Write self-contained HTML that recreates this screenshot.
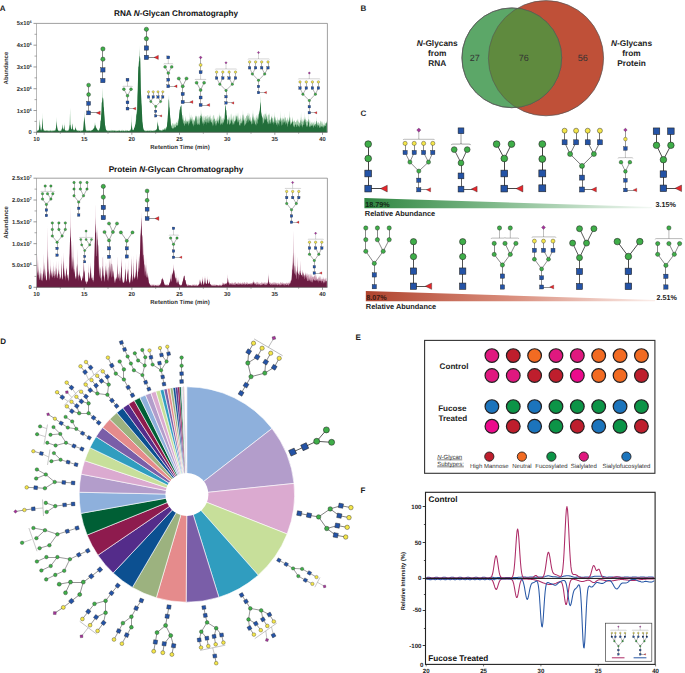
<!DOCTYPE html><html><head><meta charset="utf-8"><style>html,body{margin:0;padding:0;background:#fff;width:685px;height:673px;overflow:hidden}svg{display:block;font-family:"Liberation Sans",sans-serif}</style></head><body><svg width="685" height="673" viewBox="0 0 685 673" text-rendering="geometricPrecision" font-family='"Liberation Sans", sans-serif'>
<rect width="685" height="673" fill="#fff"/>
<text x="-0.2" y="10.7" font-size="8" font-weight="bold" text-anchor="start" fill="#222" font-style="normal" >A</text>
<text x="360.5" y="10.9" font-size="8" font-weight="bold" text-anchor="start" fill="#222" font-style="normal" >B</text>
<text x="360.5" y="115.6" font-size="8" font-weight="bold" text-anchor="start" fill="#222" font-style="normal" >C</text>
<text x="0.3" y="343.6" font-size="8" font-weight="bold" text-anchor="start" fill="#222" font-style="normal" >D</text>
<text x="355.5" y="339.9" font-size="8" font-weight="bold" text-anchor="start" fill="#222" font-style="normal" >E</text>
<text x="360.5" y="492.9" font-size="8" font-weight="bold" text-anchor="start" fill="#222" font-style="normal" >F</text>
<line x1="36.5" y1="23.4" x2="327.4" y2="23.4" stroke="#777" stroke-width="0.7" />
<line x1="327.4" y1="23.4" x2="327.4" y2="132.3" stroke="#777" stroke-width="0.7" />
<path d="M36.7 132.3 L36.7 130.64 L37 130.49 L37.3 130.43 L37.6 129.98 L37.9 129.81 L38.2 130.49 L38.5 130.27 L38.8 130.04 L39.1 128.42 L39.4 126.27 L39.7 121.31 L39.8 118.62 L40 123.22 L40.3 127.65 L40.6 129.72 L40.9 130.05 L41.2 130.41 L41.5 129.82 L41.8 128.75 L42.1 125 L42.4 117.35 L42.5 112.39 L42.7 121.97 L43 127.52 L43.3 129.19 L43.6 129.75 L43.9 130.57 L44.2 130.65 L44.5 130.14 L44.8 130.04 L45.1 130.01 L45.4 130.7 L45.7 130.41 L46 130.6 L46.3 129.88 L46.6 130.01 L46.9 130.04 L47.2 130.03 L47.5 130.46 L47.8 129.82 L48.1 130.63 L48.4 130.64 L48.7 130 L49 129.98 L49.3 130.19 L49.6 130.31 L49.9 130.7 L50.2 130.2 L50.5 129.83 L50.8 129.92 L51.1 130.55 L51.4 130.44 L51.7 130.4 L52 129.86 L52.3 130.7 L52.6 130.01 L52.9 130.3 L53.2 130.03 L53.5 130.56 L53.8 130.06 L54.1 130.35 L54.4 130.33 L54.7 129.91 L55 129.82 L55.3 130.42 L55.6 130.02 L55.9 128.28 L56.2 126.05 L56.5 122.62 L56.7 116.73 L56.8 119.23 L57.1 126.29 L57.4 128.57 L57.7 129.77 L58 130.01 L58.3 130.51 L58.6 130.59 L58.9 130.54 L59.2 130.7 L59.5 130.39 L59.8 130.35 L60.1 130.5 L60.4 129.96 L60.7 130.41 L61 130.47 L61.3 130.68 L61.6 129.8 L61.9 128.85 L62.2 127.15 L62.5 122.89 L62.8 127.2 L63.1 129.07 L63.4 129.98 L63.7 129.11 L64 126.6 L64.2 122.08 L64.3 124.56 L64.6 128.81 L64.9 129.95 L65.2 130.12 L65.5 130.69 L65.8 129.8 L66.1 130.41 L66.4 130.09 L66.7 129.87 L67 130.67 L67.3 130.51 L67.6 130.58 L67.9 130.25 L68.2 130.46 L68.5 129.84 L68.8 128.68 L69.1 127.12 L69.4 124.09 L69.7 119.7 L70 112.8 L70.1 107.72 L70.3 114.11 L70.6 121.35 L70.9 125.39 L71.2 127.58 L71.5 129.02 L71.8 128.93 L72.1 127.42 L72.4 123.58 L72.5 121.92 L72.7 125.67 L73 128.14 L73.3 129.42 L73.6 129.9 L73.9 130.48 L74.2 130.4 L74.5 130.01 L74.8 129.64 L75.1 128.81 L75.4 126.36 L75.5 125.29 L75.7 127.38 L76 128.79 L76.3 129.99 L76.6 129.9 L76.9 130.23 L77.2 130.37 L77.5 130.47 L77.8 130.62 L78.1 130.3 L78.4 130.27 L78.7 130.04 L79 130.69 L79.3 130.65 L79.6 130.64 L79.9 130.65 L80.2 130.63 L80.5 130.33 L80.8 129.75 L81.1 130.06 L81.4 129.76 L81.7 130.43 L82 130.5 L82.3 130.39 L82.6 130.04 L82.9 130.33 L83.2 129.74 L83.5 126.69 L83.8 122.42 L84.1 118.94 L84.4 110.86 L84.7 120.28 L85 122.85 L85.3 126.46 L85.6 129.39 L85.9 130.26 L86.2 129.77 L86.5 130.11 L86.8 129.87 L87.1 130.65 L87.4 130.09 L87.7 129.89 L88 130.61 L88.3 129.98 L88.6 130.61 L88.9 130.12 L89.2 130.23 L89.5 130.13 L89.8 130.58 L90.1 130.61 L90.4 130.37 L90.7 130.37 L91 129.82 L91.3 130.36 L91.6 130.03 L91.9 130.23 L92.2 129.94 L92.5 129.9 L92.8 129.53 L93.1 129.46 L93.4 128.77 L93.7 128.56 L94 127.67 L94.3 126.42 L94.6 124.75 L94.9 122.65 L95 122.06 L95.2 123.41 L95.5 125.27 L95.8 126.72 L96.1 127.6 L96.4 128.27 L96.7 128.83 L97 129.31 L97.3 129.68 L97.6 129.81 L97.9 129.76 L98.2 130.44 L98.5 130.09 L98.8 130.61 L99.1 130.3 L99.4 129.5 L99.7 128.6 L100 127.55 L100.3 124.93 L100.6 120.69 L100.9 120.42 L101.2 115.19 L101.5 111.57 L101.8 102.7 L102.1 101.98 L102.4 98.74 L102.7 87.28 L103 97.59 L103.3 100.14 L103.6 106.58 L103.9 108.02 L104.2 114.02 L104.5 117.39 L104.8 121.8 L105.1 125.27 L105.4 126.72 L105.7 128.86 L106 129.6 L106.3 130.19 L106.6 130.49 L106.9 130.48 L107.2 130.44 L107.5 130.29 L107.8 130.41 L108.1 130.39 L108.4 130.7 L108.7 129.92 L109 130.62 L109.3 130.68 L109.6 129.79 L109.9 130.68 L110.2 130.69 L110.5 130.02 L110.8 130.03 L111.1 129.78 L111.4 129.97 L111.7 130.16 L112 130.57 L112.3 129.97 L112.6 130 L112.9 130.02 L113.2 130.16 L113.5 130.08 L113.8 130 L114.1 130.59 L114.4 129.88 L114.7 130.34 L115 130.27 L115.3 130.62 L115.6 130.14 L115.9 130.29 L116.2 130.34 L116.5 130.69 L116.8 130.48 L117.1 130.22 L117.4 130.64 L117.7 130.51 L118 130.7 L118.3 129.75 L118.6 130.37 L118.9 130.57 L119.2 130.43 L119.5 130.05 L119.8 129.79 L120.1 130.69 L120.4 130.63 L120.7 130.69 L121 129.92 L121.3 129.82 L121.6 130.68 L121.9 130.46 L122.2 129.8 L122.5 129.8 L122.8 130.64 L123.1 130.69 L123.4 129.87 L123.7 130.13 L124 130.65 L124.3 130.54 L124.6 130.52 L124.9 130.63 L125.2 130.7 L125.5 129.84 L125.8 129.9 L126.1 130.22 L126.4 130.65 L126.7 129.92 L127 130.37 L127.3 130.61 L127.6 129.85 L127.9 130.51 L128.2 130.65 L128.5 130.61 L128.8 130.69 L129.1 130.57 L129.4 130.34 L129.7 129.92 L130 130.67 L130.3 130.34 L130.6 130.24 L130.9 128.71 L131.2 125.05 L131.5 118.45 L131.6 114.06 L131.8 121.54 L132.1 126.68 L132.4 129.44 L132.7 129.91 L133 130.44 L133.3 130.06 L133.6 130.3 L133.9 129.09 L134.2 128.08 L134.5 127.86 L134.8 126.75 L135.1 125.35 L135.4 124.11 L135.7 121.24 L136 116.17 L136.2 111.62 L136.3 112.54 L136.5 106.68 L136.6 110.07 L136.9 114.55 L137.2 108.96 L137.5 96.4 L137.8 89.59 L138.1 74.4 L138.4 67.09 L138.7 66.36 L139 60.44 L139.3 55.91 L139.4 44.95 L139.6 57.98 L139.9 55.71 L140.2 58.99 L140.5 72.66 L140.8 88.12 L141.1 95.9 L141.4 103.09 L141.7 106.42 L142 113.12 L142.3 121.29 L142.6 123.24 L142.9 125.39 L143.2 128.15 L143.5 128.88 L143.8 129.97 L144.1 130.17 L144.4 130.21 L144.7 130.65 L145 130.5 L145.3 130.06 L145.6 130.55 L145.9 130.66 L146.2 130.7 L146.5 130.29 L146.8 130.7 L147.1 130.58 L147.4 130.55 L147.7 130.03 L148 130.53 L148.3 130.69 L148.6 130.36 L148.9 129.78 L149.2 129.94 L149.5 130.42 L149.8 130.5 L150.1 129.78 L150.4 130.29 L150.7 130.62 L151 130.33 L151.3 130.31 L151.6 130.58 L151.9 130.28 L152.2 130.68 L152.5 129.93 L152.8 130.66 L153.1 129.97 L153.4 130.29 L153.7 130.69 L154 130.26 L154.3 130.43 L154.6 130.29 L154.9 130.08 L155.2 129.98 L155.5 129.81 L155.8 130.28 L156.1 129.85 L156.4 129.56 L156.7 129.55 L157 128.33 L157.3 125.6 L157.6 122.56 L157.8 119.81 L157.9 121.58 L158.2 125.68 L158.5 126.47 L158.8 129.17 L159.1 129.58 L159.4 130 L159.7 130.43 L160 130.46 L160.3 129.8 L160.6 129.96 L160.9 129.65 L161.2 130 L161.5 130.06 L161.8 130.04 L162.1 129.67 L162.4 129.72 L162.7 129.19 L163 128.68 L163.3 129.38 L163.6 129.33 L163.9 129.24 L164.2 127.79 L164.5 128.2 L164.8 128.55 L165.1 127.94 L165.4 128.82 L165.7 127.38 L166 128.54 L166.3 127.26 L166.6 126.8 L166.9 126.77 L167.2 123.31 L167.5 121.18 L167.8 117 L168.1 112.19 L168.4 108.49 L168.7 99.55 L169 94.42 L169.3 106.74 L169.6 108.29 L169.9 112.5 L170.2 117.15 L170.5 119.52 L170.8 123.37 L171.1 125.81 L171.4 125.51 L171.7 124.03 L172 126.32 L172.3 123.91 L172.6 122.83 L172.9 123.32 L173.2 125.75 L173.5 124.43 L173.8 123.12 L174.1 124.7 L174.4 125.12 L174.7 123.57 L175 123.47 L175.3 124.31 L175.6 124.73 L175.9 122.73 L176.2 121.6 L176.5 122.76 L176.8 122.82 L177.1 123.3 L177.4 123.41 L177.7 119.96 L178 123.8 L178.3 121.7 L178.6 119.55 L178.9 118.15 L179.2 114.85 L179.5 112.27 L179.8 109.31 L180.1 109.93 L180.4 106.42 L180.6 105.06 L180.7 107.09 L181 105.88 L181.3 104.75 L181.6 111.33 L181.9 113.82 L182.2 115.41 L182.5 117.9 L182.8 119.77 L183.1 117.64 L183.35 113.99 L183.4 116.72 L183.7 119.59 L184 120.99 L184.3 120.19 L184.6 121.22 L184.9 120.71 L185.2 120.09 L185.5 115.87 L185.8 118.53 L186.1 120.68 L186.4 120.9 L186.7 120.9 L187 117.91 L187.3 121.02 L187.6 121.11 L187.9 120.59 L188.2 121.23 L188.5 121.18 L188.8 118.87 L189.1 120.86 L189.4 121.11 L189.7 118.71 L189.95 111.41 L190 114.26 L190.3 120.26 L190.6 118.24 L190.9 116.74 L191 113.93 L191.2 115.59 L191.5 120.87 L191.8 117.06 L192.1 120.22 L192.4 116.23 L192.7 117.35 L193 121.13 L193.3 119.04 L193.6 120.65 L193.9 119.36 L194.2 119.86 L194.5 120.76 L194.8 119.92 L195.1 118.05 L195.4 118.98 L195.7 117.05 L196 113.96 L196.3 117.05 L196.6 116.35 L196.9 121.22 L197.2 119.38 L197.5 115.58 L197.8 119.17 L198.1 120.28 L198.4 115.29 L198.7 116.51 L199 119.66 L199.3 115.93 L199.6 119.55 L199.9 116.18 L200.2 115.68 L200.5 115.46 L200.5 115.63 L200.8 114.57 L201 108.53 L201.1 111.64 L201.4 116.48 L201.7 116.56 L202 120.75 L202.3 117.4 L202.6 115.48 L202.9 118 L203.2 120.82 L203.5 116.62 L203.8 115.23 L204.1 121.29 L204.4 117.93 L204.7 117.38 L204.98 114.41 L205 115.18 L205.3 120.82 L205.6 116.39 L205.9 116.47 L206.2 116.13 L206.5 121.05 L206.8 116.24 L206.99 115.25 L207.1 118.19 L207.4 118.74 L207.7 115.3 L208 114.8 L208.3 120.43 L208.6 120.95 L208.9 116.44 L209 114.12 L209.2 116.2 L209.5 116.68 L209.8 120.6 L210.1 116.25 L210.4 115.25 L210.46 113.06 L210.7 120.15 L211 120.12 L211.3 118.86 L211.6 117.83 L211.9 120.79 L212.2 120.95 L212.5 115.2 L212.8 120.7 L213.1 119.79 L213.4 115.09 L213.7 115.77 L214 114.56 L214.3 118.34 L214.6 119.84 L214.9 117.36 L215.2 120.56 L215.5 120.97 L215.8 120.82 L216.1 117.96 L216.4 120.72 L216.7 120.57 L217 118.81 L217.3 117.46 L217.5 115.5 L217.6 117.37 L217.9 121.07 L218.2 120.26 L218.5 120.59 L218.8 118.97 L219 113.1 L219.1 116.55 L219.4 115.57 L219.7 115.06 L219.84 111.71 L220 115.13 L220.3 116.46 L220.6 117.06 L220.9 115.67 L221.2 121.06 L221.5 114.79 L221.8 120.01 L222.1 117.82 L222.4 119.99 L222.7 120.72 L223 117.15 L223.3 119.08 L223.6 117.47 L223.9 121.11 L224.2 119.04 L224.5 120.21 L224.8 115.12 L225.1 109.93 L225.4 105.86 L225.7 104.37 L226 109.43 L226.3 110.64 L226.6 115.81 L226.9 115.31 L227.2 119.24 L227.5 119.57 L227.8 118.93 L228.1 120.72 L228.4 119.42 L228.55 114.12 L228.7 119.13 L229 116.66 L229.3 121.04 L229.6 115.71 L229.9 118.16 L230.2 120.34 L230.5 120.58 L230.8 115.43 L231.06 112.45 L231.1 113.9 L231.4 114.75 L231.7 121.26 L232 116.04 L232.3 118.86 L232.6 120.13 L232.9 118.15 L233.2 115.6 L233.5 120.44 L233.8 115.48 L234.1 115.19 L234.4 120.99 L234.7 121.26 L235 121.03 L235.3 119.41 L235.6 115.54 L235.9 115.45 L236 112.32 L236.2 115.99 L236.5 117.5 L236.68 114.19 L236.8 118.27 L237.1 117.61 L237.4 115.64 L237.7 115.85 L238 112.45 L238.04 112.33 L238.3 116.57 L238.6 120.54 L238.9 120.61 L239.2 120.04 L239.5 120.08 L239.8 118.04 L240.1 119.42 L240.4 114.76 L240.7 118.66 L241 119 L241.3 121 L241.6 121.05 L241.9 117.33 L242.2 117.95 L242.5 121.24 L242.8 114.25 L243 109.84 L243.1 113.82 L243.4 116.41 L243.7 120.68 L244 118.79 L244.3 119.82 L244.6 120.89 L244.9 115.64 L245.2 120.76 L245.5 117.89 L245.8 118.33 L246.1 116.2 L246.37 114.69 L246.4 115.87 L246.7 116.17 L247 116.29 L247.3 120.43 L247.6 116.75 L247.77 114.52 L247.9 115.18 L248 111.29 L248.2 115.13 L248.5 115.89 L248.8 116.47 L249.1 121.01 L249.4 118.27 L249.54 113.42 L249.7 114.75 L249.79 112.5 L250 116.75 L250.3 116.85 L250.6 120.63 L250.9 117.2 L251.2 120.18 L251.5 121.02 L251.8 121.06 L252.1 118.53 L252.4 117.3 L252.7 117.79 L253 109.34 L253.3 117.9 L253.6 115.73 L253.9 120.43 L254.2 119.69 L254.5 116.78 L254.8 119.14 L255.1 121.08 L255.4 119.75 L255.7 118.94 L256 115.3 L256.3 115.33 L256.6 118.1 L256.9 117.45 L257.2 119.42 L257.5 117.52 L257.74 115.98 L257.8 114.06 L258.1 118.07 L258.4 118.83 L258.7 113.71 L258.75 111.82 L259 114.89 L259.3 109.99 L259.6 113.7 L259.9 108.99 L260.2 105.92 L260.5 95.34 L260.8 101.94 L261.1 112.04 L261.4 113.72 L261.7 115.48 L262 116.59 L262.13 115.81 L262.3 116.43 L262.6 118.3 L262.9 117.25 L263.2 119.18 L263.5 115.19 L263.8 114.59 L264.1 114.15 L264.14 112.08 L264.4 119.14 L264.7 117.56 L264.77 113.53 L264.91 115.1 L265 112.77 L265.3 115.19 L265.6 113.83 L265.9 113.95 L266 109.78 L266.2 115.89 L266.5 115.13 L266.63 112.42 L266.8 117.54 L267.1 114.45 L267.4 117.75 L267.7 119.52 L268 118.79 L268.3 113.17 L268.6 115.58 L268.9 114.55 L269.2 114.9 L269.5 112.54 L269.8 119.3 L270.1 119.19 L270.4 121.09 L270.7 118.65 L271 120.52 L271.3 117.61 L271.48 116.21 L271.6 118.89 L271.9 115.83 L272 112.47 L272.2 118.29 L272.5 117.55 L272.8 121.35 L273.1 121.38 L273.4 121.45 L273.7 119.47 L274 116.83 L274.3 118.63 L274.6 116.81 L274.84 111.55 L274.9 114.42 L275.03 116.83 L275.2 117.09 L275.5 118.19 L275.8 121.35 L276.1 121.42 L276.4 121.01 L276.7 119.69 L277 120.36 L277.3 119.19 L277.6 116.76 L277.9 121.73 L278.2 119.37 L278.5 120.37 L278.8 120.82 L279.1 118.08 L279.4 121.69 L279.7 120.47 L280 119.19 L280.21 110.44 L280.3 114.81 L280.6 121.92 L280.9 117.72 L281.2 120.63 L281.5 117.41 L281.8 120.48 L282.1 119.53 L282.27 115.2 L282.4 118.95 L282.7 120.93 L283 118.09 L283.3 119.84 L283.6 118.64 L283.9 117.9 L284 115.15 L284.06 112.77 L284.2 116.93 L284.5 121.44 L284.8 121.6 L285.1 117.56 L285.4 117.52 L285.7 116.83 L285.7 117.24 L286 120.91 L286.3 121.33 L286.6 119.72 L286.9 119.99 L287.2 116.93 L287.5 120.4 L287.8 117.52 L288.1 122.37 L288.4 120.6 L288.7 120.54 L289 118.41 L289.3 112.09 L289.36 109.95 L289.6 118.94 L289.81 115.61 L289.9 118.6 L290.2 116.99 L290.5 120.03 L290.8 121.24 L291.1 122.67 L291.4 121.66 L291.7 122.7 L292 118.42 L292.26 116.22 L292.3 117.4 L292.6 122.01 L292.9 117.69 L293.2 121.81 L293.5 121.88 L293.8 121.32 L294.1 120.96 L294.4 120.08 L294.7 120.93 L295 121.89 L295.3 122.15 L295.6 122.26 L295.9 122.24 L296.2 120.23 L296.5 122.72 L296.8 120.08 L297.1 121.59 L297.4 118.83 L297.7 121.25 L298 118.02 L298.3 122.49 L298.6 120.93 L298.9 122.31 L299.2 122.91 L299.5 123.23 L299.8 122.07 L300.1 122.59 L300.4 123.39 L300.7 120.05 L300.92 116.03 L301 112.1 L301.02 111.79 L301.3 119.4 L301.6 121.41 L301.9 121.44 L302.2 121.97 L302.5 118.62 L302.8 121.68 L303.1 122.71 L303.4 121.97 L303.7 119.67 L303.81 116.72 L304 121.27 L304.3 120.11 L304.5 111.3 L304.6 116.68 L304.9 119.11 L305.2 119.67 L305.44 115.89 L305.5 118.08 L305.8 119.67 L306.1 120.01 L306.4 120.3 L306.7 122.2 L307 121.87 L307.3 121.25 L307.6 120.42 L307.9 121.68 L308.2 121.94 L308.5 119.05 L308.64 111.86 L308.8 119.46 L309.1 119.4 L309.4 121.48 L309.7 123.59 L310 119.98 L310.3 122.2 L310.6 124.13 L310.9 123.69 L311.2 122.66 L311.5 121.47 L311.8 123.44 L312.1 123.93 L312.4 123.39 L312.7 121.29 L313 123.95 L313.3 123.37 L313.6 121.83 L313.9 123.47 L314.2 120.48 L314.5 124.14 L314.8 124.37 L315.1 124.19 L315.4 121.44 L315.7 123.94 L316 124.13 L316.3 120.82 L316.49 116.61 L316.6 119.75 L316.9 124.43 L317.2 124.19 L317.5 121.9 L317.8 123.17 L318.1 122.07 L318.4 122.03 L318.7 123.71 L319 122.34 L319.3 124.72 L319.6 123.98 L319.9 123.11 L320.2 122.67 L320.5 121.06 L320.8 120.4 L321.1 122.11 L321.4 121.03 L321.7 124.82 L322 121.8 L322.3 124.07 L322.6 123.78 L322.9 120.92 L323.2 123.83 L323.5 124.87 L323.8 125.03 L324.1 124.96 L324.4 124.94 L324.7 121.07 L325 124.22 L325.3 124.61 L325.6 123.37 L325.9 122.89 L326.2 122.24 L326.5 120.29 L326.8 123.82 L326.8 132.3 Z" fill="#9fcaa8"/>
<path d="M36.7 132.3 L36.7 131.22 L37 131.04 L37.3 131.42 L37.6 131.06 L37.9 130.78 L38.2 130.49 L38.5 130.59 L38.8 130.04 L39.1 128.42 L39.4 126.27 L39.7 124.67 L39.8 119.49 L40 123.51 L40.3 127.66 L40.6 129.72 L40.9 130.59 L41.2 130.79 L41.5 129.82 L41.8 128.75 L42.1 125 L42.4 117.63 L42.5 119.25 L42.7 123.41 L43 128.35 L43.3 129.19 L43.6 130.09 L43.9 130.89 L44.2 130.87 L44.5 130.73 L44.8 131.02 L45.1 130.8 L45.4 131.21 L45.7 130.73 L46 131.32 L46.3 131 L46.6 130.98 L46.9 130.77 L47.2 131.36 L47.5 130.72 L47.8 131.18 L48.1 130.92 L48.4 131.4 L48.7 130.78 L49 131.38 L49.3 130.72 L49.6 131.22 L49.9 131.4 L50.2 130.72 L50.5 131.08 L50.8 131.15 L51.1 131.3 L51.4 131.29 L51.7 131.22 L52 131.16 L52.3 131.08 L52.6 131.49 L52.9 130.91 L53.2 131.05 L53.5 131.28 L53.8 131.01 L54.1 130.95 L54.4 131.03 L54.7 130.69 L55 130.62 L55.3 130.87 L55.6 130.02 L55.9 128.28 L56.2 126.05 L56.5 124.72 L56.7 122.56 L56.8 120.96 L57.1 127.01 L57.4 128.57 L57.7 129.77 L58 130.33 L58.3 130.67 L58.6 130.88 L58.9 131.1 L59.2 131.16 L59.5 131.3 L59.8 131.13 L60.1 131.1 L60.4 131.28 L60.7 131.03 L61 131.11 L61.3 130.68 L61.6 129.8 L61.9 128.85 L62.2 128.18 L62.5 124.57 L62.8 128.24 L63.1 129.07 L63.4 129.98 L63.7 129.11 L64 127.84 L64.2 125.67 L64.3 124.79 L64.6 128.81 L64.9 129.95 L65.2 130.12 L65.5 131.06 L65.8 131.08 L66.1 130.86 L66.4 131.19 L66.7 131.23 L67 131.06 L67.3 130.98 L67.6 130.91 L67.9 130.25 L68.2 130.69 L68.5 130.68 L68.8 129.8 L69.1 129.45 L69.4 128.21 L69.7 125.7 L70 124.92 L70.1 125.22 L70.3 124.52 L70.6 126.73 L70.9 128.02 L71.2 129.43 L71.5 129.41 L71.8 128.93 L72.1 128.82 L72.4 124.09 L72.5 123.79 L72.7 125.78 L73 128.76 L73.3 129.42 L73.6 129.9 L73.9 130.5 L74.2 130.4 L74.5 130.01 L74.8 129.64 L75.1 129.18 L75.4 128.32 L75.5 127.21 L75.7 127.9 L76 128.79 L76.3 129.99 L76.6 130.35 L76.9 130.96 L77.2 131.07 L77.5 130.56 L77.8 130.75 L78.1 131.4 L78.4 131.13 L78.7 130.87 L79 131.08 L79.3 130.73 L79.6 130.76 L79.9 130.84 L80.2 131.47 L80.5 131.41 L80.8 131.42 L81.1 131.21 L81.4 130.99 L81.7 131.01 L82 131.49 L82.3 130.97 L82.6 130.68 L82.9 130.33 L83.2 129.74 L83.5 126.69 L83.8 122.42 L84.1 118.94 L84.4 116.87 L84.7 120.28 L85 122.85 L85.3 126.46 L85.6 129.39 L85.9 130.26 L86.2 130.82 L86.5 131.12 L86.8 131.42 L87.1 131.19 L87.4 130.9 L87.7 130.78 L88 131.34 L88.3 130.93 L88.6 130.83 L88.9 131.14 L89.2 130.69 L89.5 131.06 L89.8 130.58 L90.1 131.22 L90.4 131.2 L90.7 131.02 L91 130.89 L91.3 130.5 L91.6 130.71 L91.9 130.23 L92.2 129.94 L92.5 130.15 L92.8 129.53 L93.1 129.46 L93.4 128.77 L93.7 128.71 L94 128.08 L94.3 128.2 L94.6 126.76 L94.9 125.5 L95 125.74 L95.2 124.97 L95.5 125.71 L95.8 127.58 L96.1 127.6 L96.4 128.27 L96.7 128.83 L97 129.31 L97.3 129.68 L97.6 130.2 L97.9 130.54 L98.2 130.76 L98.5 130.56 L98.8 130.77 L99.1 130.44 L99.4 129.5 L99.7 128.6 L100 127.55 L100.3 124.93 L100.6 120.69 L100.9 120.42 L101.2 115.19 L101.5 111.57 L101.8 102.7 L102.1 101.98 L102.4 98.74 L102.7 97.5 L103 97.59 L103.3 100.14 L103.6 106.58 L103.9 108.02 L104.2 114.02 L104.5 117.39 L104.8 121.8 L105.1 125.27 L105.4 126.72 L105.7 128.86 L106 129.6 L106.3 130.19 L106.6 130.49 L106.9 130.79 L107.2 131.17 L107.5 131.42 L107.8 130.75 L108.1 130.71 L108.4 131.38 L108.7 131.43 L109 130.91 L109.3 130.92 L109.6 131.3 L109.9 130.85 L110.2 131.11 L110.5 131.38 L110.8 131.19 L111.1 131.45 L111.4 130.72 L111.7 131.2 L112 131.5 L112.3 131.47 L112.6 130.82 L112.9 131.06 L113.2 131.01 L113.5 131.3 L113.8 131.43 L114.1 130.88 L114.4 131.04 L114.7 130.79 L115 131.12 L115.3 131.35 L115.6 131.36 L115.9 131.21 L116.2 131.18 L116.5 131.38 L116.8 130.7 L117.1 131.42 L117.4 130.87 L117.7 131.02 L118 131.08 L118.3 131.47 L118.6 130.81 L118.9 131.05 L119.2 130.88 L119.5 130.74 L119.8 130.84 L120.1 131.3 L120.4 131.34 L120.7 131.43 L121 131.05 L121.3 131.13 L121.6 130.77 L121.9 131.02 L122.2 131.4 L122.5 130.99 L122.8 131.14 L123.1 131.32 L123.4 130.78 L123.7 130.87 L124 131.45 L124.3 130.96 L124.6 131.41 L124.9 131.11 L125.2 130.96 L125.5 131.47 L125.8 130.8 L126.1 130.82 L126.4 130.99 L126.7 131.38 L127 131.36 L127.3 130.96 L127.6 130.69 L127.9 130.84 L128.2 131.03 L128.5 131.26 L128.8 130.89 L129.1 130.76 L129.4 131.06 L129.7 131.23 L130 131.07 L130.3 130.38 L130.6 130.24 L130.9 128.98 L131.2 127.83 L131.5 125 L131.6 121.6 L131.8 125.15 L132.1 128.08 L132.4 129.76 L132.7 129.91 L133 130.44 L133.3 130.06 L133.6 130.3 L133.9 129.09 L134.2 128.08 L134.5 127.86 L134.8 126.75 L135.1 125.35 L135.4 124.55 L135.7 123.46 L136 120.48 L136.2 118.63 L136.3 114.61 L136.5 116.52 L136.6 114.02 L136.9 114.55 L137.2 108.96 L137.5 96.4 L137.8 89.59 L138.1 74.4 L138.4 67.09 L138.7 66.36 L139 60.44 L139.3 61.77 L139.4 48.92 L139.6 58.9 L139.9 55.71 L140.2 58.99 L140.5 72.66 L140.8 88.12 L141.1 95.9 L141.4 103.09 L141.7 106.42 L142 113.12 L142.3 121.29 L142.6 123.24 L142.9 125.39 L143.2 128.15 L143.5 128.88 L143.8 130.02 L144.1 130.17 L144.4 130.47 L144.7 131.12 L145 130.69 L145.3 131.03 L145.6 131.4 L145.9 131.14 L146.2 131.44 L146.5 130.71 L146.8 131.06 L147.1 130.98 L147.4 130.83 L147.7 131.36 L148 130.84 L148.3 131.31 L148.6 131.1 L148.9 131.15 L149.2 130.83 L149.5 131.23 L149.8 131.05 L150.1 130.81 L150.4 131.26 L150.7 131.48 L151 131.17 L151.3 130.79 L151.6 131.07 L151.9 131.31 L152.2 131.02 L152.5 131.14 L152.8 130.87 L153.1 131.39 L153.4 130.69 L153.7 130.83 L154 131.42 L154.3 130.8 L154.6 130.61 L154.9 131.15 L155.2 130.68 L155.5 130.36 L155.8 130.28 L156.1 130.27 L156.4 129.56 L156.7 129.62 L157 128.45 L157.3 125.6 L157.6 122.56 L157.8 122.42 L157.9 124.33 L158.2 125.68 L158.5 126.47 L158.8 129.28 L159.1 129.58 L159.4 130 L159.7 130.43 L160 130.46 L160.3 130.6 L160.6 130.46 L160.9 130.48 L161.2 130.52 L161.5 131.16 L161.8 130.93 L162.1 130.64 L162.4 130.74 L162.7 129.93 L163 130.54 L163.3 129.74 L163.6 129.91 L163.9 129.9 L164.2 129.56 L164.5 129.36 L164.8 129.62 L165.1 130.53 L165.4 129.71 L165.7 129.3 L166 128.73 L166.3 128.6 L166.6 127.35 L166.9 126.77 L167.2 123.31 L167.5 121.18 L167.8 117 L168.1 112.19 L168.4 108.49 L168.7 99.55 L169 99.84 L169.3 106.74 L169.6 108.29 L169.9 112.5 L170.2 117.15 L170.5 119.52 L170.8 123.37 L171.1 125.81 L171.4 126.21 L171.7 127.56 L172 128.17 L172.3 128.7 L172.6 128.11 L172.9 128.39 L173.2 127.7 L173.5 128.64 L173.8 128.48 L174.1 125.81 L174.4 127.92 L174.7 127.38 L175 126.82 L175.3 127.25 L175.6 127.13 L175.9 127.62 L176.2 125.31 L176.5 125.94 L176.8 124.97 L177.1 125.14 L177.4 125.08 L177.7 126.12 L178 125.42 L178.3 121.7 L178.6 119.93 L178.9 118.15 L179.2 114.85 L179.5 112.27 L179.8 109.31 L180.1 109.93 L180.4 106.42 L180.6 107.15 L180.7 107.09 L181 105.88 L181.3 104.75 L181.6 111.33 L181.9 113.82 L182.2 115.41 L182.5 119.03 L182.8 120 L183.1 123.46 L183.35 122.33 L183.4 118.88 L183.7 123.3 L184 124.35 L184.3 125.96 L184.6 125.48 L184.9 122.32 L185.2 123.64 L185.5 124.33 L185.8 121.72 L186.1 121.75 L186.4 123.02 L186.7 123.71 L187 124.7 L187.3 122.22 L187.6 121.65 L187.9 122.08 L188.2 123.07 L188.5 124.87 L188.8 126.12 L189.1 121.93 L189.4 124.36 L189.7 122.58 L189.95 118.78 L190 119.08 L190.3 120.55 L190.6 122.4 L190.9 116.74 L191 119.05 L191.2 118.87 L191.5 121.98 L191.8 120.32 L192.1 121.14 L192.4 125.08 L192.7 122.83 L193 124.44 L193.3 126.73 L193.6 124.89 L193.9 122.86 L194.2 121.35 L194.5 121.06 L194.8 124.81 L195.1 125.11 L195.4 119.44 L195.7 117.05 L196 115.48 L196.3 117.05 L196.6 121.06 L196.9 124.08 L197.2 124.42 L197.5 125.3 L197.8 122.41 L198.1 123.77 L198.4 124.71 L198.7 124.31 L199 121.98 L199.3 125.01 L199.6 125.19 L199.9 122.95 L200.2 118.08 L200.5 117.99 L200.5 119.51 L200.8 115.29 L201 116.27 L201.1 113.14 L201.4 116.48 L201.7 116.56 L202 122.62 L202.3 124.47 L202.6 120.6 L202.9 122.35 L203.2 126.25 L203.5 121.59 L203.8 122.72 L204.1 124.33 L204.4 123.22 L204.7 120.5 L204.98 119.74 L205 115.18 L205.3 120.82 L205.6 122.73 L205.9 121.7 L206.2 122.2 L206.5 125.19 L206.8 118.85 L206.99 118.91 L207.1 118.19 L207.4 120.98 L207.7 123.25 L208 121.8 L208.3 123.46 L208.6 122.2 L208.9 116.44 L209 117.68 L209.2 116.2 L209.5 123.72 L209.8 120.68 L210.1 120.78 L210.4 117.5 L210.46 118.79 L210.7 121.18 L211 122.55 L211.3 122.22 L211.6 122.75 L211.9 121.55 L212.2 124.2 L212.5 126.41 L212.8 121.71 L213.1 125.88 L213.4 124.19 L213.7 120.24 L214 119.06 L214.3 118.86 L214.6 123.98 L214.9 121.77 L215.2 121.2 L215.5 126.3 L215.8 124.22 L216.1 123.08 L216.4 123.23 L216.7 126.11 L217 123.69 L217.3 120.17 L217.5 120.71 L217.6 121.38 L217.9 121.52 L218.2 124.05 L218.5 122.9 L218.8 121.58 L219 115.72 L219.1 116.64 L219.4 118.87 L219.7 121.35 L219.84 118.03 L220 120.83 L220.3 124.36 L220.6 125.38 L220.9 123.23 L221.2 124.64 L221.5 122.32 L221.8 123.8 L222.1 123.06 L222.4 125.61 L222.7 122.71 L223 121.8 L223.3 123.76 L223.6 121.03 L223.9 123.04 L224.2 119.04 L224.5 120.29 L224.8 115.39 L225.1 109.93 L225.4 105.86 L225.7 105.56 L226 109.43 L226.3 110.64 L226.6 115.81 L226.9 115.31 L227.2 122.88 L227.5 124.47 L227.8 124.22 L228.1 122.65 L228.4 120.24 L228.55 118.35 L228.7 120.08 L229 120.44 L229.3 125.14 L229.6 124.31 L229.9 124.24 L230.2 123.11 L230.5 124.09 L230.8 121.93 L231.06 118.08 L231.1 120.37 L231.4 119.01 L231.7 121.62 L232 121.02 L232.3 121.99 L232.6 123.24 L232.9 125.28 L233.2 123.59 L233.5 122.74 L233.8 124.64 L234.1 124.42 L234.4 122.38 L234.7 121.3 L235 121.41 L235.3 119.41 L235.6 122.12 L235.9 119.19 L236 115.4 L236.2 115.99 L236.5 117.5 L236.68 120.06 L236.8 119.12 L237.1 119.6 L237.4 122.95 L237.7 121.56 L238 118.46 L238.04 117.23 L238.3 119.74 L238.6 122.74 L238.9 121.16 L239.2 125.7 L239.5 124.85 L239.8 125.73 L240.1 123.03 L240.4 122.97 L240.7 126.34 L241 122.92 L241.3 123.83 L241.6 121.84 L241.9 123.84 L242.2 120.57 L242.5 123.78 L242.8 114.25 L243 115.75 L243.1 114.35 L243.4 118.98 L243.7 120.89 L244 120.22 L244.3 123.54 L244.6 125.47 L244.9 125.95 L245.2 123.21 L245.5 124.66 L245.8 124.61 L246.1 120.45 L246.37 121.27 L246.4 120.71 L246.7 123.27 L247 123.29 L247.3 120.48 L247.6 119.22 L247.77 114.52 L247.9 115.7 L248 111.71 L248.2 118.22 L248.5 119.44 L248.8 122.79 L249.1 121.12 L249.4 120.3 L249.54 120.31 L249.7 120.27 L249.79 117.9 L250 118.88 L250.3 121.93 L250.6 120.63 L250.9 122.29 L251.2 122.14 L251.5 124.06 L251.8 124.42 L252.1 124.06 L252.4 122.95 L252.7 117.79 L253 112.85 L253.3 121.03 L253.6 118.35 L253.9 124.57 L254.2 120.56 L254.5 120.93 L254.8 122.17 L255.1 124.82 L255.4 124.33 L255.7 123.55 L256 125.87 L256.3 124.7 L256.6 119.95 L256.9 122.58 L257.2 124.03 L257.5 123.02 L257.74 116.83 L257.8 118.95 L258.1 120.34 L258.4 118.83 L258.7 115.51 L258.75 113.39 L259 114.89 L259.3 109.99 L259.6 113.7 L259.9 108.99 L260.2 105.92 L260.5 103.44 L260.8 101.94 L261.1 112.04 L261.4 113.72 L261.7 115.48 L262 116.59 L262.13 118.41 L262.3 116.43 L262.6 118.3 L262.9 124.85 L263.2 121.99 L263.5 123.26 L263.8 122.9 L264.1 115.52 L264.14 118.35 L264.4 121.64 L264.7 117.59 L264.77 115.03 L264.91 119.64 L265 119.27 L265.3 118.77 L265.6 120.47 L265.9 119.11 L266 116.33 L266.2 117.41 L266.5 119.58 L266.63 115.65 L266.8 119.54 L267.1 122.43 L267.4 121.13 L267.7 121.76 L268 124.79 L268.3 123.22 L268.6 123.83 L268.9 121.04 L269.2 119.87 L269.5 120.95 L269.8 124.38 L270.1 121.65 L270.4 122.46 L270.7 123.54 L271 124.15 L271.3 119.49 L271.48 117.27 L271.6 119.31 L271.9 115.83 L272 117.4 L272.2 118.81 L272.5 122.12 L272.8 123.15 L273.1 121.87 L273.4 125.05 L273.7 122.71 L274 121.78 L274.3 123.67 L274.6 119.8 L274.84 115.41 L274.9 117.35 L275.03 120.65 L275.2 118.17 L275.5 121.68 L275.8 123.19 L276.1 122.73 L276.4 124.38 L276.7 125.24 L277 123.43 L277.3 121.78 L277.6 123.62 L277.9 127.05 L278.2 123.83 L278.5 122.97 L278.8 123.68 L279.1 126.14 L279.4 121.69 L279.7 120.47 L280 119.43 L280.21 118.01 L280.3 117.11 L280.6 121.92 L280.9 121.16 L281.2 125.34 L281.5 125.79 L281.8 120.48 L282.1 122.22 L282.27 116.93 L282.4 121.68 L282.7 124.47 L283 125.37 L283.3 121.86 L283.6 123.22 L283.9 117.9 L284 119.86 L284.06 116.71 L284.2 119.71 L284.5 123 L284.8 121.6 L285.1 123.65 L285.4 125.21 L285.7 116.83 L285.7 121.68 L286 120.91 L286.3 124.25 L286.6 122.12 L286.9 122.86 L287.2 125.6 L287.5 127.21 L287.8 123.09 L288.1 124.19 L288.4 121.94 L288.7 122.2 L289 120.13 L289.3 117.85 L289.36 116.22 L289.6 122.2 L289.81 120.75 L289.9 120.06 L290.2 125.51 L290.5 123.12 L290.8 125.66 L291.1 122.89 L291.4 123.28 L291.7 124.23 L292 123.84 L292.26 118.81 L292.3 120.87 L292.6 122.01 L292.9 122.36 L293.2 126.08 L293.5 127.01 L293.8 124.46 L294.1 126.82 L294.4 127.38 L294.7 125.76 L295 125.11 L295.3 123.39 L295.6 125.23 L295.9 124.44 L296.2 124.42 L296.5 126.88 L296.8 127.07 L297.1 124.75 L297.4 124.24 L297.7 124.65 L298 127.19 L298.3 125.31 L298.6 126.46 L298.9 125.28 L299.2 126.83 L299.5 127.49 L299.8 123.26 L300.1 125.66 L300.4 125.19 L300.7 120.05 L300.92 120.42 L301 116.65 L301.02 116.61 L301.3 124.58 L301.6 123.96 L301.9 126.5 L302.2 124.38 L302.5 127.71 L302.8 126.45 L303.1 124.81 L303.4 125.03 L303.7 122.89 L303.81 120.48 L304 121.27 L304.3 120.11 L304.5 119.06 L304.6 119.11 L304.9 125.39 L305.2 122.16 L305.44 118.61 L305.5 121.58 L305.8 122.37 L306.1 126.55 L306.4 124.15 L306.7 126.82 L307 126.68 L307.3 126.64 L307.6 125.33 L307.9 125.28 L308.2 121.94 L308.5 122.58 L308.64 118.63 L308.8 119.46 L309.1 125.94 L309.4 127.02 L309.7 125.92 L310 127.83 L310.3 125.08 L310.6 127.33 L310.9 125.29 L311.2 125.88 L311.5 125.07 L311.8 126.27 L312.1 124.54 L312.4 125.05 L312.7 126.43 L313 125.23 L313.3 127.51 L313.6 127.79 L313.9 125.6 L314.2 125.33 L314.5 125.52 L314.8 126.09 L315.1 124.25 L315.4 124 L315.7 126.94 L316 126.5 L316.3 120.82 L316.49 121.5 L316.6 120.42 L316.9 125.8 L317.2 124.48 L317.5 124.7 L317.8 128.05 L318.1 125.6 L318.4 125.99 L318.7 125.05 L319 124.98 L319.3 126.66 L319.6 127.69 L319.9 128.07 L320.2 124.95 L320.5 127.05 L320.8 128.07 L321.1 125.96 L321.4 126.22 L321.7 126.63 L322 126.74 L322.3 125.17 L322.6 127.82 L322.9 126.59 L323.2 128.64 L323.5 125.69 L323.8 126.72 L324.1 127.11 L324.4 124.94 L324.7 126.37 L325 126.14 L325.3 125.74 L325.6 126.26 L325.9 122.89 L326.2 122.24 L326.5 123.22 L326.8 123.82 L326.8 132.3 Z" fill="#226e3a"/>
<line x1="36.5" y1="23.4" x2="36.5" y2="132.6" stroke="#999" stroke-width="0.7" />
<line x1="36.5" y1="132.3" x2="327.4" y2="132.3" stroke="#555" stroke-width="0.7" />
<line x1="33.5" y1="132.3" x2="36.5" y2="132.3" stroke="#555" stroke-width="0.6" />
<line x1="34.5" y1="121.41" x2="36.5" y2="121.41" stroke="#555" stroke-width="0.5" />
<text x="31.7" y="134.3" font-size="5.8" font-weight="bold" text-anchor="end" fill="#333">0</text>
<line x1="33.5" y1="110.52" x2="36.5" y2="110.52" stroke="#555" stroke-width="0.6" />
<line x1="34.5" y1="99.63" x2="36.5" y2="99.63" stroke="#555" stroke-width="0.5" />
<text x="31.7" y="112.52" font-size="5.8" font-weight="bold" text-anchor="end" fill="#333">1x10<tspan font-size="3.6" dy="-2">6</tspan></text>
<line x1="33.5" y1="88.74" x2="36.5" y2="88.74" stroke="#555" stroke-width="0.6" />
<line x1="34.5" y1="77.85" x2="36.5" y2="77.85" stroke="#555" stroke-width="0.5" />
<text x="31.7" y="90.74" font-size="5.8" font-weight="bold" text-anchor="end" fill="#333">2x10<tspan font-size="3.6" dy="-2">6</tspan></text>
<line x1="33.5" y1="66.96" x2="36.5" y2="66.96" stroke="#555" stroke-width="0.6" />
<line x1="34.5" y1="56.07" x2="36.5" y2="56.07" stroke="#555" stroke-width="0.5" />
<text x="31.7" y="68.96" font-size="5.8" font-weight="bold" text-anchor="end" fill="#333">3x10<tspan font-size="3.6" dy="-2">6</tspan></text>
<line x1="33.5" y1="45.18" x2="36.5" y2="45.18" stroke="#555" stroke-width="0.6" />
<line x1="34.5" y1="34.29" x2="36.5" y2="34.29" stroke="#555" stroke-width="0.5" />
<text x="31.7" y="47.18" font-size="5.8" font-weight="bold" text-anchor="end" fill="#333">4x10<tspan font-size="3.6" dy="-2">6</tspan></text>
<line x1="33.5" y1="23.4" x2="36.5" y2="23.4" stroke="#555" stroke-width="0.6" />
<text x="31.7" y="25.4" font-size="5.8" font-weight="bold" text-anchor="end" fill="#333">5x10<tspan font-size="3.6" dy="-2">6</tspan></text>
<line x1="36.5" y1="132.3" x2="36.5" y2="134.8" stroke="#555" stroke-width="0.6" />
<line x1="60.33" y1="132.3" x2="60.33" y2="133.8" stroke="#555" stroke-width="0.5" />
<text x="36.5" y="141.3" font-size="5.8" font-weight="bold" text-anchor="middle" fill="#333" font-style="normal" >10</text>
<line x1="84.17" y1="132.3" x2="84.17" y2="134.8" stroke="#555" stroke-width="0.6" />
<line x1="108" y1="132.3" x2="108" y2="133.8" stroke="#555" stroke-width="0.5" />
<text x="84.17" y="141.3" font-size="5.8" font-weight="bold" text-anchor="middle" fill="#333" font-style="normal" >15</text>
<line x1="131.83" y1="132.3" x2="131.83" y2="134.8" stroke="#555" stroke-width="0.6" />
<line x1="155.67" y1="132.3" x2="155.67" y2="133.8" stroke="#555" stroke-width="0.5" />
<text x="131.83" y="141.3" font-size="5.8" font-weight="bold" text-anchor="middle" fill="#333" font-style="normal" >20</text>
<line x1="179.5" y1="132.3" x2="179.5" y2="134.8" stroke="#555" stroke-width="0.6" />
<line x1="203.33" y1="132.3" x2="203.33" y2="133.8" stroke="#555" stroke-width="0.5" />
<text x="179.5" y="141.3" font-size="5.8" font-weight="bold" text-anchor="middle" fill="#333" font-style="normal" >25</text>
<line x1="227.17" y1="132.3" x2="227.17" y2="134.8" stroke="#555" stroke-width="0.6" />
<line x1="251" y1="132.3" x2="251" y2="133.8" stroke="#555" stroke-width="0.5" />
<text x="227.17" y="141.3" font-size="5.8" font-weight="bold" text-anchor="middle" fill="#333" font-style="normal" >30</text>
<line x1="274.83" y1="132.3" x2="274.83" y2="134.8" stroke="#555" stroke-width="0.6" />
<line x1="298.67" y1="132.3" x2="298.67" y2="133.8" stroke="#555" stroke-width="0.5" />
<text x="274.83" y="141.3" font-size="5.8" font-weight="bold" text-anchor="middle" fill="#333" font-style="normal" >35</text>
<line x1="322.5" y1="132.3" x2="322.5" y2="134.8" stroke="#555" stroke-width="0.6" />
<text x="322.5" y="141.3" font-size="5.8" font-weight="bold" text-anchor="middle" fill="#333" font-style="normal" >40</text>
<text x="180" y="149" font-size="6.0" font-weight="bold" text-anchor="middle" fill="#333" font-style="normal" >Retention Time (min)</text>
<text transform="translate(8.1 68.1) rotate(-90)" font-size="6" font-weight="bold" text-anchor="middle" fill="#333">Abundance</text>
<text x="176" y="15.6" font-size="8.2" font-weight="bold" text-anchor="middle" fill="#111">RNA <tspan font-style="italic">N</tspan>-Glycan Chromatography</text>
<line x1="36.5" y1="178.2" x2="327.4" y2="178.2" stroke="#777" stroke-width="0.7" />
<line x1="327.4" y1="178.2" x2="327.4" y2="287.3" stroke="#777" stroke-width="0.7" />
<path d="M36.7 287.3 L36.7 276.55 L37 271.88 L37.2 265.31 L37.3 262.25 L37.5 253.68 L37.6 259.89 L37.9 267.92 L38.2 274.9 L38.49 258.92 L38.49 258.59 L38.5 260.02 L38.8 275.94 L39.1 280 L39.4 279.7 L39.51 278.56 L39.7 277.14 L40 269.92 L40.04 267.27 L40.3 273.47 L40.5 265.97 L40.55 267.53 L40.6 270.73 L40.9 277.64 L41.2 280.62 L41.5 280.55 L41.8 274.46 L41.99 267.47 L42.1 273.59 L42.4 280.46 L42.7 279.93 L43 273.52 L43.3 260.06 L43.4 252.84 L43.6 264.48 L43.9 272.47 L44.2 264.36 L44.24 260.57 L44.5 272.5 L44.8 279.12 L45.09 271.82 L45.1 272.24 L45.4 270.16 L45.5 267.23 L45.7 273.01 L46 277.79 L46.03 277.2 L46.3 280.05 L46.6 280.85 L46.9 279.16 L47.2 272.2 L47.37 263.85 L47.5 257.39 L47.8 225.3 L47.83 231.57 L48.1 257.56 L48.4 272.38 L48.65 267.44 L48.7 270.83 L49 280.88 L49.3 279.24 L49.6 275.93 L49.9 271.49 L50 268.38 L50.2 272.9 L50.5 269.43 L50.71 257.67 L50.8 264.89 L51.08 273.34 L51.1 272.39 L51.4 277.86 L51.65 273.84 L51.7 274.17 L52 266.62 L52.3 273.27 L52.6 278 L52.9 276.91 L53.2 262.35 L53.22 260.88 L53.5 275.71 L53.8 273.51 L54.02 265.93 L54.1 269.79 L54.4 276.72 L54.63 278.49 L54.7 276.2 L55 269.89 L55.15 263.55 L55.3 269.68 L55.6 274.81 L55.9 275.91 L56.2 267.86 L56.36 259.96 L56.5 267.65 L56.8 275.27 L57.1 277.69 L57.24 278.01 L57.4 278.65 L57.7 275.37 L57.75 275.23 L58 272.74 L58.3 270.59 L58.56 260.51 L58.59 262.53 L58.6 263.14 L58.9 273.56 L59.2 271.5 L59.3 268.44 L59.5 274.53 L59.8 279.8 L60.1 278.17 L60.4 275.82 L60.5 274.39 L60.7 277.27 L61 278.14 L61.3 267.88 L61.52 254.75 L61.6 260.66 L61.9 274 L62.2 279.69 L62.43 277.6 L62.5 279.34 L62.7 278.33 L62.8 278.78 L63.1 270.74 L63.4 258.03 L63.48 251.27 L63.7 266.08 L63.85 258.27 L63.89 257.55 L63.9 255.21 L63.97 260.43 L64 261.67 L64.3 274.2 L64.36 276.16 L64.6 272.85 L64.69 268.59 L64.9 275.16 L65.2 280.38 L65.5 276.68 L65.8 275.2 L66.1 271.23 L66.4 266.43 L66.5 265.57 L66.7 269.12 L67 274.35 L67.3 276.12 L67.6 274.1 L67.64 274.45 L67.67 274.55 L67.9 278.27 L68.2 280.23 L68.5 280.33 L68.8 277.09 L69.1 271.82 L69.4 262.02 L69.43 258.32 L69.7 253.34 L70 240.65 L70.21 233.51 L70.3 227.78 L70.5 205.55 L70.6 219.11 L70.89 235.31 L70.9 238.05 L70.95 239.15 L71.04 240.42 L71.2 246.01 L71.5 257.9 L71.8 267.6 L71.99 270.22 L72.03 269.85 L72.1 266.98 L72.33 253.92 L72.4 249.9 L72.5 243.52 L72.7 256.9 L72.7 258.8 L73 268.56 L73.3 269.86 L73.6 250.39 L73.64 245.34 L73.7 241.03 L73.9 258.22 L74.2 272.52 L74.5 271.28 L74.71 258.73 L74.8 264.9 L75.1 276.38 L75.4 278.72 L75.57 275.6 L75.7 277.38 L76 279.87 L76.3 277.19 L76.6 272.16 L76.84 263.15 L76.9 267.27 L77.2 248.06 L77.5 268.19 L77.8 274.88 L78.1 280.55 L78.4 276.39 L78.52 272.9 L78.7 276.08 L79 272.9 L79.08 269.77 L79.3 273.2 L79.5 270.12 L79.6 271.88 L79.9 274.33 L80.2 279.39 L80.5 276.09 L80.6 274.43 L80.8 278.01 L81.1 280.3 L81.4 280.56 L81.7 282.08 L82 279.48 L82.3 276.87 L82.5 274.46 L82.6 275.94 L82.9 279.01 L83.2 277.67 L83.5 269.54 L83.75 255.27 L83.8 258.54 L83.92 264.21 L84.1 271.3 L84.26 274.16 L84.4 269.95 L84.43 269.06 L84.5 264.04 L84.52 264.71 L84.7 270.63 L84.8 270.95 L85 275.69 L85.3 280.64 L85.6 281.62 L85.9 281.73 L86.2 281.96 L86.5 280.39 L86.8 282.49 L87.1 280.58 L87.4 282.18 L87.7 280.32 L88 280.88 L88.3 277.41 L88.6 271.69 L88.8 262.53 L88.9 267.71 L89.2 276.99 L89.45 278.14 L89.5 278.21 L89.8 278.98 L90.1 274.48 L90.4 265.17 L90.42 262.32 L90.7 273.17 L90.92 261.11 L91 266.31 L91.3 277.34 L91.6 279.28 L91.9 275.7 L92 273.95 L92.2 276.92 L92.5 279.82 L92.8 280.36 L93.1 282.57 L93.4 280.47 L93.7 280.05 L94 274.27 L94.29 264.32 L94.3 261.53 L94.6 252.43 L94.78 244.17 L94.9 241.39 L95.2 227.2 L95.45 217.99 L95.5 216.72 L95.6 204.6 L95.65 206.1 L95.77 224.28 L95.8 228.04 L95.89 232.84 L96.1 232.23 L96.12 227.43 L96.4 244.53 L96.7 256.51 L97 255.98 L97.3 238.64 L97.6 234.08 L97.7 225.93 L97.9 240.78 L98.2 246.31 L98.5 256.61 L98.8 266.89 L99.1 274.59 L99.4 277.55 L99.7 268.4 L99.77 263.85 L100 266.81 L100.2 266.99 L100.3 269.37 L100.6 276.73 L100.9 278.58 L101.2 280.88 L101.5 281.54 L101.8 275.37 L101.81 275.09 L102.1 276.14 L102.4 270.84 L102.7 256.77 L103 258.02 L103.02 255.21 L103.3 269.91 L103.6 277.5 L103.9 274.96 L103.97 275.08 L104.2 279.1 L104.5 281.62 L104.8 279.54 L105.1 271.07 L105.24 264.66 L105.3 261.12 L105.4 266.14 L105.7 275.36 L105.98 270.59 L106 270.26 L106.3 274.81 L106.59 263.11 L106.6 263.05 L106.61 262.74 L106.9 272.85 L107.2 280.84 L107.5 279.7 L107.8 272.75 L107.81 273.05 L107.89 269.73 L108.03 257.82 L108.1 264.39 L108.4 276.64 L108.7 280.64 L109 277.76 L109.3 273.02 L109.54 259.75 L109.6 262.52 L109.65 255.66 L109.9 273.02 L110 272.26 L110.1 267.99 L110.2 271.68 L110.48 257.79 L110.5 259.41 L110.8 272.71 L111.1 277.93 L111.4 274.94 L111.7 263.79 L111.84 255.74 L112 263.58 L112.3 269.83 L112.43 262.79 L112.6 270.6 L112.85 277.31 L112.9 276.86 L113.15 269.66 L113.2 271.41 L113.5 277.62 L113.8 268.04 L114.1 277.1 L114.4 280.11 L114.7 281.96 L115 280.78 L115.3 280.48 L115.6 280.17 L115.88 278.02 L115.9 278.45 L116.2 278.97 L116.5 273.55 L116.8 278.16 L117.1 279.8 L117.4 272.56 L117.66 257.51 L117.7 256.54 L117.7 255.83 L118 272.49 L118.18 273.75 L118.3 276.51 L118.6 278.91 L118.9 275.11 L119.1 266.98 L119.2 271.77 L119.5 277.91 L119.8 280.45 L120.1 281.56 L120.4 278.62 L120.7 277.33 L121 271.19 L121.24 258.22 L121.3 263.01 L121.6 258.65 L121.63 255.93 L121.9 274.6 L122 275.23 L122.2 278.73 L122.5 280.94 L122.8 282.47 L123.1 282.54 L123.4 282.51 L123.7 281.13 L124 282.02 L124.3 281.78 L124.6 280.18 L124.9 276.48 L125.2 267.16 L125.3 261.49 L125.5 270.48 L125.8 275.3 L126.1 280.41 L126.4 282.31 L126.7 280.97 L127 278.28 L127.26 275.11 L127.3 274.79 L127.47 269.35 L127.5 266.99 L127.53 265.52 L127.6 269.28 L127.9 272.48 L128.08 258.75 L128.2 268.6 L128.5 276.19 L128.8 280.09 L129.1 280.71 L129.4 282.14 L129.7 282.54 L130 282.49 L130.3 281.26 L130.6 280.07 L130.9 276.96 L131.2 270.99 L131.49 254.92 L131.5 253.71 L131.52 257.4 L131.6 260.91 L131.8 270.35 L132.1 276.27 L132.4 279.86 L132.7 281.94 L133 278.87 L133.3 270.26 L133.5 254.21 L133.55 257.72 L133.6 262.71 L133.68 269.1 L133.9 276.63 L134 274.51 L134.2 277.25 L134.5 279.47 L134.8 278.4 L135.06 275.2 L135.1 275.15 L135.4 277.98 L135.7 273.57 L136 264.67 L136.3 261.99 L136.31 261.96 L136.4 255.8 L136.44 252.92 L136.6 263.09 L136.9 272.29 L137.2 276.51 L137.5 278.76 L137.8 275.89 L138.1 266.91 L138.31 255.44 L138.32 256.01 L138.4 261.51 L138.46 261.12 L138.7 272.39 L139 268.42 L139.11 263.62 L139.3 268.68 L139.6 259.65 L139.9 255.15 L140.2 248.19 L140.5 236.37 L140.8 232.8 L141.1 225.3 L141.4 211.48 L141.7 231.5 L141.97 225.31 L142 234.35 L142.3 237.08 L142.6 244.71 L142.9 255.4 L143.2 255.29 L143.5 241.57 L143.8 254.54 L144.1 265.39 L144.37 256.19 L144.4 259.32 L144.7 271.39 L145 275.45 L145.3 271.16 L145.5 265.81 L145.6 268.96 L145.85 264.9 L145.9 263.72 L146 255.65 L146.2 268.32 L146.5 277.48 L146.8 277 L146.96 273.12 L147.1 275.82 L147.4 278.04 L147.7 273.12 L147.81 270.51 L148 274.82 L148.3 279.7 L148.5 277.07 L148.6 278.08 L148.9 282.29 L149.2 283.53 L149.5 283.7 L149.8 283.6 L150.1 284.18 L150.4 284.96 L150.7 284.47 L151 284.98 L151.3 284.72 L151.6 284.36 L151.9 285.28 L152.2 284.27 L152.5 284.38 L152.8 285.08 L153.1 284.96 L153.4 284.22 L153.7 284.85 L154 284.62 L154.3 284.72 L154.6 284.63 L154.9 285.3 L155.2 284.4 L155.5 285.15 L155.8 285.18 L156.1 285.22 L156.4 284.53 L156.7 285.22 L157 285.18 L157.3 285.04 L157.6 284.3 L157.9 285.3 L158.2 284.92 L158.5 284.65 L158.8 284.47 L159.1 285.12 L159.4 284.25 L159.7 285.1 L160 284.85 L160.3 284.69 L160.6 283.49 L160.9 283.13 L161.2 282.25 L161.5 280.5 L161.8 279.01 L162.1 279.52 L162.4 277.07 L162.7 279.32 L163 279.56 L163.3 279.98 L163.6 281.69 L163.9 282.21 L164.2 283.41 L164.5 284.45 L164.8 284.97 L165.1 284.52 L165.4 284.27 L165.7 285.02 L166 284.62 L166.3 284.51 L166.6 284.81 L166.9 284.75 L167.2 284.58 L167.5 284.2 L167.8 284.45 L168.1 284.28 L168.4 285.19 L168.7 285.23 L169 284.8 L169.3 283.26 L169.6 282.66 L169.9 281.69 L170.2 278.65 L170.5 273.5 L170.8 278.56 L171.1 281.46 L171.4 280.94 L171.7 278 L172 270.71 L172.3 275.51 L172.6 273.5 L172.9 273.14 L173.2 267.82 L173.5 264.11 L173.8 270.57 L174.1 269.91 L174.4 272.47 L174.7 274.14 L175 277.15 L175.3 278.25 L175.6 279.16 L175.9 275.1 L176 272.39 L176.2 276.07 L176.5 280.56 L176.8 282.65 L177.1 284.02 L177.4 282.18 L177.7 280.07 L178 276.4 L178.3 280.09 L178.6 282.39 L178.9 283.91 L179.2 284.01 L179.5 285.03 L179.8 285.03 L180.1 284.94 L180.4 285.16 L180.7 284.56 L181 284.86 L181.3 284.42 L181.6 284.72 L181.9 285.04 L182.2 283.55 L182.5 281.9 L182.8 281.15 L183.1 279.74 L183.4 278.58 L183.7 277.62 L184 275.86 L184.2 275.25 L184.3 275.57 L184.6 276.54 L184.9 279.68 L185.2 280.12 L185.5 280.62 L185.8 281.91 L186.1 283.52 L186.4 284.33 L186.7 284.71 L187 284.49 L187.3 284.93 L187.6 284.44 L187.9 284.48 L188.2 284.53 L188.5 284.42 L188.8 284.67 L189.1 285.22 L189.4 285.26 L189.7 284.7 L190 285.25 L190.3 285.15 L190.6 284.64 L190.9 285.21 L191.2 284.74 L191.5 285.26 L191.8 285.3 L192.1 284.74 L192.4 284.71 L192.7 284.48 L193 285.01 L193.3 284.89 L193.6 284.25 L193.9 284.85 L194.2 284.95 L194.5 284.37 L194.8 284.4 L195.1 285.11 L195.4 284.85 L195.7 284.53 L196 285.2 L196.3 284.65 L196.6 284.35 L196.9 284.61 L197.2 285.2 L197.5 284.9 L197.8 285.27 L198.1 285.15 L198.4 285.23 L198.7 284.82 L199 283.9 L199.3 284.15 L199.6 282.27 L199.9 279.56 L200 278.19 L200.2 280.61 L200.5 282.35 L200.8 283.59 L201.1 284.64 L201.4 284.97 L201.7 283.57 L202 282.37 L202.3 279.09 L202.5 276.37 L202.6 277.38 L202.9 281.33 L203.2 283.4 L203.5 284.8 L203.8 284.65 L204.1 284.22 L204.4 282.54 L204.7 279.66 L205 275.47 L205.3 280.18 L205.6 282.77 L205.9 283.62 L206.2 284.35 L206.5 283.69 L206.8 283.44 L207.1 281.19 L207.4 277.9 L207.5 275.7 L207.7 279.55 L208 282.34 L208.3 283.79 L208.6 284.16 L208.9 283.37 L209.2 282.01 L209.5 278.6 L209.8 281.94 L210.1 283.84 L210.4 284.13 L210.7 284.56 L211 284.33 L211.3 284.67 L211.6 285.25 L211.9 284.47 L212.2 284.23 L212.5 285.06 L212.8 285.09 L213.1 284.68 L213.4 284.32 L213.7 285.1 L214 285.29 L214.3 284.31 L214.6 284.35 L214.9 285.07 L215.2 285.23 L215.5 285.21 L215.8 284.32 L216.1 284.37 L216.4 285.28 L216.7 284.94 L217 284.55 L217.3 285.27 L217.6 285.29 L217.9 285.05 L218.2 285.12 L218.5 285.28 L218.8 284.88 L219.1 285.1 L219.4 284.74 L219.7 284.41 L220 284.65 L220.3 284.55 L220.6 285.04 L220.9 285.22 L221.2 284.22 L221.5 284.94 L221.8 285.12 L222.1 284.93 L222.4 281.77 L222.7 283.68 L223 283.18 L223.3 282.64 L223.6 282.9 L223.9 283.52 L224.2 283.55 L224.5 283.59 L224.8 283.73 L225.1 283.27 L225.4 283.79 L225.7 282.97 L226 282.65 L226.3 282.89 L226.6 283.13 L226.9 283.49 L227.2 282.1 L227.5 280.56 L227.8 274.06 L228.1 279.8 L228.4 282.73 L228.7 282.24 L229 283.57 L229.3 281.95 L229.6 282.95 L229.9 283.41 L230.2 283.21 L230.5 283.07 L230.8 282.94 L231.1 283.77 L231.4 282.54 L231.7 282.63 L232 283.46 L232.3 281.99 L232.6 283.1 L232.9 283.26 L233.2 282.68 L233.5 283.75 L233.8 283.8 L234.1 282.81 L234.4 283.25 L234.7 282.23 L235 282.48 L235.3 281.95 L235.6 282.13 L235.9 283.25 L236.2 283.61 L236.5 283.22 L236.8 283.69 L237.1 282.48 L237.4 283.43 L237.7 283.76 L238 282.29 L238.3 282.05 L238.6 283.17 L238.9 282.64 L239.2 283.7 L239.5 282.96 L239.8 283.25 L240.1 281.93 L240.4 283.59 L240.7 282.86 L241 283.71 L241.3 283.71 L241.6 283.05 L241.9 283.33 L242.2 283.03 L242.5 282.57 L242.8 282.21 L243.1 283.04 L243.4 283.19 L243.7 283.8 L244 281.83 L244.3 283.45 L244.6 281.92 L244.9 281.95 L245.2 283.29 L245.5 283.37 L245.8 283.72 L246.1 283.68 L246.4 281.98 L246.7 282.13 L247 283.7 L247.3 281.85 L247.6 283.1 L247.9 283.25 L248.2 282.88 L248.5 283.77 L248.8 283.8 L249.1 283.64 L249.4 283.79 L249.7 282.39 L250 283.8 L250.3 282.78 L250.6 283.06 L250.9 283.43 L251.2 283.1 L251.5 282.95 L251.8 283.04 L252.1 283.58 L252.4 282.83 L252.7 281.81 L253 282.95 L253.3 282.77 L253.6 280.7 L253.7 279.43 L253.9 281.44 L254.2 283.44 L254.5 282.05 L254.8 282.32 L255.1 282.45 L255.4 283.47 L255.7 282.91 L256 283.66 L256.3 283.21 L256.6 282.19 L256.9 281.71 L257.2 282.01 L257.5 281.81 L257.8 283.18 L258.1 283.23 L258.4 282.03 L258.7 283.8 L259 283.76 L259.3 283.77 L259.6 283.8 L259.9 282.34 L260.2 283.31 L260.5 283.6 L260.8 283.31 L261.1 283.13 L261.4 283.34 L261.7 282.08 L262 281.73 L262.3 282.86 L262.6 283.74 L262.9 282.84 L263.2 283.77 L263.5 282.31 L263.8 282.94 L264.1 283.5 L264.4 282.28 L264.7 282.79 L265 282.2 L265.3 282.35 L265.6 283.47 L265.9 283.7 L266.2 283.02 L266.5 282.45 L266.8 283.1 L267.1 283.72 L267.4 282.02 L267.7 283.13 L268 282.31 L268.3 278.43 L268.5 272.81 L268.6 276.07 L268.9 282.05 L269.2 283.11 L269.5 282.29 L269.8 281.88 L270.1 282.4 L270.4 283.27 L270.7 282.28 L271 283.52 L271.3 282.47 L271.6 283.65 L271.9 283.55 L272.2 283.33 L272.5 282.96 L272.8 282.4 L273.1 282.19 L273.4 282.2 L273.7 283.77 L274 282.86 L274.3 281.7 L274.6 282.85 L274.9 283.79 L275.2 281.94 L275.5 283.1 L275.8 282.85 L276.1 283.4 L276.4 282.61 L276.7 283.09 L277 283.63 L277.3 282.41 L277.6 283.65 L277.9 283.14 L278.2 282.3 L278.5 283.77 L278.8 283.17 L279.1 283.38 L279.4 283.51 L279.7 283.75 L280 283.61 L280.3 283.23 L280.6 282.14 L280.9 281.87 L281.2 282.78 L281.5 283.06 L281.8 283.68 L282.1 281.89 L282.4 283.66 L282.7 281.95 L283 283.4 L283.3 283.03 L283.6 282.66 L283.9 283.69 L284.2 283.17 L284.5 283.33 L284.8 283.45 L285.1 283.38 L285.4 283.54 L285.7 283.35 L286 283.31 L286.3 283.19 L286.6 283.15 L286.9 282.07 L287.2 283.41 L287.5 283.44 L287.8 282.95 L288.1 282.17 L288.4 283.42 L288.7 282.75 L289 282.66 L289.3 283.31 L289.6 283.31 L289.9 281.54 L290.2 280.13 L290.5 282.16 L290.8 281.11 L291.1 279.65 L291.4 279.92 L291.7 276.73 L292 267.05 L292.2 254.77 L292.3 261.38 L292.6 270.79 L292.9 260.62 L293.2 238.12 L293.3 230.58 L293.5 248.99 L293.8 264.23 L294.1 273.47 L294.4 273.04 L294.7 266.8 L295 251.84 L295.3 265.99 L295.6 273.5 L295.9 274.14 L296.2 275.34 L296.5 270.2 L296.8 272.1 L297.1 269.85 L297.4 260.01 L297.5 256.44 L297.7 263.94 L298 272.36 L298.3 274.06 L298.6 274.37 L298.9 271.71 L299.2 270.77 L299.5 272.84 L299.8 270.82 L300.1 264.27 L300.2 260.15 L300.4 266.89 L300.7 272.55 L301 274.4 L301.3 275.58 L301.6 274.74 L301.9 274.64 L302.2 275.12 L302.5 272.26 L302.8 269.38 L303.1 272.19 L303.4 273.01 L303.7 276.11 L304 274.86 L304.3 276.1 L304.6 276.93 L304.9 274.6 L305.2 274.82 L305.5 271.87 L305.8 274.84 L306.1 274.66 L306.4 272.66 L306.7 275.94 L307 274.92 L307.3 272.78 L307.6 275.65 L307.9 275.84 L308.2 276.88 L308.5 273.83 L308.8 275.21 L309.1 273.51 L309.4 277.79 L309.7 277.66 L310 273.45 L310.3 277.16 L310.6 272.94 L310.9 278.03 L311.2 278.04 L311.5 275.56 L311.8 273.72 L312.1 277.78 L312.4 275.14 L312.7 277.07 L313 277.17 L313.3 275.95 L313.6 277.49 L313.9 277.54 L314.2 276.07 L314.5 274.86 L314.8 276.17 L315.1 274.78 L315.4 278.84 L315.7 275.15 L316 274.07 L316.3 277.98 L316.6 276.08 L316.9 279.06 L317.2 278.67 L317.5 278.51 L317.8 279.06 L318.1 278.97 L318.4 277.87 L318.7 276.5 L319 278.82 L319.3 277.04 L319.6 275.65 L319.9 279.18 L320.2 275.58 L320.5 277.65 L320.8 279.68 L321.1 278.77 L321.4 279.76 L321.7 279.69 L322 276.85 L322.3 279.01 L322.6 279.42 L322.9 279.04 L323.2 279.4 L323.5 276.82 L323.8 278.9 L324.1 278.2 L324.4 279.56 L324.7 279.44 L325 280.19 L325.3 278.11 L325.6 280.1 L325.9 277.44 L326.2 278.01 L326.5 280.64 L326.8 280.34 L326.8 287.3 Z" fill="#c996ad"/>
<path d="M36.7 287.3 L36.7 277.25 L37 276.84 L37.2 270.51 L37.3 273.53 L37.5 272.23 L37.6 271.26 L37.9 275.57 L38.2 274.9 L38.49 269.04 L38.49 262.3 L38.5 266.69 L38.8 275.94 L39.1 280 L39.4 279.7 L39.51 278.78 L39.7 277.19 L40 271.17 L40.04 273.15 L40.3 276.59 L40.5 273.55 L40.55 272.72 L40.6 276.85 L40.9 280.11 L41.2 280.62 L41.5 280.55 L41.8 274.46 L41.99 272.57 L42.1 274.69 L42.4 280.46 L42.7 281.43 L43 277.6 L43.3 268.45 L43.4 270.79 L43.6 274.66 L43.9 272.47 L44.2 268.28 L44.24 262.24 L44.5 272.5 L44.8 279.12 L45.09 275.96 L45.1 275.32 L45.4 275.99 L45.5 272.72 L45.7 276.45 L46 279.91 L46.03 279.46 L46.3 280.05 L46.6 280.85 L46.9 280.24 L47.2 272.2 L47.37 271.81 L47.5 262.54 L47.8 255.7 L47.83 248.67 L48.1 260.37 L48.4 272.38 L48.65 269.09 L48.7 272.45 L49 280.88 L49.3 279.24 L49.6 277.39 L49.9 272.66 L50 274.44 L50.2 276.15 L50.5 271.94 L50.71 265.47 L50.8 269.09 L51.08 273.34 L51.1 272.39 L51.4 277.86 L51.65 273.84 L51.7 276.09 L52 270.03 L52.3 275.52 L52.6 278.12 L52.9 276.91 L53.2 271.76 L53.22 264.51 L53.5 275.71 L53.8 276.34 L54.02 271.36 L54.1 270.17 L54.4 277.92 L54.63 278.49 L54.7 276.2 L55 275.61 L55.15 266.53 L55.3 274.1 L55.6 274.81 L55.9 277.94 L56.2 268.14 L56.36 268.61 L56.5 272.13 L56.8 277.59 L57.1 277.69 L57.24 278.01 L57.4 278.65 L57.7 275.37 L57.75 276.53 L58 273.62 L58.3 273.61 L58.56 269.9 L58.59 266.39 L58.6 269.16 L58.9 274.87 L59.2 274.2 L59.3 273.69 L59.5 276.32 L59.8 279.8 L60.1 278.17 L60.4 276.8 L60.5 278.74 L60.7 278.98 L61 278.14 L61.3 271.42 L61.52 263.46 L61.6 263.41 L61.9 274.52 L62.2 279.69 L62.43 279.72 L62.5 279.34 L62.7 278.78 L62.8 278.78 L63.1 270.74 L63.4 267.46 L63.48 260.63 L63.7 266.08 L63.85 270.04 L63.89 265.03 L63.9 260.76 L63.97 268.54 L64 267.53 L64.3 275.68 L64.36 277.31 L64.6 275.31 L64.69 270.49 L64.9 275.75 L65.2 281.07 L65.5 276.68 L65.8 275.2 L66.1 271.23 L66.4 269.39 L66.5 267.98 L66.7 269.12 L67 277.89 L67.3 276.12 L67.6 274.1 L67.64 275.77 L67.67 277.75 L67.9 278.27 L68.2 281.67 L68.5 280.33 L68.8 277.09 L69.1 271.82 L69.4 262.02 L69.43 258.32 L69.7 253.34 L70 240.65 L70.21 236.53 L70.3 236.24 L70.5 238.67 L70.6 226.41 L70.89 235.31 L70.9 238.05 L70.95 239.15 L71.04 240.42 L71.2 246.01 L71.5 257.9 L71.8 267.6 L71.99 270.32 L72.03 270.76 L72.1 268.82 L72.33 265.23 L72.4 256.28 L72.5 258.64 L72.7 261.78 L72.7 261.61 L73 268.56 L73.3 273.27 L73.6 256.9 L73.64 261.77 L73.7 256.56 L73.9 267.9 L74.2 275.07 L74.5 271.3 L74.71 268.31 L74.8 270.06 L75.1 277.12 L75.4 279.52 L75.57 275.6 L75.7 277.38 L76 279.87 L76.3 277.19 L76.6 275.18 L76.84 264.67 L76.9 268.37 L77.2 263.49 L77.5 270.76 L77.8 274.88 L78.1 281.09 L78.4 276.39 L78.52 277.1 L78.7 276.08 L79 274.44 L79.08 275.67 L79.3 276.05 L79.5 273.17 L79.6 275.96 L79.9 274.33 L80.2 279.39 L80.5 276.09 L80.6 276.24 L80.8 278.01 L81.1 280.3 L81.4 280.56 L81.7 282.08 L82 279.48 L82.3 276.87 L82.5 275.9 L82.6 277.91 L82.9 279.01 L83.2 277.97 L83.5 270.61 L83.75 260.68 L83.8 268.34 L83.92 272.75 L84.1 271.3 L84.26 274.16 L84.4 271.8 L84.43 270.27 L84.5 268.95 L84.52 271.66 L84.7 270.63 L84.8 274.7 L85 279.27 L85.3 281.57 L85.6 281.62 L85.9 282.47 L86.2 283.52 L86.5 284.37 L86.8 284.03 L87.1 282.31 L87.4 282.18 L87.7 281.7 L88 280.92 L88.3 277.41 L88.6 272.46 L88.8 273 L88.9 271.16 L89.2 276.99 L89.45 279.71 L89.5 278.21 L89.8 278.98 L90.1 274.48 L90.4 267.24 L90.42 264.63 L90.7 274.21 L90.92 266.57 L91 271.78 L91.3 277.79 L91.6 279.36 L91.9 277.28 L92 278.24 L92.2 277.1 L92.5 279.82 L92.8 280.36 L93.1 282.57 L93.4 280.47 L93.7 280.05 L94 274.27 L94.29 264.32 L94.3 261.53 L94.6 252.43 L94.78 244.17 L94.9 241.39 L95.2 227.2 L95.45 224 L95.5 223.87 L95.6 217.86 L95.65 229.68 L95.77 232.92 L95.8 233.69 L95.89 232.84 L96.1 232.23 L96.12 227.43 L96.4 244.53 L96.7 256.51 L97 255.98 L97.3 238.64 L97.6 240.58 L97.7 229.38 L97.9 244.08 L98.2 246.31 L98.5 256.61 L98.8 266.89 L99.1 274.59 L99.4 277.55 L99.7 270.54 L99.77 266.69 L100 269.55 L100.2 267.78 L100.3 270.88 L100.6 277.88 L100.9 278.58 L101.2 280.88 L101.5 281.54 L101.8 275.84 L101.81 277.94 L102.1 276.14 L102.4 271.75 L102.7 267.89 L103 265.41 L103.02 267.25 L103.3 273.08 L103.6 277.73 L103.9 274.96 L103.97 276.09 L104.2 279.1 L104.5 282.29 L104.8 280.3 L105.1 271.11 L105.24 269.19 L105.3 265.36 L105.4 266.83 L105.7 277.62 L105.98 272.76 L106 274.18 L106.3 274.92 L106.59 267.54 L106.6 264.48 L106.61 269.43 L106.9 272.85 L107.2 280.84 L107.5 279.99 L107.8 272.75 L107.81 274.74 L107.89 271.17 L108.03 267.76 L108.1 266.73 L108.4 276.64 L108.7 282.1 L109 277.76 L109.3 275.47 L109.54 261.48 L109.6 269.01 L109.65 258.31 L109.9 275.99 L110 272.26 L110.1 270.46 L110.2 273.97 L110.48 262 L110.5 264.47 L110.8 272.71 L111.1 277.93 L111.4 276.16 L111.7 263.79 L111.84 264.11 L112 263.58 L112.3 271.46 L112.43 270.88 L112.6 273.31 L112.85 277.34 L112.9 276.86 L113.15 269.66 L113.2 275.78 L113.5 277.62 L113.8 270.62 L114.1 277.9 L114.4 280.71 L114.7 282.57 L115 282.88 L115.3 281.95 L115.6 280.17 L115.88 278.02 L115.9 278.68 L116.2 278.97 L116.5 276.72 L116.8 278.16 L117.1 280.05 L117.4 274.68 L117.66 265.48 L117.7 262.52 L117.7 263.89 L118 274.62 L118.18 273.88 L118.3 277.6 L118.6 278.91 L118.9 276.74 L119.1 269.99 L119.2 274.24 L119.5 277.91 L119.8 280.69 L120.1 281.56 L120.4 278.62 L120.7 277.33 L121 271.28 L121.24 261.89 L121.3 268.45 L121.6 265.76 L121.63 265.63 L121.9 275.02 L122 276.11 L122.2 279.1 L122.5 280.94 L122.8 282.47 L123.1 282.61 L123.4 283.07 L123.7 282.72 L124 283.06 L124.3 281.78 L124.6 280.18 L124.9 276.48 L125.2 269.71 L125.3 268.55 L125.5 270.48 L125.8 275.3 L126.1 280.41 L126.4 282.31 L126.7 280.97 L127 278.28 L127.26 275.11 L127.3 274.79 L127.47 270.84 L127.5 268.45 L127.53 273.18 L127.6 274.49 L127.9 272.48 L128.08 270.15 L128.2 268.6 L128.5 278.85 L128.8 280.09 L129.1 282.22 L129.4 282.27 L129.7 283.71 L130 283.28 L130.3 281.88 L130.6 280.07 L130.9 276.96 L131.2 273 L131.49 257.96 L131.5 258.38 L131.52 264.1 L131.6 265.88 L131.8 273.72 L132.1 276.27 L132.4 279.86 L132.7 282.29 L133 278.87 L133.3 270.99 L133.5 261.25 L133.55 269.6 L133.6 264.8 L133.68 273.28 L133.9 276.86 L134 277.82 L134.2 277.25 L134.5 279.47 L134.8 278.4 L135.06 275.67 L135.1 276.24 L135.4 278.44 L135.7 274.06 L136 271.77 L136.3 268.88 L136.31 264.35 L136.4 258.03 L136.44 259.27 L136.6 263.09 L136.9 272.29 L137.2 280.04 L137.5 278.76 L137.8 275.89 L138.1 266.91 L138.31 259.47 L138.32 262.41 L138.4 267.26 L138.46 267.82 L138.7 272.39 L139 271.2 L139.11 268.09 L139.3 268.68 L139.6 259.65 L139.9 255.15 L140.2 248.19 L140.5 236.37 L140.8 232.8 L141.1 225.3 L141.4 216.92 L141.7 235.04 L141.97 225.31 L142 234.35 L142.3 237.08 L142.6 244.71 L142.9 255.4 L143.2 262.27 L143.5 255.04 L143.8 254.54 L144.1 265.74 L144.37 263.69 L144.4 265.2 L144.7 271.39 L145 276.42 L145.3 274.86 L145.5 265.81 L145.6 272.01 L145.85 270.63 L145.9 269.84 L146 263.33 L146.2 271.94 L146.5 277.48 L146.8 277.3 L146.96 273.6 L147.1 275.82 L147.4 278.04 L147.7 277.13 L147.81 272.36 L148 275.72 L148.3 279.82 L148.5 280.08 L148.6 280.96 L148.9 282.71 L149.2 283.53 L149.5 283.7 L149.8 284.56 L150.1 285.53 L150.4 285.57 L150.7 285.1 L151 286.19 L151.3 286.14 L151.6 286.25 L151.9 285.84 L152.2 285.58 L152.5 285.65 L152.8 285.9 L153.1 285.71 L153.4 285.41 L153.7 285.5 L154 286.16 L154.3 286.26 L154.6 286.04 L154.9 285.94 L155.2 285.46 L155.5 285.86 L155.8 285.36 L156.1 285.69 L156.4 286.24 L156.7 285.67 L157 286.05 L157.3 285.94 L157.6 286.23 L157.9 285.66 L158.2 286.18 L158.5 286.16 L158.8 285.96 L159.1 285.5 L159.4 285.87 L159.7 285.1 L160 284.85 L160.3 284.69 L160.6 283.49 L160.9 283.13 L161.2 282.25 L161.5 280.5 L161.8 279.01 L162.1 279.52 L162.4 277.76 L162.7 279.32 L163 279.56 L163.3 279.98 L163.6 281.69 L163.9 282.21 L164.2 283.41 L164.5 284.45 L164.8 285.08 L165.1 284.91 L165.4 285.27 L165.7 285.62 L166 285.54 L166.3 285.36 L166.6 285.3 L166.9 285.59 L167.2 286.05 L167.5 285.37 L167.8 285.18 L168.1 285.45 L168.4 285.53 L168.7 285.25 L169 284.8 L169.3 283.26 L169.6 282.66 L169.9 282.04 L170.2 279.37 L170.5 278.18 L170.8 281.59 L171.1 281.95 L171.4 280.94 L171.7 278 L172 273.76 L172.3 275.51 L172.6 273.5 L172.9 273.14 L173.2 267.82 L173.5 270.36 L173.8 272.02 L174.1 269.91 L174.4 272.47 L174.7 274.14 L175 277.15 L175.3 278.25 L175.6 280 L175.9 276.03 L176 278.47 L176.2 277.79 L176.5 282.38 L176.8 282.65 L177.1 284.04 L177.4 282.18 L177.7 281.94 L178 279.68 L178.3 281.78 L178.6 282.39 L178.9 284.02 L179.2 284.01 L179.5 285.03 L179.8 285.29 L180.1 285.53 L180.4 285.59 L180.7 285.34 L181 285.68 L181.3 285.42 L181.6 284.72 L181.9 285.04 L182.2 283.55 L182.5 281.9 L182.8 281.15 L183.1 279.74 L183.4 278.58 L183.7 277.62 L184 275.86 L184.2 276.2 L184.3 275.57 L184.6 276.54 L184.9 279.68 L185.2 280.12 L185.5 280.62 L185.8 281.91 L186.1 283.52 L186.4 284.33 L186.7 285.04 L187 285.4 L187.3 285.92 L187.6 285.94 L187.9 286.15 L188.2 285.72 L188.5 285.43 L188.8 285.6 L189.1 285.45 L189.4 285.55 L189.7 285.46 L190 285.87 L190.3 285.53 L190.6 285.31 L190.9 285.94 L191.2 286.29 L191.5 286.08 L191.8 286.09 L192.1 285.65 L192.4 286.19 L192.7 285.4 L193 285.92 L193.3 285.59 L193.6 285.51 L193.9 285.78 L194.2 285.63 L194.5 285.9 L194.8 286 L195.1 285.72 L195.4 286.12 L195.7 285.96 L196 285.51 L196.3 285.42 L196.6 286.12 L196.9 286.19 L197.2 286.02 L197.5 286.04 L197.8 286.06 L198.1 285.48 L198.4 285.3 L198.7 284.82 L199 283.9 L199.3 284.17 L199.6 283.19 L199.9 280.41 L200 279.27 L200.2 281.24 L200.5 282.35 L200.8 283.59 L201.1 284.64 L201.4 284.97 L201.7 283.57 L202 282.5 L202.3 281.25 L202.5 278.15 L202.6 280.54 L202.9 281.45 L203.2 283.4 L203.5 284.8 L203.8 284.65 L204.1 284.22 L204.4 282.7 L204.7 282.1 L205 277 L205.3 281.03 L205.6 283.32 L205.9 283.62 L206.2 284.35 L206.5 283.69 L206.8 284.06 L207.1 281.5 L207.4 279.32 L207.5 279.39 L207.7 280.21 L208 282.87 L208.3 283.79 L208.6 284.25 L208.9 283.37 L209.2 283.65 L209.5 281.61 L209.8 282.06 L210.1 284.08 L210.4 284.13 L210.7 284.63 L211 285.58 L211.3 285.23 L211.6 285.45 L211.9 285.88 L212.2 285.85 L212.5 285.68 L212.8 286.1 L213.1 286.09 L213.4 286.05 L213.7 285.43 L214 285.92 L214.3 286.03 L214.6 285.85 L214.9 285.83 L215.2 286.15 L215.5 285.62 L215.8 285.63 L216.1 285.56 L216.4 285.36 L216.7 285.44 L217 285.57 L217.3 285.43 L217.6 285.3 L217.9 286.22 L218.2 286.11 L218.5 285.73 L218.8 286.21 L219.1 285.79 L219.4 285.61 L219.7 285.69 L220 285.75 L220.3 285.43 L220.6 285.78 L220.9 286.2 L221.2 285.92 L221.5 286.02 L221.8 285.7 L222.1 285.3 L222.4 284.97 L222.7 284.91 L223 284.17 L223.3 284.13 L223.6 284.73 L223.9 284.56 L224.2 285.07 L224.5 285.26 L224.8 283.85 L225.1 284.17 L225.4 284.03 L225.7 284.35 L226 283.7 L226.3 285.1 L226.6 283.58 L226.9 283.49 L227.2 282.38 L227.5 281.84 L227.8 277.59 L228.1 279.8 L228.4 282.73 L228.7 282.24 L229 284.45 L229.3 283.51 L229.6 284.94 L229.9 285.04 L230.2 283.77 L230.5 283.79 L230.8 285.27 L231.1 284.53 L231.4 284.87 L231.7 283.86 L232 285.08 L232.3 285.36 L232.6 283.84 L232.9 284.76 L233.2 284.95 L233.5 283.92 L233.8 285.22 L234.1 284.35 L234.4 285.15 L234.7 285.04 L235 284.28 L235.3 284.38 L235.6 285.48 L235.9 284.05 L236.2 283.8 L236.5 284.26 L236.8 284.29 L237.1 284.01 L237.4 285.01 L237.7 283.87 L238 285.45 L238.3 284.36 L238.6 284.69 L238.9 284.18 L239.2 283.82 L239.5 284.49 L239.8 285.18 L240.1 283.9 L240.4 284.43 L240.7 284.04 L241 284.85 L241.3 284.13 L241.6 285.35 L241.9 284.02 L242.2 284.99 L242.5 284.2 L242.8 284.53 L243.1 284.08 L243.4 284.3 L243.7 284.53 L244 284.41 L244.3 283.83 L244.6 284.31 L244.9 285.54 L245.2 285.08 L245.5 284.8 L245.8 284.33 L246.1 284 L246.4 283.95 L246.7 284.54 L247 284.35 L247.3 284.73 L247.6 285 L247.9 284.06 L248.2 284.57 L248.5 283.93 L248.8 284.19 L249.1 285.03 L249.4 283.98 L249.7 284.04 L250 284.25 L250.3 284.37 L250.6 284.74 L250.9 284.3 L251.2 284.36 L251.5 284.52 L251.8 284.14 L252.1 285.2 L252.4 283.54 L252.7 284.35 L253 282.95 L253.3 283.39 L253.6 281.95 L253.7 281.5 L253.9 282.49 L254.2 283.8 L254.5 284.72 L254.8 283.7 L255.1 283.75 L255.4 283.99 L255.7 284.72 L256 284.58 L256.3 284.27 L256.6 285.28 L256.9 284.95 L257.2 284.52 L257.5 283.88 L257.8 284.59 L258.1 285.4 L258.4 284.84 L258.7 284.1 L259 284.43 L259.3 284.73 L259.6 283.89 L259.9 285.24 L260.2 285.51 L260.5 285.1 L260.8 284.97 L261.1 284.5 L261.4 284.76 L261.7 285.29 L262 284.97 L262.3 284.02 L262.6 284.76 L262.9 284.52 L263.2 284.33 L263.5 283.94 L263.8 284.01 L264.1 284.72 L264.4 284.19 L264.7 284.22 L265 285.41 L265.3 284.4 L265.6 284.45 L265.9 285.18 L266.2 283.85 L266.5 285.06 L266.8 285.02 L267.1 284.66 L267.4 283.51 L267.7 284 L268 282.31 L268.3 278.68 L268.5 274.91 L268.6 279.47 L268.9 282.4 L269.2 284.13 L269.5 283.67 L269.8 283.87 L270.1 284.7 L270.4 284.71 L270.7 284.75 L271 284.64 L271.3 285.42 L271.6 283.99 L271.9 283.9 L272.2 284.49 L272.5 285.53 L272.8 284.27 L273.1 284.77 L273.4 284.03 L273.7 285.17 L274 284.47 L274.3 284.35 L274.6 285.4 L274.9 284.34 L275.2 284.37 L275.5 285.39 L275.8 284.14 L276.1 283.99 L276.4 284.7 L276.7 284.55 L277 285.46 L277.3 285.34 L277.6 284.7 L277.9 285.31 L278.2 284.72 L278.5 284.05 L278.8 285.02 L279.1 284.09 L279.4 285.23 L279.7 285.41 L280 284.85 L280.3 285.43 L280.6 285.17 L280.9 284.68 L281.2 284.98 L281.5 283.81 L281.8 285.52 L282.1 284.47 L282.4 284.17 L282.7 284.02 L283 285.28 L283.3 284.16 L283.6 284.35 L283.9 285.46 L284.2 285.54 L284.5 285.45 L284.8 284.08 L285.1 283.96 L285.4 283.89 L285.7 285.42 L286 284.92 L286.3 284.93 L286.6 285.36 L286.9 285.12 L287.2 284.01 L287.5 284.4 L287.8 285.19 L288.1 284.39 L288.4 285.27 L288.7 285.41 L289 285.5 L289.3 283.66 L289.6 283.74 L289.9 284.2 L290.2 282.99 L290.5 282.51 L290.8 283.67 L291.1 280.34 L291.4 281.03 L291.7 278.93 L292 274.22 L292.2 272.38 L292.3 268.46 L292.6 270.79 L292.9 265.24 L293.2 262.18 L293.3 252.26 L293.5 257.52 L293.8 269.19 L294.1 274.37 L294.4 273.04 L294.7 266.8 L295 264.97 L295.3 270.3 L295.6 276.12 L295.9 274.14 L296.2 279.04 L296.5 278.5 L296.8 272.1 L297.1 273.34 L297.4 270.05 L297.5 265.43 L297.7 271.59 L298 273.26 L298.3 274.06 L298.6 274.6 L298.9 280.01 L299.2 274.8 L299.5 275.35 L299.8 274.68 L300.1 270.56 L300.2 270.59 L300.4 273.45 L300.7 272.55 L301 274.4 L301.3 275.96 L301.6 274.74 L301.9 274.64 L302.2 277.24 L302.5 276.06 L302.8 271.75 L303.1 274.3 L303.4 273.01 L303.7 277.63 L304 274.86 L304.3 279.16 L304.6 279.05 L304.9 274.6 L305.2 276.9 L305.5 273.24 L305.8 278.06 L306.1 277.64 L306.4 279.87 L306.7 276.59 L307 277.25 L307.3 280.39 L307.6 281.04 L307.9 281.07 L308.2 280.82 L308.5 280.66 L308.8 277.71 L309.1 280.66 L309.4 280.67 L309.7 278.65 L310 279.94 L310.3 282.29 L310.6 279.28 L310.9 281.27 L311.2 282.46 L311.5 281.29 L311.8 279.61 L312.1 279.95 L312.4 281.73 L312.7 282.8 L313 280.9 L313.3 279.07 L313.6 278.9 L313.9 280.57 L314.2 280.84 L314.5 280.2 L314.8 280.17 L315.1 279.28 L315.4 280.61 L315.7 280.92 L316 280.61 L316.3 279.34 L316.6 281.24 L316.9 279.61 L317.2 281.68 L317.5 279.6 L317.8 280.84 L318.1 280.02 L318.4 283.17 L318.7 279.98 L319 281.41 L319.3 280.03 L319.6 280.83 L319.9 281.13 L320.2 281.34 L320.5 280.08 L320.8 281.27 L321.1 281.1 L321.4 281.3 L321.7 283.47 L322 280.77 L322.3 281.64 L322.6 280.15 L322.9 281.34 L323.2 282.59 L323.5 283.67 L323.8 281.93 L324.1 281.85 L324.4 283.07 L324.7 281.08 L325 283.64 L325.3 280.67 L325.6 281.78 L325.9 280.78 L326.2 281.07 L326.5 281.58 L326.8 280.94 L326.8 287.3 Z" fill="#6b1c42"/>
<line x1="36.5" y1="178.2" x2="36.5" y2="287.6" stroke="#999" stroke-width="0.7" />
<line x1="36.5" y1="287.3" x2="327.4" y2="287.3" stroke="#555" stroke-width="0.7" />
<line x1="33.5" y1="287.3" x2="36.5" y2="287.3" stroke="#555" stroke-width="0.6" />
<line x1="34.5" y1="276.39" x2="36.5" y2="276.39" stroke="#555" stroke-width="0.5" />
<text x="31.7" y="289.3" font-size="5.8" font-weight="bold" text-anchor="end" fill="#333">0</text>
<line x1="33.5" y1="265.48" x2="36.5" y2="265.48" stroke="#555" stroke-width="0.6" />
<line x1="34.5" y1="254.57" x2="36.5" y2="254.57" stroke="#555" stroke-width="0.5" />
<text x="31.7" y="267.48" font-size="5.8" font-weight="bold" text-anchor="end" fill="#333">5.0x10<tspan font-size="3.6" dy="-2">6</tspan></text>
<line x1="33.5" y1="243.66" x2="36.5" y2="243.66" stroke="#555" stroke-width="0.6" />
<line x1="34.5" y1="232.75" x2="36.5" y2="232.75" stroke="#555" stroke-width="0.5" />
<text x="31.7" y="245.66" font-size="5.8" font-weight="bold" text-anchor="end" fill="#333">1.0x10<tspan font-size="3.6" dy="-2">7</tspan></text>
<line x1="33.5" y1="221.84" x2="36.5" y2="221.84" stroke="#555" stroke-width="0.6" />
<line x1="34.5" y1="210.93" x2="36.5" y2="210.93" stroke="#555" stroke-width="0.5" />
<text x="31.7" y="223.84" font-size="5.8" font-weight="bold" text-anchor="end" fill="#333">1.5x10<tspan font-size="3.6" dy="-2">7</tspan></text>
<line x1="33.5" y1="200.02" x2="36.5" y2="200.02" stroke="#555" stroke-width="0.6" />
<line x1="34.5" y1="189.11" x2="36.5" y2="189.11" stroke="#555" stroke-width="0.5" />
<text x="31.7" y="202.02" font-size="5.8" font-weight="bold" text-anchor="end" fill="#333">2.0x10<tspan font-size="3.6" dy="-2">7</tspan></text>
<line x1="33.5" y1="178.2" x2="36.5" y2="178.2" stroke="#555" stroke-width="0.6" />
<text x="31.7" y="180.2" font-size="5.8" font-weight="bold" text-anchor="end" fill="#333">2.5x10<tspan font-size="3.6" dy="-2">7</tspan></text>
<line x1="36.5" y1="287.3" x2="36.5" y2="289.8" stroke="#555" stroke-width="0.6" />
<line x1="60.33" y1="287.3" x2="60.33" y2="288.8" stroke="#555" stroke-width="0.5" />
<text x="36.5" y="296.3" font-size="5.8" font-weight="bold" text-anchor="middle" fill="#333" font-style="normal" >10</text>
<line x1="84.17" y1="287.3" x2="84.17" y2="289.8" stroke="#555" stroke-width="0.6" />
<line x1="108" y1="287.3" x2="108" y2="288.8" stroke="#555" stroke-width="0.5" />
<text x="84.17" y="296.3" font-size="5.8" font-weight="bold" text-anchor="middle" fill="#333" font-style="normal" >15</text>
<line x1="131.83" y1="287.3" x2="131.83" y2="289.8" stroke="#555" stroke-width="0.6" />
<line x1="155.67" y1="287.3" x2="155.67" y2="288.8" stroke="#555" stroke-width="0.5" />
<text x="131.83" y="296.3" font-size="5.8" font-weight="bold" text-anchor="middle" fill="#333" font-style="normal" >20</text>
<line x1="179.5" y1="287.3" x2="179.5" y2="289.8" stroke="#555" stroke-width="0.6" />
<line x1="203.33" y1="287.3" x2="203.33" y2="288.8" stroke="#555" stroke-width="0.5" />
<text x="179.5" y="296.3" font-size="5.8" font-weight="bold" text-anchor="middle" fill="#333" font-style="normal" >25</text>
<line x1="227.17" y1="287.3" x2="227.17" y2="289.8" stroke="#555" stroke-width="0.6" />
<line x1="251" y1="287.3" x2="251" y2="288.8" stroke="#555" stroke-width="0.5" />
<text x="227.17" y="296.3" font-size="5.8" font-weight="bold" text-anchor="middle" fill="#333" font-style="normal" >30</text>
<line x1="274.83" y1="287.3" x2="274.83" y2="289.8" stroke="#555" stroke-width="0.6" />
<line x1="298.67" y1="287.3" x2="298.67" y2="288.8" stroke="#555" stroke-width="0.5" />
<text x="274.83" y="296.3" font-size="5.8" font-weight="bold" text-anchor="middle" fill="#333" font-style="normal" >35</text>
<line x1="322.5" y1="287.3" x2="322.5" y2="289.8" stroke="#555" stroke-width="0.6" />
<text x="322.5" y="296.3" font-size="5.8" font-weight="bold" text-anchor="middle" fill="#333" font-style="normal" >40</text>
<text x="180" y="304" font-size="6.0" font-weight="bold" text-anchor="middle" fill="#333" font-style="normal" >Retention Time (min)</text>
<text transform="translate(8.1 222.5) rotate(-90)" font-size="6" font-weight="bold" text-anchor="middle" fill="#333">Abundance</text>
<text x="176" y="171.9" font-size="8.2" font-weight="bold" text-anchor="middle" fill="#111">Protein <tspan font-style="italic">N</tspan>-Glycan Chromatography</text>
<defs><clipPath id="cg"><circle cx="511.8" cy="57.8" r="49.9"/></clipPath></defs>
<circle cx="546" cy="58.2" r="57.6" fill="#bf5038" stroke="#555" stroke-width="0.7"/>
<circle cx="511.8" cy="57.8" r="49.9" fill="#5ca768" stroke="#555" stroke-width="0.7"/>
<circle cx="546" cy="58.2" r="57.6" fill="#5f8a3e" clip-path="url(#cg)"/>
<circle cx="546" cy="58.2" r="57.6" fill="none" stroke="#555" stroke-width="0.6" clip-path="url(#cg)"/>
<circle cx="511.8" cy="57.8" r="49.9" fill="none" stroke="#555" stroke-width="0.6"/>
<text x="474.8" y="61.3" font-size="9" font-weight="normal" text-anchor="middle" fill="#333" font-style="normal" >27</text>
<text x="523.7" y="61.3" font-size="9" font-weight="normal" text-anchor="middle" fill="#333" font-style="normal" >76</text>
<text x="582.8" y="61.3" font-size="9" font-weight="normal" text-anchor="middle" fill="#333" font-style="normal" >56</text>
<text x="437.2" y="45.7" font-size="8.3" font-weight="bold" text-anchor="middle" fill="#222" font-style="normal" ><tspan font-style="italic">N</tspan>-Glycans</text>
<text x="437.2" y="55.7" font-size="8.3" font-weight="bold" text-anchor="middle" fill="#222" font-style="normal" >from</text>
<text x="437.2" y="65.7" font-size="8.3" font-weight="bold" text-anchor="middle" fill="#222" font-style="normal" >RNA</text>
<text x="631.5" y="45.7" font-size="8.3" font-weight="bold" text-anchor="middle" fill="#222" font-style="normal" ><tspan font-style="italic">N</tspan>-Glycans</text>
<text x="631.5" y="55.7" font-size="8.3" font-weight="bold" text-anchor="middle" fill="#222" font-style="normal" >from</text>
<text x="631.5" y="65.7" font-size="8.3" font-weight="bold" text-anchor="middle" fill="#222" font-style="normal" >Protein</text>
<defs><linearGradient id="gg" x1="0" x2="1" y1="0" y2="0"><stop offset="0" stop-color="#2e8540"/><stop offset="0.45" stop-color="#7fb98a"/><stop offset="1" stop-color="#f4f9f5"/></linearGradient><linearGradient id="rg" x1="0" x2="1" y1="0" y2="0"><stop offset="0" stop-color="#b0442e"/><stop offset="0.5" stop-color="#d98d7c"/><stop offset="1" stop-color="#fbeeea"/></linearGradient></defs>
<path d="M364.4 198 L652 207 L652 208.2 L364.4 208.2 Z" fill="url(#gg)"/>
<text x="365.2" y="206.6" font-size="7.2" font-weight="bold" text-anchor="start" fill="#142a18" font-style="normal" >18.79%</text>
<text x="675.8" y="206.9" font-size="7.2" font-weight="bold" text-anchor="end" fill="#222" font-style="normal" >3.15%</text>
<text x="364.8" y="216.3" font-size="7.4" font-weight="bold" text-anchor="start" fill="#222" font-style="normal" >Relative Abundance</text>
<path d="M365.8 291 L655 300 L655 301.2 L365.8 301.2 Z" fill="url(#rg)"/>
<text x="366.2" y="299.6" font-size="7.2" font-weight="bold" text-anchor="start" fill="#3a1a14" font-style="normal" >8.07%</text>
<text x="677" y="299.9" font-size="7.2" font-weight="bold" text-anchor="end" fill="#222" font-style="normal" >2.51%</text>
<text x="365.8" y="309.4" font-size="7.4" font-weight="bold" text-anchor="start" fill="#222" font-style="normal" >Relative Abundance</text>
<line x1="88.5" y1="112.9" x2="88.5" y2="103.4" stroke="#2a2a2a" stroke-width="0.507" />
<line x1="88.5" y1="103.4" x2="88.5" y2="94.5" stroke="#2a2a2a" stroke-width="0.507" />
<line x1="88.5" y1="94.5" x2="88.5" y2="85.1" stroke="#2a2a2a" stroke-width="0.507" />
<line x1="88.6" y1="112.5" x2="98.3" y2="112.5" stroke="#2a2a2a" stroke-width="0.507" />
<rect x="86.65" y="110.95" width="3.9" height="3.9" fill="#2453a6" stroke="#222" stroke-width="0.35" transform="rotate(0 88.6 112.9)"/>
<rect x="86.65" y="101.45" width="3.9" height="3.9" fill="#2453a6" stroke="#222" stroke-width="0.35" transform="rotate(0 88.6 103.4)"/>
<circle cx="88.6" cy="94.5" r="1.95" fill="#3fae49" stroke="#222" stroke-width="0.35"/>
<circle cx="88.6" cy="85.1" r="1.95" fill="#3fae49" stroke="#222" stroke-width="0.35"/>
<path d="M96.35 112.9L100.25 110.95L100.25 114.85Z" fill="#e8262b" stroke="#222" stroke-width="0.25" transform="rotate(0 98.3 112.9)"/>
<line x1="102.5" y1="80.6" x2="102.5" y2="69.9" stroke="#2a2a2a" stroke-width="0.5589999999999999" />
<line x1="102.5" y1="69.9" x2="102.5" y2="59.2" stroke="#2a2a2a" stroke-width="0.5589999999999999" />
<line x1="102.5" y1="59.2" x2="102.5" y2="48.9" stroke="#2a2a2a" stroke-width="0.5589999999999999" />
<rect x="100.75" y="78.45" width="4.3" height="4.3" fill="#2453a6" stroke="#222" stroke-width="0.39" transform="rotate(0 102.9 80.6)"/>
<rect x="100.75" y="67.75" width="4.3" height="4.3" fill="#2453a6" stroke="#222" stroke-width="0.39" transform="rotate(0 102.9 69.9)"/>
<circle cx="102.9" cy="59.2" r="2.15" fill="#3fae49" stroke="#222" stroke-width="0.39"/>
<circle cx="102.9" cy="48.9" r="2.15" fill="#3fae49" stroke="#222" stroke-width="0.39"/>
<line x1="127.5" y1="108.6" x2="127.5" y2="102.4" stroke="#2a2a2a" stroke-width="0.377" />
<line x1="127.5" y1="102.4" x2="127.5" y2="95.8" stroke="#2a2a2a" stroke-width="0.377" />
<line x1="127.5" y1="95.8" x2="123.9" y2="89.2" stroke="#2a2a2a" stroke-width="0.377" />
<line x1="127.5" y1="95.8" x2="131" y2="89.2" stroke="#2a2a2a" stroke-width="0.377" />
<line x1="127.5" y1="108.5" x2="134.3" y2="108.5" stroke="#2a2a2a" stroke-width="0.377" />
<path d="M122.7 86.82Q122.7 86.3 123.48 86.3L127.08 86.3Q127.6 86.3 127.6 85.99Q127.6 86.3 128.12 86.3L131.72 86.3Q132.5 86.3 132.5 86.82" fill="none" stroke="#666" stroke-width="0.3"/>
<line x1="127.5" y1="86.3" x2="127.5" y2="79.7" stroke="#666" stroke-width="0.30160000000000003" />
<rect x="126.05" y="107.15" width="2.9" height="2.9" fill="#2453a6" stroke="#222" stroke-width="0.26" transform="rotate(0 127.5 108.6)"/>
<rect x="126.05" y="100.95" width="2.9" height="2.9" fill="#2453a6" stroke="#222" stroke-width="0.26" transform="rotate(0 127.5 102.4)"/>
<circle cx="127.5" cy="95.8" r="1.45" fill="#3fae49" stroke="#222" stroke-width="0.26"/>
<circle cx="123.9" cy="89.2" r="1.45" fill="#3fae49" stroke="#222" stroke-width="0.26"/>
<circle cx="131" cy="89.2" r="1.45" fill="#3fae49" stroke="#222" stroke-width="0.26"/>
<path d="M132.85 108.6L135.75 107.15L135.75 110.05Z" fill="#e8262b" stroke="#222" stroke-width="0.18" transform="rotate(0 134.3 108.6)"/>
<rect x="126.05" y="78.25" width="2.9" height="2.9" fill="#2453a6" stroke="#222" stroke-width="0.26" transform="rotate(0 127.5 79.7)"/>
<line x1="146.5" y1="57.4" x2="146.5" y2="48" stroke="#2a2a2a" stroke-width="0.5589999999999999" />
<line x1="146.5" y1="48" x2="146.5" y2="38.7" stroke="#2a2a2a" stroke-width="0.5589999999999999" />
<line x1="146.5" y1="38.7" x2="146.5" y2="29.3" stroke="#2a2a2a" stroke-width="0.5589999999999999" />
<line x1="146.4" y1="57.5" x2="156.2" y2="57.5" stroke="#2a2a2a" stroke-width="0.5589999999999999" />
<rect x="144.25" y="55.25" width="4.3" height="4.3" fill="#2453a6" stroke="#222" stroke-width="0.39" transform="rotate(0 146.4 57.4)"/>
<rect x="144.25" y="45.85" width="4.3" height="4.3" fill="#2453a6" stroke="#222" stroke-width="0.39" transform="rotate(0 146.4 48)"/>
<circle cx="146.4" cy="38.7" r="2.15" fill="#3fae49" stroke="#222" stroke-width="0.39"/>
<circle cx="146.4" cy="29.3" r="2.15" fill="#3fae49" stroke="#222" stroke-width="0.39"/>
<path d="M154.05 57.4L158.35 55.25L158.35 59.55Z" fill="#e8262b" stroke="#222" stroke-width="0.27" transform="rotate(0 156.2 57.4)"/>
<line x1="155.5" y1="115.9" x2="155.5" y2="111.3" stroke="#2a2a2a" stroke-width="0.35" />
<line x1="155.5" y1="111.3" x2="155.5" y2="106.5" stroke="#2a2a2a" stroke-width="0.35" />
<line x1="155.7" y1="106.5" x2="150.8" y2="101.6" stroke="#2a2a2a" stroke-width="0.35" />
<line x1="155.7" y1="106.5" x2="160.6" y2="101.6" stroke="#2a2a2a" stroke-width="0.35" />
<line x1="155.7" y1="115.5" x2="160.6" y2="115.5" stroke="#2a2a2a" stroke-width="0.35" />
<line x1="150.8" y1="101.6" x2="148.5" y2="97" stroke="#2a2a2a" stroke-width="0.35" />
<line x1="148.5" y1="97" x2="148.5" y2="91.8" stroke="#2a2a2a" stroke-width="0.35" />
<line x1="150.8" y1="101.6" x2="153.2" y2="97" stroke="#2a2a2a" stroke-width="0.35" />
<line x1="153.5" y1="97" x2="153.5" y2="91.8" stroke="#2a2a2a" stroke-width="0.35" />
<line x1="160.6" y1="101.6" x2="158" y2="97" stroke="#2a2a2a" stroke-width="0.35" />
<line x1="158.5" y1="97" x2="158.5" y2="91.8" stroke="#2a2a2a" stroke-width="0.35" />
<line x1="160.6" y1="101.6" x2="162.8" y2="97" stroke="#2a2a2a" stroke-width="0.35" />
<line x1="162.5" y1="97" x2="162.5" y2="91.8" stroke="#2a2a2a" stroke-width="0.35" />
<rect x="154.55" y="114.75" width="2.3" height="2.3" fill="#2453a6" stroke="#222" stroke-width="0.25" transform="rotate(0 155.7 115.9)"/>
<rect x="154.55" y="110.15" width="2.3" height="2.3" fill="#2453a6" stroke="#222" stroke-width="0.25" transform="rotate(0 155.7 111.3)"/>
<circle cx="155.7" cy="106.5" r="1.15" fill="#3fae49" stroke="#222" stroke-width="0.25"/>
<circle cx="150.8" cy="101.6" r="1.15" fill="#3fae49" stroke="#222" stroke-width="0.25"/>
<circle cx="160.6" cy="101.6" r="1.15" fill="#3fae49" stroke="#222" stroke-width="0.25"/>
<path d="M159.45 115.9L161.75 114.75L161.75 117.05Z" fill="#e8262b" stroke="#222" stroke-width="0.17" transform="rotate(0 160.6 115.9)"/>
<rect x="147.35" y="95.85" width="2.3" height="2.3" fill="#2453a6" stroke="#222" stroke-width="0.25" transform="rotate(0 148.5 97)"/>
<circle cx="148.5" cy="91.8" r="1.15" fill="#f4e64a" stroke="#222" stroke-width="0.25"/>
<rect x="152.05" y="95.85" width="2.3" height="2.3" fill="#2453a6" stroke="#222" stroke-width="0.25" transform="rotate(0 153.2 97)"/>
<circle cx="153.2" cy="91.8" r="1.15" fill="#f4e64a" stroke="#222" stroke-width="0.25"/>
<rect x="156.85" y="95.85" width="2.3" height="2.3" fill="#2453a6" stroke="#222" stroke-width="0.25" transform="rotate(0 158 97)"/>
<circle cx="158" cy="91.8" r="1.15" fill="#f4e64a" stroke="#222" stroke-width="0.25"/>
<rect x="161.65" y="95.85" width="2.3" height="2.3" fill="#2453a6" stroke="#222" stroke-width="0.25" transform="rotate(0 162.8 97)"/>
<circle cx="162.8" cy="91.8" r="1.15" fill="#f4e64a" stroke="#222" stroke-width="0.25"/>
<line x1="168.5" y1="86.3" x2="168.5" y2="79.7" stroke="#2a2a2a" stroke-width="0.377" />
<line x1="168.5" y1="79.7" x2="168.5" y2="73.1" stroke="#2a2a2a" stroke-width="0.377" />
<line x1="168.3" y1="73.1" x2="165.1" y2="66.9" stroke="#2a2a2a" stroke-width="0.377" />
<line x1="168.3" y1="73.1" x2="171.7" y2="66.9" stroke="#2a2a2a" stroke-width="0.377" />
<line x1="168.3" y1="86.5" x2="175.6" y2="86.5" stroke="#2a2a2a" stroke-width="0.377" />
<path d="M163.7 64.22Q163.7 63.7 164.48 63.7L167.88 63.7Q168.4 63.7 168.4 63.39Q168.4 63.7 168.92 63.7L172.32 63.7Q173.1 63.7 173.1 64.22" fill="none" stroke="#666" stroke-width="0.3"/>
<line x1="168.3" y1="63.7" x2="168.3" y2="57.4" stroke="#666" stroke-width="0.30160000000000003" />
<rect x="166.85" y="84.85" width="2.9" height="2.9" fill="#2453a6" stroke="#222" stroke-width="0.26" transform="rotate(0 168.3 86.3)"/>
<rect x="166.85" y="78.25" width="2.9" height="2.9" fill="#2453a6" stroke="#222" stroke-width="0.26" transform="rotate(0 168.3 79.7)"/>
<circle cx="168.3" cy="73.1" r="1.45" fill="#3fae49" stroke="#222" stroke-width="0.26"/>
<circle cx="165.1" cy="66.9" r="1.45" fill="#3fae49" stroke="#222" stroke-width="0.26"/>
<circle cx="171.7" cy="66.9" r="1.45" fill="#3fae49" stroke="#222" stroke-width="0.26"/>
<path d="M174.15 86.3L177.05 84.85L177.05 87.75Z" fill="#e8262b" stroke="#222" stroke-width="0.18" transform="rotate(0 175.6 86.3)"/>
<rect x="166.85" y="55.95" width="2.9" height="2.9" fill="#2453a6" stroke="#222" stroke-width="0.26" transform="rotate(0 168.3 57.4)"/>
<line x1="182.5" y1="102" x2="182.5" y2="94" stroke="#2a2a2a" stroke-width="0.41600000000000004" />
<line x1="182.5" y1="94" x2="182.5" y2="86.3" stroke="#2a2a2a" stroke-width="0.41600000000000004" />
<line x1="182.7" y1="86.3" x2="178.8" y2="78.5" stroke="#2a2a2a" stroke-width="0.41600000000000004" />
<line x1="182.7" y1="86.3" x2="186.5" y2="78.5" stroke="#2a2a2a" stroke-width="0.41600000000000004" />
<line x1="182.7" y1="102.5" x2="191.3" y2="102.5" stroke="#2a2a2a" stroke-width="0.41600000000000004" />
<rect x="181.1" y="100.4" width="3.2" height="3.2" fill="#2453a6" stroke="#222" stroke-width="0.29" transform="rotate(0 182.7 102)"/>
<rect x="181.1" y="92.4" width="3.2" height="3.2" fill="#2453a6" stroke="#222" stroke-width="0.29" transform="rotate(0 182.7 94)"/>
<circle cx="182.7" cy="86.3" r="1.6" fill="#3fae49" stroke="#222" stroke-width="0.29"/>
<circle cx="178.8" cy="78.5" r="1.6" fill="#3fae49" stroke="#222" stroke-width="0.29"/>
<circle cx="186.5" cy="78.5" r="1.6" fill="#3fae49" stroke="#222" stroke-width="0.29"/>
<path d="M189.7 102L192.9 100.4L192.9 103.6Z" fill="#e8262b" stroke="#222" stroke-width="0.2" transform="rotate(0 191.3 102)"/>
<line x1="200.5" y1="105" x2="200.5" y2="97.5" stroke="#2a2a2a" stroke-width="0.39" />
<line x1="200.5" y1="97.5" x2="200.5" y2="90" stroke="#2a2a2a" stroke-width="0.39" />
<line x1="200.6" y1="90" x2="196.6" y2="82.7" stroke="#2a2a2a" stroke-width="0.39" />
<line x1="200.6" y1="90" x2="204.1" y2="82.7" stroke="#2a2a2a" stroke-width="0.39" />
<line x1="200.6" y1="105.5" x2="208.2" y2="105.5" stroke="#2a2a2a" stroke-width="0.39" />
<line x1="200.5" y1="72.2" x2="200.5" y2="64.9" stroke="#2a2a2a" stroke-width="0.39" />
<line x1="200.5" y1="64.9" x2="200.5" y2="57.4" stroke="#2a2a2a" stroke-width="0.39" />
<path d="M194.9 79.94Q194.9 79.4 195.71 79.4L199.96 79.4Q200.5 79.4 200.5 79.08Q200.5 79.4 201.04 79.4L205.29 79.4Q206.1 79.4 206.1 79.94" fill="none" stroke="#666" stroke-width="0.31"/>
<line x1="200.6" y1="79.4" x2="200.6" y2="72.2" stroke="#666" stroke-width="0.31200000000000006" />
<rect x="199.1" y="103.5" width="3" height="3" fill="#2453a6" stroke="#222" stroke-width="0.27" transform="rotate(0 200.6 105)"/>
<rect x="199.1" y="96" width="3" height="3" fill="#2453a6" stroke="#222" stroke-width="0.27" transform="rotate(0 200.6 97.5)"/>
<circle cx="200.6" cy="90" r="1.5" fill="#3fae49" stroke="#222" stroke-width="0.27"/>
<circle cx="196.6" cy="82.7" r="1.5" fill="#3fae49" stroke="#222" stroke-width="0.27"/>
<circle cx="204.1" cy="82.7" r="1.5" fill="#3fae49" stroke="#222" stroke-width="0.27"/>
<path d="M206.7 105L209.7 103.5L209.7 106.5Z" fill="#e8262b" stroke="#222" stroke-width="0.19" transform="rotate(0 208.2 105)"/>
<rect x="199.1" y="70.7" width="3" height="3" fill="#2453a6" stroke="#222" stroke-width="0.27" transform="rotate(0 200.6 72.2)"/>
<circle cx="200.6" cy="64.9" r="1.5" fill="#f4e64a" stroke="#222" stroke-width="0.27"/>
<path d="M200.6 55.9L202.1 57.4L200.6 58.9L199.1 57.4Z" fill="#a3359a" stroke="#222" stroke-width="0.19" transform="rotate(0 200.6 57.4)"/>
<line x1="226.5" y1="102.9" x2="226.5" y2="96.7" stroke="#2a2a2a" stroke-width="0.35" />
<line x1="226.5" y1="96.7" x2="226.5" y2="90.4" stroke="#2a2a2a" stroke-width="0.35" />
<line x1="226" y1="90.4" x2="219.8" y2="84.2" stroke="#2a2a2a" stroke-width="0.35" />
<line x1="226" y1="90.4" x2="232.3" y2="84.2" stroke="#2a2a2a" stroke-width="0.35" />
<line x1="226" y1="102.5" x2="232.6" y2="102.5" stroke="#2a2a2a" stroke-width="0.35" />
<line x1="219.8" y1="84.2" x2="216.6" y2="78.1" stroke="#2a2a2a" stroke-width="0.35" />
<line x1="216.5" y1="78.1" x2="216.5" y2="72.1" stroke="#2a2a2a" stroke-width="0.35" />
<line x1="219.8" y1="84.2" x2="222.8" y2="78.1" stroke="#2a2a2a" stroke-width="0.35" />
<line x1="222.5" y1="78.1" x2="222.5" y2="72.1" stroke="#2a2a2a" stroke-width="0.35" />
<line x1="232.3" y1="84.2" x2="229.1" y2="78.1" stroke="#2a2a2a" stroke-width="0.35" />
<line x1="229.5" y1="78.1" x2="229.5" y2="72.1" stroke="#2a2a2a" stroke-width="0.35" />
<line x1="232.3" y1="84.2" x2="235.5" y2="78.1" stroke="#2a2a2a" stroke-width="0.35" />
<line x1="235.5" y1="78.1" x2="235.5" y2="72.1" stroke="#2a2a2a" stroke-width="0.35" />
<path d="M215.3 69.45Q215.3 69 215.98 69L225.55 69Q226 69 226 68.73Q226 69 226.45 69L236.02 69Q236.7 69 236.7 69.45" fill="none" stroke="#666" stroke-width="0.28"/>
<line x1="226" y1="69" x2="226" y2="62.8" stroke="#666" stroke-width="0.27999999999999997" />
<rect x="224.75" y="101.65" width="2.5" height="2.5" fill="#2453a6" stroke="#222" stroke-width="0.25" transform="rotate(0 226 102.9)"/>
<rect x="224.75" y="95.45" width="2.5" height="2.5" fill="#2453a6" stroke="#222" stroke-width="0.25" transform="rotate(0 226 96.7)"/>
<circle cx="226" cy="90.4" r="1.25" fill="#3fae49" stroke="#222" stroke-width="0.25"/>
<circle cx="219.8" cy="84.2" r="1.25" fill="#3fae49" stroke="#222" stroke-width="0.25"/>
<circle cx="232.3" cy="84.2" r="1.25" fill="#3fae49" stroke="#222" stroke-width="0.25"/>
<path d="M231.35 102.9L233.85 101.65L233.85 104.15Z" fill="#e8262b" stroke="#222" stroke-width="0.17" transform="rotate(0 232.6 102.9)"/>
<rect x="215.35" y="76.85" width="2.5" height="2.5" fill="#2453a6" stroke="#222" stroke-width="0.25" transform="rotate(0 216.6 78.1)"/>
<circle cx="216.6" cy="72.1" r="1.25" fill="#f4e64a" stroke="#222" stroke-width="0.25"/>
<rect x="221.55" y="76.85" width="2.5" height="2.5" fill="#2453a6" stroke="#222" stroke-width="0.25" transform="rotate(0 222.8 78.1)"/>
<circle cx="222.8" cy="72.1" r="1.25" fill="#f4e64a" stroke="#222" stroke-width="0.25"/>
<rect x="227.85" y="76.85" width="2.5" height="2.5" fill="#2453a6" stroke="#222" stroke-width="0.25" transform="rotate(0 229.1 78.1)"/>
<circle cx="229.1" cy="72.1" r="1.25" fill="#f4e64a" stroke="#222" stroke-width="0.25"/>
<rect x="234.25" y="76.85" width="2.5" height="2.5" fill="#2453a6" stroke="#222" stroke-width="0.25" transform="rotate(0 235.5 78.1)"/>
<circle cx="235.5" cy="72.1" r="1.25" fill="#f4e64a" stroke="#222" stroke-width="0.25"/>
<path d="M226 61.55L227.25 62.8L226 64.05L224.75 62.8Z" fill="#a3359a" stroke="#222" stroke-width="0.17" transform="rotate(0 226 62.8)"/>
<line x1="258.5" y1="92.6" x2="258.5" y2="86.5" stroke="#2a2a2a" stroke-width="0.35" />
<line x1="258.5" y1="86.5" x2="258.5" y2="80.3" stroke="#2a2a2a" stroke-width="0.35" />
<line x1="258.5" y1="80.3" x2="252.4" y2="74" stroke="#2a2a2a" stroke-width="0.35" />
<line x1="258.5" y1="80.3" x2="264.7" y2="74" stroke="#2a2a2a" stroke-width="0.35" />
<line x1="258.5" y1="92.5" x2="265.3" y2="92.5" stroke="#2a2a2a" stroke-width="0.35" />
<line x1="252.4" y1="74" x2="249.6" y2="67.8" stroke="#2a2a2a" stroke-width="0.35" />
<line x1="249.5" y1="67.8" x2="249.5" y2="61.9" stroke="#2a2a2a" stroke-width="0.35" />
<line x1="252.4" y1="74" x2="255.6" y2="67.8" stroke="#2a2a2a" stroke-width="0.35" />
<line x1="255.5" y1="67.8" x2="255.5" y2="61.9" stroke="#2a2a2a" stroke-width="0.35" />
<line x1="264.7" y1="74" x2="261.7" y2="67.8" stroke="#2a2a2a" stroke-width="0.35" />
<line x1="261.5" y1="67.8" x2="261.5" y2="61.9" stroke="#2a2a2a" stroke-width="0.35" />
<line x1="264.7" y1="74" x2="268" y2="67.8" stroke="#2a2a2a" stroke-width="0.35" />
<line x1="268.5" y1="67.8" x2="268.5" y2="61.9" stroke="#2a2a2a" stroke-width="0.35" />
<path d="M248 59.35Q248 58.9 248.68 58.9L258.25 58.9Q258.7 58.9 258.7 58.63Q258.7 58.9 259.15 58.9L268.72 58.9Q269.4 58.9 269.4 59.35" fill="none" stroke="#666" stroke-width="0.28"/>
<line x1="258.5" y1="58.9" x2="258.5" y2="52.6" stroke="#666" stroke-width="0.27999999999999997" />
<rect x="257.25" y="91.35" width="2.5" height="2.5" fill="#2453a6" stroke="#222" stroke-width="0.25" transform="rotate(0 258.5 92.6)"/>
<rect x="257.25" y="85.25" width="2.5" height="2.5" fill="#2453a6" stroke="#222" stroke-width="0.25" transform="rotate(0 258.5 86.5)"/>
<circle cx="258.5" cy="80.3" r="1.25" fill="#3fae49" stroke="#222" stroke-width="0.25"/>
<circle cx="252.4" cy="74" r="1.25" fill="#3fae49" stroke="#222" stroke-width="0.25"/>
<circle cx="264.7" cy="74" r="1.25" fill="#3fae49" stroke="#222" stroke-width="0.25"/>
<path d="M264.05 92.6L266.55 91.35L266.55 93.85Z" fill="#e8262b" stroke="#222" stroke-width="0.17" transform="rotate(0 265.3 92.6)"/>
<rect x="248.35" y="66.55" width="2.5" height="2.5" fill="#2453a6" stroke="#222" stroke-width="0.25" transform="rotate(0 249.6 67.8)"/>
<circle cx="249.6" cy="61.9" r="1.25" fill="#f4e64a" stroke="#222" stroke-width="0.25"/>
<rect x="254.35" y="66.55" width="2.5" height="2.5" fill="#2453a6" stroke="#222" stroke-width="0.25" transform="rotate(0 255.6 67.8)"/>
<circle cx="255.6" cy="61.9" r="1.25" fill="#f4e64a" stroke="#222" stroke-width="0.25"/>
<rect x="260.45" y="66.55" width="2.5" height="2.5" fill="#2453a6" stroke="#222" stroke-width="0.25" transform="rotate(0 261.7 67.8)"/>
<circle cx="261.7" cy="61.9" r="1.25" fill="#f4e64a" stroke="#222" stroke-width="0.25"/>
<rect x="266.75" y="66.55" width="2.5" height="2.5" fill="#2453a6" stroke="#222" stroke-width="0.25" transform="rotate(0 268 67.8)"/>
<circle cx="268" cy="61.9" r="1.25" fill="#f4e64a" stroke="#222" stroke-width="0.25"/>
<path d="M258.5 51.35L259.75 52.6L258.5 53.85L257.25 52.6Z" fill="#a3359a" stroke="#222" stroke-width="0.17" transform="rotate(0 258.5 52.6)"/>
<line x1="309.5" y1="112.7" x2="309.5" y2="106.7" stroke="#2a2a2a" stroke-width="0.35" />
<line x1="309.5" y1="106.7" x2="309.5" y2="100.6" stroke="#2a2a2a" stroke-width="0.35" />
<line x1="309.3" y1="100.6" x2="302.9" y2="94.2" stroke="#2a2a2a" stroke-width="0.35" />
<line x1="309.3" y1="100.6" x2="315.4" y2="94.2" stroke="#2a2a2a" stroke-width="0.35" />
<line x1="309.3" y1="112.5" x2="315.6" y2="112.5" stroke="#2a2a2a" stroke-width="0.35" />
<line x1="302.9" y1="94.2" x2="300" y2="88.1" stroke="#2a2a2a" stroke-width="0.35" />
<line x1="300.5" y1="88.1" x2="300.5" y2="81.9" stroke="#2a2a2a" stroke-width="0.35" />
<line x1="302.9" y1="94.2" x2="306.3" y2="88.1" stroke="#2a2a2a" stroke-width="0.35" />
<line x1="306.5" y1="88.1" x2="306.5" y2="81.9" stroke="#2a2a2a" stroke-width="0.35" />
<line x1="315.4" y1="94.2" x2="312.4" y2="88.1" stroke="#2a2a2a" stroke-width="0.35" />
<line x1="312.5" y1="88.1" x2="312.5" y2="81.9" stroke="#2a2a2a" stroke-width="0.35" />
<line x1="315.4" y1="94.2" x2="318.4" y2="88.1" stroke="#2a2a2a" stroke-width="0.35" />
<line x1="318.5" y1="88.1" x2="318.5" y2="81.9" stroke="#2a2a2a" stroke-width="0.35" />
<path d="M298.3 79.25Q298.3 78.8 298.98 78.8L308.7 78.8Q309.15 78.8 309.15 78.53Q309.15 78.8 309.6 78.8L319.32 78.8Q320 78.8 320 79.25" fill="none" stroke="#666" stroke-width="0.28"/>
<line x1="309.3" y1="78.8" x2="309.3" y2="73" stroke="#666" stroke-width="0.27999999999999997" />
<rect x="308.05" y="111.45" width="2.5" height="2.5" fill="#2453a6" stroke="#222" stroke-width="0.25" transform="rotate(0 309.3 112.7)"/>
<rect x="308.05" y="105.45" width="2.5" height="2.5" fill="#2453a6" stroke="#222" stroke-width="0.25" transform="rotate(0 309.3 106.7)"/>
<circle cx="309.3" cy="100.6" r="1.25" fill="#3fae49" stroke="#222" stroke-width="0.25"/>
<circle cx="302.9" cy="94.2" r="1.25" fill="#3fae49" stroke="#222" stroke-width="0.25"/>
<circle cx="315.4" cy="94.2" r="1.25" fill="#3fae49" stroke="#222" stroke-width="0.25"/>
<path d="M314.35 112.7L316.85 111.45L316.85 113.95Z" fill="#e8262b" stroke="#222" stroke-width="0.17" transform="rotate(0 315.6 112.7)"/>
<rect x="298.75" y="86.85" width="2.5" height="2.5" fill="#2453a6" stroke="#222" stroke-width="0.25" transform="rotate(0 300 88.1)"/>
<circle cx="300" cy="81.9" r="1.25" fill="#f4e64a" stroke="#222" stroke-width="0.25"/>
<rect x="305.05" y="86.85" width="2.5" height="2.5" fill="#2453a6" stroke="#222" stroke-width="0.25" transform="rotate(0 306.3 88.1)"/>
<circle cx="306.3" cy="81.9" r="1.25" fill="#f4e64a" stroke="#222" stroke-width="0.25"/>
<rect x="311.15" y="86.85" width="2.5" height="2.5" fill="#2453a6" stroke="#222" stroke-width="0.25" transform="rotate(0 312.4 88.1)"/>
<circle cx="312.4" cy="81.9" r="1.25" fill="#f4e64a" stroke="#222" stroke-width="0.25"/>
<rect x="317.15" y="86.85" width="2.5" height="2.5" fill="#2453a6" stroke="#222" stroke-width="0.25" transform="rotate(0 318.4 88.1)"/>
<circle cx="318.4" cy="81.9" r="1.25" fill="#f4e64a" stroke="#222" stroke-width="0.25"/>
<path d="M309.3 71.75L310.55 73L309.3 74.25L308.05 73Z" fill="#a3359a" stroke="#222" stroke-width="0.17" transform="rotate(0 309.3 73)"/>
<line x1="46.5" y1="215.5" x2="46.5" y2="210.1" stroke="#2a2a2a" stroke-width="0.35" />
<line x1="46.5" y1="210.1" x2="46.5" y2="204.4" stroke="#2a2a2a" stroke-width="0.35" />
<line x1="46.4" y1="204.4" x2="42.5" y2="199.1" stroke="#2a2a2a" stroke-width="0.35" />
<line x1="46.4" y1="204.4" x2="50.9" y2="199.1" stroke="#2a2a2a" stroke-width="0.35" />
<line x1="42.5" y1="199.1" x2="42.5" y2="193.7" stroke="#2a2a2a" stroke-width="0.35" />
<line x1="50.9" y1="199.1" x2="47.5" y2="193.7" stroke="#2a2a2a" stroke-width="0.35" />
<line x1="50.9" y1="199.1" x2="52.8" y2="193.7" stroke="#2a2a2a" stroke-width="0.35" />
<path d="M40.7 191.85Q40.7 191.4 41.38 191.4L47.2 191.4Q47.65 191.4 47.65 191.13Q47.65 191.4 48.1 191.4L53.93 191.4Q54.6 191.4 54.6 191.85" fill="none" stroke="#666" stroke-width="0.28"/>
<line x1="45.2" y1="191.4" x2="45.2" y2="186" stroke="#666" stroke-width="0.27999999999999997" />
<line x1="50.9" y1="191.4" x2="50.9" y2="186" stroke="#666" stroke-width="0.27999999999999997" />
<rect x="45.15" y="214.25" width="2.5" height="2.5" fill="#2453a6" stroke="#222" stroke-width="0.25" transform="rotate(0 46.4 215.5)"/>
<rect x="45.15" y="208.85" width="2.5" height="2.5" fill="#2453a6" stroke="#222" stroke-width="0.25" transform="rotate(0 46.4 210.1)"/>
<circle cx="46.4" cy="204.4" r="1.25" fill="#3fae49" stroke="#222" stroke-width="0.25"/>
<circle cx="42.5" cy="199.1" r="1.25" fill="#3fae49" stroke="#222" stroke-width="0.25"/>
<circle cx="50.9" cy="199.1" r="1.25" fill="#3fae49" stroke="#222" stroke-width="0.25"/>
<circle cx="42.5" cy="193.7" r="1.25" fill="#3fae49" stroke="#222" stroke-width="0.25"/>
<circle cx="47.5" cy="193.7" r="1.25" fill="#3fae49" stroke="#222" stroke-width="0.25"/>
<circle cx="52.8" cy="193.7" r="1.25" fill="#3fae49" stroke="#222" stroke-width="0.25"/>
<circle cx="45.2" cy="186" r="1.25" fill="#3fae49" stroke="#222" stroke-width="0.25"/>
<circle cx="50.9" cy="186" r="1.25" fill="#3fae49" stroke="#222" stroke-width="0.25"/>
<line x1="78.5" y1="215.1" x2="78.5" y2="208.3" stroke="#2a2a2a" stroke-width="0.35" />
<line x1="78.5" y1="208.3" x2="78.5" y2="202.1" stroke="#2a2a2a" stroke-width="0.35" />
<line x1="78.7" y1="202.1" x2="74" y2="195.8" stroke="#2a2a2a" stroke-width="0.35" />
<line x1="78.7" y1="202.1" x2="83.5" y2="195.8" stroke="#2a2a2a" stroke-width="0.35" />
<line x1="74.5" y1="195.8" x2="74.5" y2="189.1" stroke="#2a2a2a" stroke-width="0.35" />
<line x1="83.5" y1="195.8" x2="80.4" y2="189.1" stroke="#2a2a2a" stroke-width="0.35" />
<line x1="83.5" y1="195.8" x2="87" y2="189.1" stroke="#2a2a2a" stroke-width="0.35" />
<line x1="74.5" y1="189.1" x2="74.5" y2="182.5" stroke="#2a2a2a" stroke-width="0.35" />
<line x1="80.5" y1="189.1" x2="80.5" y2="182.5" stroke="#2a2a2a" stroke-width="0.35" />
<line x1="87.5" y1="189.1" x2="87.5" y2="182.5" stroke="#2a2a2a" stroke-width="0.35" />
<rect x="77.45" y="213.85" width="2.5" height="2.5" fill="#2453a6" stroke="#222" stroke-width="0.25" transform="rotate(0 78.7 215.1)"/>
<rect x="77.45" y="207.05" width="2.5" height="2.5" fill="#2453a6" stroke="#222" stroke-width="0.25" transform="rotate(0 78.7 208.3)"/>
<circle cx="78.7" cy="202.1" r="1.25" fill="#3fae49" stroke="#222" stroke-width="0.25"/>
<circle cx="74" cy="195.8" r="1.25" fill="#3fae49" stroke="#222" stroke-width="0.25"/>
<circle cx="83.5" cy="195.8" r="1.25" fill="#3fae49" stroke="#222" stroke-width="0.25"/>
<circle cx="74" cy="189.1" r="1.25" fill="#3fae49" stroke="#222" stroke-width="0.25"/>
<circle cx="80.4" cy="189.1" r="1.25" fill="#3fae49" stroke="#222" stroke-width="0.25"/>
<circle cx="87" cy="189.1" r="1.25" fill="#3fae49" stroke="#222" stroke-width="0.25"/>
<circle cx="74" cy="182.5" r="1.25" fill="#3fae49" stroke="#222" stroke-width="0.25"/>
<circle cx="80.4" cy="182.5" r="1.25" fill="#3fae49" stroke="#222" stroke-width="0.25"/>
<circle cx="87" cy="182.5" r="1.25" fill="#3fae49" stroke="#222" stroke-width="0.25"/>
<line x1="103.5" y1="217.6" x2="103.5" y2="207.4" stroke="#2a2a2a" stroke-width="0.5589999999999999" />
<line x1="103.5" y1="207.4" x2="103.5" y2="197.1" stroke="#2a2a2a" stroke-width="0.5589999999999999" />
<line x1="103.5" y1="197.1" x2="103.5" y2="186.4" stroke="#2a2a2a" stroke-width="0.5589999999999999" />
<rect x="101.15" y="215.45" width="4.3" height="4.3" fill="#2453a6" stroke="#222" stroke-width="0.39" transform="rotate(0 103.3 217.6)"/>
<rect x="101.15" y="205.25" width="4.3" height="4.3" fill="#2453a6" stroke="#222" stroke-width="0.39" transform="rotate(0 103.3 207.4)"/>
<circle cx="103.3" cy="197.1" r="2.15" fill="#3fae49" stroke="#222" stroke-width="0.39"/>
<circle cx="103.3" cy="186.4" r="2.15" fill="#3fae49" stroke="#222" stroke-width="0.39"/>
<line x1="57.5" y1="255.2" x2="57.5" y2="248.4" stroke="#2a2a2a" stroke-width="0.35" />
<line x1="57.5" y1="248.4" x2="57.5" y2="242.2" stroke="#2a2a2a" stroke-width="0.35" />
<line x1="57.1" y1="242.2" x2="52.3" y2="236" stroke="#2a2a2a" stroke-width="0.35" />
<line x1="57.1" y1="242.2" x2="62.1" y2="236" stroke="#2a2a2a" stroke-width="0.35" />
<line x1="52.5" y1="236" x2="52.5" y2="229.4" stroke="#2a2a2a" stroke-width="0.35" />
<line x1="62.1" y1="236" x2="58.9" y2="229.4" stroke="#2a2a2a" stroke-width="0.35" />
<line x1="62.1" y1="236" x2="65.3" y2="229.4" stroke="#2a2a2a" stroke-width="0.35" />
<line x1="52.5" y1="229.4" x2="52.5" y2="222.9" stroke="#2a2a2a" stroke-width="0.35" />
<line x1="58.5" y1="229.4" x2="58.5" y2="222.9" stroke="#2a2a2a" stroke-width="0.35" />
<line x1="65.5" y1="229.4" x2="65.5" y2="222.9" stroke="#2a2a2a" stroke-width="0.35" />
<rect x="55.85" y="253.95" width="2.5" height="2.5" fill="#2453a6" stroke="#222" stroke-width="0.25" transform="rotate(0 57.1 255.2)"/>
<rect x="55.85" y="247.15" width="2.5" height="2.5" fill="#2453a6" stroke="#222" stroke-width="0.25" transform="rotate(0 57.1 248.4)"/>
<circle cx="57.1" cy="242.2" r="1.25" fill="#3fae49" stroke="#222" stroke-width="0.25"/>
<circle cx="52.3" cy="236" r="1.25" fill="#3fae49" stroke="#222" stroke-width="0.25"/>
<circle cx="62.1" cy="236" r="1.25" fill="#3fae49" stroke="#222" stroke-width="0.25"/>
<circle cx="52.3" cy="229.4" r="1.25" fill="#3fae49" stroke="#222" stroke-width="0.25"/>
<circle cx="58.9" cy="229.4" r="1.25" fill="#3fae49" stroke="#222" stroke-width="0.25"/>
<circle cx="65.3" cy="229.4" r="1.25" fill="#3fae49" stroke="#222" stroke-width="0.25"/>
<circle cx="52.3" cy="222.9" r="1.25" fill="#3fae49" stroke="#222" stroke-width="0.25"/>
<circle cx="58.9" cy="222.9" r="1.25" fill="#3fae49" stroke="#222" stroke-width="0.25"/>
<circle cx="65.3" cy="222.9" r="1.25" fill="#3fae49" stroke="#222" stroke-width="0.25"/>
<line x1="84.5" y1="261.8" x2="84.5" y2="256.5" stroke="#2a2a2a" stroke-width="0.35" />
<line x1="84.5" y1="256.5" x2="84.5" y2="250.6" stroke="#2a2a2a" stroke-width="0.35" />
<line x1="84.7" y1="250.6" x2="81.7" y2="244.9" stroke="#2a2a2a" stroke-width="0.35" />
<line x1="84.7" y1="250.6" x2="89.7" y2="244.9" stroke="#2a2a2a" stroke-width="0.35" />
<line x1="81.7" y1="244.9" x2="80.8" y2="239.5" stroke="#2a2a2a" stroke-width="0.35" />
<line x1="89.7" y1="244.9" x2="86.1" y2="239.5" stroke="#2a2a2a" stroke-width="0.35" />
<line x1="89.7" y1="244.9" x2="91.5" y2="239.5" stroke="#2a2a2a" stroke-width="0.35" />
<path d="M79.4 237.8Q79.4 237.4 79.99 237.4L85.65 237.4Q86.05 237.4 86.05 237.16Q86.05 237.4 86.45 237.4L92.11 237.4Q92.7 237.4 92.7 237.8" fill="none" stroke="#666" stroke-width="0.28"/>
<line x1="86.1" y1="237.4" x2="86.1" y2="231.1" stroke="#666" stroke-width="0.27999999999999997" />
<rect x="83.6" y="260.7" width="2.2" height="2.2" fill="#2453a6" stroke="#222" stroke-width="0.25" transform="rotate(0 84.7 261.8)"/>
<rect x="83.6" y="255.4" width="2.2" height="2.2" fill="#2453a6" stroke="#222" stroke-width="0.25" transform="rotate(0 84.7 256.5)"/>
<circle cx="84.7" cy="250.6" r="1.1" fill="#3fae49" stroke="#222" stroke-width="0.25"/>
<circle cx="81.7" cy="244.9" r="1.1" fill="#3fae49" stroke="#222" stroke-width="0.25"/>
<circle cx="89.7" cy="244.9" r="1.1" fill="#3fae49" stroke="#222" stroke-width="0.25"/>
<circle cx="80.8" cy="239.5" r="1.1" fill="#3fae49" stroke="#222" stroke-width="0.25"/>
<circle cx="86.1" cy="239.5" r="1.1" fill="#3fae49" stroke="#222" stroke-width="0.25"/>
<circle cx="91.5" cy="239.5" r="1.1" fill="#3fae49" stroke="#222" stroke-width="0.25"/>
<circle cx="86.1" cy="231.1" r="1.1" fill="#3fae49" stroke="#222" stroke-width="0.25"/>
<line x1="109.5" y1="256.8" x2="109.5" y2="248.4" stroke="#2a2a2a" stroke-width="0.41600000000000004" />
<line x1="109.5" y1="248.4" x2="109.5" y2="240.4" stroke="#2a2a2a" stroke-width="0.41600000000000004" />
<line x1="109" y1="240.4" x2="104.5" y2="232" stroke="#2a2a2a" stroke-width="0.41600000000000004" />
<line x1="109" y1="240.4" x2="112.9" y2="232" stroke="#2a2a2a" stroke-width="0.41600000000000004" />
<line x1="112.9" y1="232" x2="109" y2="223.5" stroke="#2a2a2a" stroke-width="0.41600000000000004" />
<line x1="112.9" y1="232" x2="117" y2="223.5" stroke="#2a2a2a" stroke-width="0.41600000000000004" />
<rect x="107.4" y="255.2" width="3.2" height="3.2" fill="#2453a6" stroke="#222" stroke-width="0.29" transform="rotate(0 109 256.8)"/>
<rect x="107.4" y="246.8" width="3.2" height="3.2" fill="#2453a6" stroke="#222" stroke-width="0.29" transform="rotate(0 109 248.4)"/>
<circle cx="109" cy="240.4" r="1.6" fill="#3fae49" stroke="#222" stroke-width="0.29"/>
<circle cx="104.5" cy="232" r="1.6" fill="#3fae49" stroke="#222" stroke-width="0.29"/>
<circle cx="112.9" cy="232" r="1.6" fill="#3fae49" stroke="#222" stroke-width="0.29"/>
<circle cx="109" cy="223.5" r="1.6" fill="#3fae49" stroke="#222" stroke-width="0.29"/>
<circle cx="117" cy="223.5" r="1.6" fill="#3fae49" stroke="#222" stroke-width="0.29"/>
<line x1="126.5" y1="256.5" x2="126.5" y2="248.4" stroke="#2a2a2a" stroke-width="0.41600000000000004" />
<line x1="126.5" y1="248.4" x2="126.5" y2="240.8" stroke="#2a2a2a" stroke-width="0.41600000000000004" />
<line x1="126.8" y1="240.8" x2="120.9" y2="232.4" stroke="#2a2a2a" stroke-width="0.41600000000000004" />
<line x1="126.8" y1="240.8" x2="132.5" y2="232.4" stroke="#2a2a2a" stroke-width="0.41600000000000004" />
<rect x="125.2" y="254.9" width="3.2" height="3.2" fill="#2453a6" stroke="#222" stroke-width="0.29" transform="rotate(0 126.8 256.5)"/>
<rect x="125.2" y="246.8" width="3.2" height="3.2" fill="#2453a6" stroke="#222" stroke-width="0.29" transform="rotate(0 126.8 248.4)"/>
<circle cx="126.8" cy="240.8" r="1.6" fill="#3fae49" stroke="#222" stroke-width="0.29"/>
<circle cx="120.9" cy="232.4" r="1.6" fill="#3fae49" stroke="#222" stroke-width="0.29"/>
<circle cx="132.5" cy="232.4" r="1.6" fill="#3fae49" stroke="#222" stroke-width="0.29"/>
<line x1="147.5" y1="218.5" x2="147.5" y2="209.2" stroke="#2a2a2a" stroke-width="0.507" />
<line x1="147.5" y1="209.2" x2="147.5" y2="200.3" stroke="#2a2a2a" stroke-width="0.507" />
<line x1="147.5" y1="200.3" x2="147.5" y2="190.9" stroke="#2a2a2a" stroke-width="0.507" />
<line x1="147.1" y1="218.5" x2="156.9" y2="218.5" stroke="#2a2a2a" stroke-width="0.507" />
<rect x="145.15" y="216.55" width="3.9" height="3.9" fill="#2453a6" stroke="#222" stroke-width="0.35" transform="rotate(0 147.1 218.5)"/>
<rect x="145.15" y="207.25" width="3.9" height="3.9" fill="#2453a6" stroke="#222" stroke-width="0.35" transform="rotate(0 147.1 209.2)"/>
<circle cx="147.1" cy="200.3" r="1.95" fill="#3fae49" stroke="#222" stroke-width="0.35"/>
<circle cx="147.1" cy="190.9" r="1.95" fill="#3fae49" stroke="#222" stroke-width="0.35"/>
<path d="M154.95 218.5L158.85 216.55L158.85 220.45Z" fill="#e8262b" stroke="#222" stroke-width="0.25" transform="rotate(0 156.9 218.5)"/>
<line x1="173.5" y1="257.3" x2="173.5" y2="251.1" stroke="#2a2a2a" stroke-width="0.35" />
<line x1="173.5" y1="251.1" x2="173.5" y2="244.3" stroke="#2a2a2a" stroke-width="0.35" />
<line x1="173.5" y1="244.3" x2="170.6" y2="238.1" stroke="#2a2a2a" stroke-width="0.35" />
<line x1="173.5" y1="244.3" x2="177" y2="238.1" stroke="#2a2a2a" stroke-width="0.35" />
<line x1="173.5" y1="257.5" x2="180.6" y2="257.5" stroke="#2a2a2a" stroke-width="0.35" />
<path d="M169 235.55Q169 235.1 169.68 235.1L173.45 235.1Q173.9 235.1 173.9 234.83Q173.9 235.1 174.35 235.1L178.12 235.1Q178.8 235.1 178.8 235.55" fill="none" stroke="#666" stroke-width="0.28"/>
<line x1="173.5" y1="235.1" x2="173.5" y2="228.3" stroke="#666" stroke-width="0.27999999999999997" />
<rect x="172.25" y="256.05" width="2.5" height="2.5" fill="#2453a6" stroke="#222" stroke-width="0.25" transform="rotate(0 173.5 257.3)"/>
<rect x="172.25" y="249.85" width="2.5" height="2.5" fill="#2453a6" stroke="#222" stroke-width="0.25" transform="rotate(0 173.5 251.1)"/>
<circle cx="173.5" cy="244.3" r="1.25" fill="#3fae49" stroke="#222" stroke-width="0.25"/>
<circle cx="170.6" cy="238.1" r="1.25" fill="#3fae49" stroke="#222" stroke-width="0.25"/>
<circle cx="177" cy="238.1" r="1.25" fill="#3fae49" stroke="#222" stroke-width="0.25"/>
<path d="M179.35 257.3L181.85 256.05L181.85 258.55Z" fill="#e8262b" stroke="#222" stroke-width="0.17" transform="rotate(0 180.6 257.3)"/>
<rect x="172.25" y="227.05" width="2.5" height="2.5" fill="#2453a6" stroke="#222" stroke-width="0.25" transform="rotate(0 173.5 228.3)"/>
<line x1="291.5" y1="222.2" x2="291.5" y2="216" stroke="#2a2a2a" stroke-width="0.35" />
<line x1="291.5" y1="216" x2="291.5" y2="209.8" stroke="#2a2a2a" stroke-width="0.35" />
<line x1="291.5" y1="209.8" x2="286.7" y2="203.5" stroke="#2a2a2a" stroke-width="0.35" />
<line x1="291.5" y1="209.8" x2="296.3" y2="203.5" stroke="#2a2a2a" stroke-width="0.35" />
<line x1="291.5" y1="222.5" x2="297.7" y2="222.5" stroke="#2a2a2a" stroke-width="0.35" />
<line x1="286.5" y1="203.5" x2="286.5" y2="197.6" stroke="#2a2a2a" stroke-width="0.35" />
<line x1="286.5" y1="197.6" x2="286.5" y2="191.4" stroke="#2a2a2a" stroke-width="0.35" />
<line x1="296.3" y1="203.5" x2="292.7" y2="197.6" stroke="#2a2a2a" stroke-width="0.35" />
<line x1="292.5" y1="197.6" x2="292.5" y2="191.4" stroke="#2a2a2a" stroke-width="0.35" />
<line x1="296.3" y1="203.5" x2="298.8" y2="197.6" stroke="#2a2a2a" stroke-width="0.35" />
<line x1="298.5" y1="197.6" x2="298.5" y2="191.4" stroke="#2a2a2a" stroke-width="0.35" />
<path d="M284.9 188.85Q284.9 188.4 285.57 188.4L292.45 188.4Q292.9 188.4 292.9 188.13Q292.9 188.4 293.35 188.4L300.22 188.4Q300.9 188.4 300.9 188.85" fill="none" stroke="#666" stroke-width="0.28"/>
<line x1="292.6" y1="188.4" x2="292.6" y2="182.5" stroke="#666" stroke-width="0.27999999999999997" />
<rect x="290.25" y="220.95" width="2.5" height="2.5" fill="#2453a6" stroke="#222" stroke-width="0.25" transform="rotate(0 291.5 222.2)"/>
<rect x="290.25" y="214.75" width="2.5" height="2.5" fill="#2453a6" stroke="#222" stroke-width="0.25" transform="rotate(0 291.5 216)"/>
<circle cx="291.5" cy="209.8" r="1.25" fill="#3fae49" stroke="#222" stroke-width="0.25"/>
<circle cx="286.7" cy="203.5" r="1.25" fill="#3fae49" stroke="#222" stroke-width="0.25"/>
<circle cx="296.3" cy="203.5" r="1.25" fill="#3fae49" stroke="#222" stroke-width="0.25"/>
<path d="M296.45 222.2L298.95 220.95L298.95 223.45Z" fill="#e8262b" stroke="#222" stroke-width="0.17" transform="rotate(0 297.7 222.2)"/>
<rect x="285.45" y="196.35" width="2.5" height="2.5" fill="#2453a6" stroke="#222" stroke-width="0.25" transform="rotate(0 286.7 197.6)"/>
<circle cx="286.7" cy="191.4" r="1.25" fill="#f4e64a" stroke="#222" stroke-width="0.25"/>
<rect x="291.45" y="196.35" width="2.5" height="2.5" fill="#2453a6" stroke="#222" stroke-width="0.25" transform="rotate(0 292.7 197.6)"/>
<circle cx="292.7" cy="191.4" r="1.25" fill="#f4e64a" stroke="#222" stroke-width="0.25"/>
<rect x="297.55" y="196.35" width="2.5" height="2.5" fill="#2453a6" stroke="#222" stroke-width="0.25" transform="rotate(0 298.8 197.6)"/>
<circle cx="298.8" cy="191.4" r="1.25" fill="#f4e64a" stroke="#222" stroke-width="0.25"/>
<path d="M292.6 181.25L293.85 182.5L292.6 183.75L291.35 182.5Z" fill="#a3359a" stroke="#222" stroke-width="0.17" transform="rotate(0 292.6 182.5)"/>
<line x1="314.5" y1="273.1" x2="314.5" y2="266.8" stroke="#2a2a2a" stroke-width="0.35" />
<line x1="314.5" y1="266.8" x2="314.5" y2="260.6" stroke="#2a2a2a" stroke-width="0.35" />
<line x1="314.3" y1="260.6" x2="309.5" y2="254.3" stroke="#2a2a2a" stroke-width="0.35" />
<line x1="314.3" y1="260.6" x2="318.8" y2="254.3" stroke="#2a2a2a" stroke-width="0.35" />
<line x1="314.3" y1="273.5" x2="320.6" y2="273.5" stroke="#2a2a2a" stroke-width="0.35" />
<line x1="309.5" y1="254.3" x2="309.5" y2="248.1" stroke="#2a2a2a" stroke-width="0.35" />
<line x1="309.5" y1="248.1" x2="309.5" y2="242.2" stroke="#2a2a2a" stroke-width="0.35" />
<line x1="318.8" y1="254.3" x2="315.6" y2="248.1" stroke="#2a2a2a" stroke-width="0.35" />
<line x1="315.5" y1="248.1" x2="315.5" y2="242.2" stroke="#2a2a2a" stroke-width="0.35" />
<line x1="318.8" y1="254.3" x2="321.8" y2="248.1" stroke="#2a2a2a" stroke-width="0.35" />
<line x1="321.5" y1="248.1" x2="321.5" y2="242.2" stroke="#2a2a2a" stroke-width="0.35" />
<path d="M308 239.65Q308 239.2 308.68 239.2L315.35 239.2Q315.8 239.2 315.8 238.93Q315.8 239.2 316.25 239.2L322.93 239.2Q323.6 239.2 323.6 239.65" fill="none" stroke="#666" stroke-width="0.28"/>
<line x1="315.6" y1="239.2" x2="315.6" y2="233.3" stroke="#666" stroke-width="0.27999999999999997" />
<rect x="313.05" y="271.85" width="2.5" height="2.5" fill="#2453a6" stroke="#222" stroke-width="0.25" transform="rotate(0 314.3 273.1)"/>
<rect x="313.05" y="265.55" width="2.5" height="2.5" fill="#2453a6" stroke="#222" stroke-width="0.25" transform="rotate(0 314.3 266.8)"/>
<circle cx="314.3" cy="260.6" r="1.25" fill="#3fae49" stroke="#222" stroke-width="0.25"/>
<circle cx="309.5" cy="254.3" r="1.25" fill="#3fae49" stroke="#222" stroke-width="0.25"/>
<circle cx="318.8" cy="254.3" r="1.25" fill="#3fae49" stroke="#222" stroke-width="0.25"/>
<path d="M319.35 273.1L321.85 271.85L321.85 274.35Z" fill="#e8262b" stroke="#222" stroke-width="0.17" transform="rotate(0 320.6 273.1)"/>
<rect x="308.25" y="246.85" width="2.5" height="2.5" fill="#2453a6" stroke="#222" stroke-width="0.25" transform="rotate(0 309.5 248.1)"/>
<circle cx="309.5" cy="242.2" r="1.25" fill="#f4e64a" stroke="#222" stroke-width="0.25"/>
<rect x="314.35" y="246.85" width="2.5" height="2.5" fill="#2453a6" stroke="#222" stroke-width="0.25" transform="rotate(0 315.6 248.1)"/>
<circle cx="315.6" cy="242.2" r="1.25" fill="#f4e64a" stroke="#222" stroke-width="0.25"/>
<rect x="320.55" y="246.85" width="2.5" height="2.5" fill="#2453a6" stroke="#222" stroke-width="0.25" transform="rotate(0 321.8 248.1)"/>
<circle cx="321.8" cy="242.2" r="1.25" fill="#f4e64a" stroke="#222" stroke-width="0.25"/>
<path d="M315.6 232.05L316.85 233.3L315.6 234.55L314.35 233.3Z" fill="#a3359a" stroke="#222" stroke-width="0.17" transform="rotate(0 315.6 233.3)"/>
<line x1="368.5" y1="188.6" x2="368.5" y2="173.5" stroke="#2a2a2a" stroke-width="0.8710000000000001" />
<line x1="368.5" y1="173.5" x2="368.5" y2="158.5" stroke="#2a2a2a" stroke-width="0.8710000000000001" />
<line x1="368.5" y1="158.5" x2="368.5" y2="144.1" stroke="#2a2a2a" stroke-width="0.8710000000000001" />
<line x1="368.2" y1="188.5" x2="383.9" y2="188.5" stroke="#2a2a2a" stroke-width="0.8710000000000001" />
<rect x="364.85" y="185.25" width="6.7" height="6.7" fill="#2453a6" stroke="#222" stroke-width="0.6" transform="rotate(0 368.2 188.6)"/>
<rect x="364.85" y="170.15" width="6.7" height="6.7" fill="#2453a6" stroke="#222" stroke-width="0.6" transform="rotate(0 368.2 173.5)"/>
<circle cx="368.2" cy="158.5" r="3.35" fill="#3fae49" stroke="#222" stroke-width="0.6"/>
<circle cx="368.2" cy="144.1" r="3.35" fill="#3fae49" stroke="#222" stroke-width="0.6"/>
<path d="M380.55 188.6L387.25 185.25L387.25 191.95Z" fill="#e8262b" stroke="#222" stroke-width="0.42" transform="rotate(0 383.9 188.6)"/>
<line x1="418.5" y1="189.8" x2="418.5" y2="180.2" stroke="#2a2a2a" stroke-width="0.546" />
<line x1="418.5" y1="180.2" x2="418.5" y2="171.1" stroke="#2a2a2a" stroke-width="0.546" />
<line x1="418.8" y1="171.1" x2="409.9" y2="162.1" stroke="#2a2a2a" stroke-width="0.546" />
<line x1="418.8" y1="171.1" x2="428.5" y2="162.1" stroke="#2a2a2a" stroke-width="0.546" />
<line x1="418.8" y1="189.5" x2="428.5" y2="189.5" stroke="#2a2a2a" stroke-width="0.546" />
<line x1="409.9" y1="162.1" x2="405.1" y2="152.5" stroke="#2a2a2a" stroke-width="0.546" />
<line x1="405.5" y1="152.5" x2="405.5" y2="143.4" stroke="#2a2a2a" stroke-width="0.546" />
<line x1="409.9" y1="162.1" x2="414.2" y2="152.5" stroke="#2a2a2a" stroke-width="0.546" />
<line x1="414.5" y1="152.5" x2="414.5" y2="143.4" stroke="#2a2a2a" stroke-width="0.546" />
<line x1="428.5" y1="162.1" x2="423.6" y2="152.5" stroke="#2a2a2a" stroke-width="0.546" />
<line x1="423.5" y1="152.5" x2="423.5" y2="143.4" stroke="#2a2a2a" stroke-width="0.546" />
<line x1="428.5" y1="162.1" x2="432.8" y2="152.5" stroke="#2a2a2a" stroke-width="0.546" />
<line x1="432.5" y1="152.5" x2="432.5" y2="143.4" stroke="#2a2a2a" stroke-width="0.546" />
<path d="M403.2 140.06Q403.2 139.3 404.33 139.3L418.09 139.3Q418.85 139.3 418.85 138.85Q418.85 139.3 419.61 139.3L433.37 139.3Q434.5 139.3 434.5 140.06" fill="none" stroke="#666" stroke-width="0.44"/>
<line x1="418.8" y1="139.3" x2="418.8" y2="130.1" stroke="#666" stroke-width="0.4368000000000001" />
<rect x="416.7" y="187.7" width="4.2" height="4.2" fill="#2453a6" stroke="#222" stroke-width="0.38" transform="rotate(0 418.8 189.8)"/>
<rect x="416.7" y="178.1" width="4.2" height="4.2" fill="#2453a6" stroke="#222" stroke-width="0.38" transform="rotate(0 418.8 180.2)"/>
<circle cx="418.8" cy="171.1" r="2.1" fill="#3fae49" stroke="#222" stroke-width="0.38"/>
<circle cx="409.9" cy="162.1" r="2.1" fill="#3fae49" stroke="#222" stroke-width="0.38"/>
<circle cx="428.5" cy="162.1" r="2.1" fill="#3fae49" stroke="#222" stroke-width="0.38"/>
<path d="M426.4 189.8L430.6 187.7L430.6 191.9Z" fill="#e8262b" stroke="#222" stroke-width="0.26" transform="rotate(0 428.5 189.8)"/>
<rect x="403" y="150.4" width="4.2" height="4.2" fill="#2453a6" stroke="#222" stroke-width="0.38" transform="rotate(0 405.1 152.5)"/>
<circle cx="405.1" cy="143.4" r="2.1" fill="#f4e64a" stroke="#222" stroke-width="0.38"/>
<rect x="412.1" y="150.4" width="4.2" height="4.2" fill="#2453a6" stroke="#222" stroke-width="0.38" transform="rotate(0 414.2 152.5)"/>
<circle cx="414.2" cy="143.4" r="2.1" fill="#f4e64a" stroke="#222" stroke-width="0.38"/>
<rect x="421.5" y="150.4" width="4.2" height="4.2" fill="#2453a6" stroke="#222" stroke-width="0.38" transform="rotate(0 423.6 152.5)"/>
<circle cx="423.6" cy="143.4" r="2.1" fill="#f4e64a" stroke="#222" stroke-width="0.38"/>
<rect x="430.7" y="150.4" width="4.2" height="4.2" fill="#2453a6" stroke="#222" stroke-width="0.38" transform="rotate(0 432.8 152.5)"/>
<circle cx="432.8" cy="143.4" r="2.1" fill="#f4e64a" stroke="#222" stroke-width="0.38"/>
<path d="M418.8 128L420.9 130.1L418.8 132.2L416.7 130.1Z" fill="#a3359a" stroke="#222" stroke-width="0.26" transform="rotate(0 418.8 130.1)"/>
<line x1="461.5" y1="189.1" x2="461.5" y2="175.9" stroke="#2a2a2a" stroke-width="0.754" />
<line x1="461.5" y1="175.9" x2="461.5" y2="162.9" stroke="#2a2a2a" stroke-width="0.754" />
<line x1="461" y1="162.9" x2="454.2" y2="149.6" stroke="#2a2a2a" stroke-width="0.754" />
<line x1="461" y1="162.9" x2="467.2" y2="149.6" stroke="#2a2a2a" stroke-width="0.754" />
<line x1="461" y1="189.5" x2="474.2" y2="189.5" stroke="#2a2a2a" stroke-width="0.754" />
<path d="M451.3 145.1Q451.3 144.1 452.8 144.1L459.95 144.1Q460.95 144.1 460.95 143.5Q460.95 144.1 461.95 144.1L469.1 144.1Q470.6 144.1 470.6 145.1" fill="none" stroke="#666" stroke-width="0.6"/>
<line x1="461" y1="144.1" x2="461" y2="130.8" stroke="#666" stroke-width="0.6032000000000001" />
<rect x="458.1" y="186.2" width="5.8" height="5.8" fill="#2453a6" stroke="#222" stroke-width="0.52" transform="rotate(0 461 189.1)"/>
<rect x="458.1" y="173" width="5.8" height="5.8" fill="#2453a6" stroke="#222" stroke-width="0.52" transform="rotate(0 461 175.9)"/>
<circle cx="461" cy="162.9" r="2.9" fill="#3fae49" stroke="#222" stroke-width="0.52"/>
<circle cx="454.2" cy="149.6" r="2.9" fill="#3fae49" stroke="#222" stroke-width="0.52"/>
<circle cx="467.2" cy="149.6" r="2.9" fill="#3fae49" stroke="#222" stroke-width="0.52"/>
<path d="M471.3 189.1L477.1 186.2L477.1 192Z" fill="#e8262b" stroke="#222" stroke-width="0.37" transform="rotate(0 474.2 189.1)"/>
<rect x="458.1" y="127.9" width="5.8" height="5.8" fill="#2453a6" stroke="#222" stroke-width="0.52" transform="rotate(0 461 130.8)"/>
<line x1="504.5" y1="188.6" x2="504.5" y2="173.5" stroke="#2a2a2a" stroke-width="0.8710000000000001" />
<line x1="504.5" y1="173.5" x2="504.5" y2="158.5" stroke="#2a2a2a" stroke-width="0.8710000000000001" />
<line x1="504.3" y1="158.5" x2="496.6" y2="144.1" stroke="#2a2a2a" stroke-width="0.8710000000000001" />
<line x1="504.3" y1="158.5" x2="511.5" y2="144.1" stroke="#2a2a2a" stroke-width="0.8710000000000001" />
<line x1="504.3" y1="188.5" x2="519.5" y2="188.5" stroke="#2a2a2a" stroke-width="0.8710000000000001" />
<rect x="500.95" y="185.25" width="6.7" height="6.7" fill="#2453a6" stroke="#222" stroke-width="0.6" transform="rotate(0 504.3 188.6)"/>
<rect x="500.95" y="170.15" width="6.7" height="6.7" fill="#2453a6" stroke="#222" stroke-width="0.6" transform="rotate(0 504.3 173.5)"/>
<circle cx="504.3" cy="158.5" r="3.35" fill="#3fae49" stroke="#222" stroke-width="0.6"/>
<circle cx="496.6" cy="144.1" r="3.35" fill="#3fae49" stroke="#222" stroke-width="0.6"/>
<circle cx="511.5" cy="144.1" r="3.35" fill="#3fae49" stroke="#222" stroke-width="0.6"/>
<path d="M516.15 188.6L522.85 185.25L522.85 191.95Z" fill="#e8262b" stroke="#222" stroke-width="0.42" transform="rotate(0 519.5 188.6)"/>
<line x1="542.5" y1="188.3" x2="542.5" y2="173.4" stroke="#2a2a2a" stroke-width="0.8970000000000001" />
<line x1="542.5" y1="173.4" x2="542.5" y2="159" stroke="#2a2a2a" stroke-width="0.8970000000000001" />
<line x1="542.5" y1="159" x2="542.5" y2="144.1" stroke="#2a2a2a" stroke-width="0.8970000000000001" />
<rect x="538.85" y="184.85" width="6.9" height="6.9" fill="#2453a6" stroke="#222" stroke-width="0.62" transform="rotate(0 542.3 188.3)"/>
<rect x="538.85" y="169.95" width="6.9" height="6.9" fill="#2453a6" stroke="#222" stroke-width="0.62" transform="rotate(0 542.3 173.4)"/>
<circle cx="542.3" cy="159" r="3.45" fill="#3fae49" stroke="#222" stroke-width="0.62"/>
<circle cx="542.3" cy="144.1" r="3.45" fill="#3fae49" stroke="#222" stroke-width="0.62"/>
<line x1="582.5" y1="189.5" x2="582.5" y2="177.6" stroke="#2a2a2a" stroke-width="0.65" />
<line x1="582.5" y1="177.6" x2="582.5" y2="165.9" stroke="#2a2a2a" stroke-width="0.65" />
<line x1="582" y1="165.9" x2="570.1" y2="154" stroke="#2a2a2a" stroke-width="0.65" />
<line x1="582" y1="165.9" x2="593.9" y2="154" stroke="#2a2a2a" stroke-width="0.65" />
<line x1="582" y1="189.5" x2="593.9" y2="189.5" stroke="#2a2a2a" stroke-width="0.65" />
<line x1="570.1" y1="154" x2="564.6" y2="142.3" stroke="#2a2a2a" stroke-width="0.65" />
<line x1="564.5" y1="142.3" x2="564.5" y2="130.7" stroke="#2a2a2a" stroke-width="0.65" />
<line x1="570.1" y1="154" x2="576.1" y2="142.3" stroke="#2a2a2a" stroke-width="0.65" />
<line x1="576.5" y1="142.3" x2="576.5" y2="130.7" stroke="#2a2a2a" stroke-width="0.65" />
<line x1="593.9" y1="154" x2="587.7" y2="142.3" stroke="#2a2a2a" stroke-width="0.65" />
<line x1="587.5" y1="142.3" x2="587.5" y2="130.7" stroke="#2a2a2a" stroke-width="0.65" />
<line x1="593.9" y1="154" x2="599.9" y2="142.3" stroke="#2a2a2a" stroke-width="0.65" />
<line x1="599.5" y1="142.3" x2="599.5" y2="130.7" stroke="#2a2a2a" stroke-width="0.65" />
<rect x="579.5" y="187" width="5" height="5" fill="#2453a6" stroke="#222" stroke-width="0.45" transform="rotate(0 582 189.5)"/>
<rect x="579.5" y="175.1" width="5" height="5" fill="#2453a6" stroke="#222" stroke-width="0.45" transform="rotate(0 582 177.6)"/>
<circle cx="582" cy="165.9" r="2.5" fill="#3fae49" stroke="#222" stroke-width="0.45"/>
<circle cx="570.1" cy="154" r="2.5" fill="#3fae49" stroke="#222" stroke-width="0.45"/>
<circle cx="593.9" cy="154" r="2.5" fill="#3fae49" stroke="#222" stroke-width="0.45"/>
<path d="M591.4 189.5L596.4 187L596.4 192Z" fill="#e8262b" stroke="#222" stroke-width="0.31" transform="rotate(0 593.9 189.5)"/>
<rect x="562.1" y="139.8" width="5" height="5" fill="#2453a6" stroke="#222" stroke-width="0.45" transform="rotate(0 564.6 142.3)"/>
<circle cx="564.6" cy="130.7" r="2.5" fill="#f4e64a" stroke="#222" stroke-width="0.45"/>
<rect x="573.6" y="139.8" width="5" height="5" fill="#2453a6" stroke="#222" stroke-width="0.45" transform="rotate(0 576.1 142.3)"/>
<circle cx="576.1" cy="130.7" r="2.5" fill="#f4e64a" stroke="#222" stroke-width="0.45"/>
<rect x="585.2" y="139.8" width="5" height="5" fill="#2453a6" stroke="#222" stroke-width="0.45" transform="rotate(0 587.7 142.3)"/>
<circle cx="587.7" cy="130.7" r="2.5" fill="#f4e64a" stroke="#222" stroke-width="0.45"/>
<rect x="597.4" y="139.8" width="5" height="5" fill="#2453a6" stroke="#222" stroke-width="0.45" transform="rotate(0 599.9 142.3)"/>
<circle cx="599.9" cy="130.7" r="2.5" fill="#f4e64a" stroke="#222" stroke-width="0.45"/>
<line x1="625.5" y1="190" x2="625.5" y2="180.3" stroke="#2a2a2a" stroke-width="0.48100000000000004" />
<line x1="625.5" y1="180.3" x2="625.5" y2="171.4" stroke="#2a2a2a" stroke-width="0.48100000000000004" />
<line x1="625.4" y1="171.4" x2="621" y2="162.2" stroke="#2a2a2a" stroke-width="0.48100000000000004" />
<line x1="625.4" y1="171.4" x2="629.9" y2="162.2" stroke="#2a2a2a" stroke-width="0.48100000000000004" />
<line x1="625.4" y1="190.5" x2="634.9" y2="190.5" stroke="#2a2a2a" stroke-width="0.48100000000000004" />
<line x1="625.5" y1="148.5" x2="625.5" y2="139.1" stroke="#2a2a2a" stroke-width="0.48100000000000004" />
<line x1="625.5" y1="139.1" x2="625.5" y2="129.9" stroke="#2a2a2a" stroke-width="0.48100000000000004" />
<path d="M618 158.37Q618 157.7 619 157.7L624.78 157.7Q625.45 157.7 625.45 157.3Q625.45 157.7 626.12 157.7L631.9 157.7Q632.9 157.7 632.9 158.37" fill="none" stroke="#666" stroke-width="0.38"/>
<line x1="625.4" y1="157.7" x2="625.4" y2="148.5" stroke="#666" stroke-width="0.38480000000000003" />
<rect x="623.55" y="188.15" width="3.7" height="3.7" fill="#2453a6" stroke="#222" stroke-width="0.33" transform="rotate(0 625.4 190)"/>
<rect x="623.55" y="178.45" width="3.7" height="3.7" fill="#2453a6" stroke="#222" stroke-width="0.33" transform="rotate(0 625.4 180.3)"/>
<circle cx="625.4" cy="171.4" r="1.85" fill="#3fae49" stroke="#222" stroke-width="0.33"/>
<circle cx="621" cy="162.2" r="1.85" fill="#3fae49" stroke="#222" stroke-width="0.33"/>
<circle cx="629.9" cy="162.2" r="1.85" fill="#3fae49" stroke="#222" stroke-width="0.33"/>
<path d="M633.05 190L636.75 188.15L636.75 191.85Z" fill="#e8262b" stroke="#222" stroke-width="0.23" transform="rotate(0 634.9 190)"/>
<rect x="623.55" y="146.65" width="3.7" height="3.7" fill="#2453a6" stroke="#222" stroke-width="0.33" transform="rotate(0 625.4 148.5)"/>
<circle cx="625.4" cy="139.1" r="1.85" fill="#f4e64a" stroke="#222" stroke-width="0.33"/>
<path d="M625.4 128.05L627.25 129.9L625.4 131.75L623.55 129.9Z" fill="#a3359a" stroke="#222" stroke-width="0.23" transform="rotate(0 625.4 129.9)"/>
<line x1="663.5" y1="188.3" x2="663.5" y2="174.1" stroke="#2a2a2a" stroke-width="0.845" />
<line x1="663.5" y1="174.1" x2="663.5" y2="159.7" stroke="#2a2a2a" stroke-width="0.845" />
<line x1="663.4" y1="159.7" x2="656.5" y2="145.3" stroke="#2a2a2a" stroke-width="0.845" />
<line x1="663.4" y1="159.7" x2="670.9" y2="145.3" stroke="#2a2a2a" stroke-width="0.845" />
<line x1="663.4" y1="188.5" x2="678.3" y2="188.5" stroke="#2a2a2a" stroke-width="0.845" />
<line x1="656.5" y1="145.3" x2="656.5" y2="131.2" stroke="#2a2a2a" stroke-width="0.845" />
<line x1="670.5" y1="145.3" x2="670.5" y2="131.2" stroke="#2a2a2a" stroke-width="0.845" />
<rect x="660.15" y="185.05" width="6.5" height="6.5" fill="#2453a6" stroke="#222" stroke-width="0.58" transform="rotate(0 663.4 188.3)"/>
<rect x="660.15" y="170.85" width="6.5" height="6.5" fill="#2453a6" stroke="#222" stroke-width="0.58" transform="rotate(0 663.4 174.1)"/>
<circle cx="663.4" cy="159.7" r="3.25" fill="#3fae49" stroke="#222" stroke-width="0.58"/>
<circle cx="656.5" cy="145.3" r="3.25" fill="#3fae49" stroke="#222" stroke-width="0.58"/>
<circle cx="670.9" cy="145.3" r="3.25" fill="#3fae49" stroke="#222" stroke-width="0.58"/>
<path d="M675.05 188.3L681.55 185.05L681.55 191.55Z" fill="#e8262b" stroke="#222" stroke-width="0.41" transform="rotate(0 678.3 188.3)"/>
<rect x="653.25" y="127.95" width="6.5" height="6.5" fill="#2453a6" stroke="#222" stroke-width="0.58" transform="rotate(0 656.5 131.2)"/>
<rect x="667.65" y="127.95" width="6.5" height="6.5" fill="#2453a6" stroke="#222" stroke-width="0.58" transform="rotate(0 670.9 131.2)"/>
<line x1="374.5" y1="286.7" x2="374.5" y2="274.9" stroke="#2a2a2a" stroke-width="0.5589999999999999" />
<line x1="374.5" y1="274.9" x2="374.5" y2="263.4" stroke="#2a2a2a" stroke-width="0.5589999999999999" />
<line x1="374.3" y1="263.4" x2="365.8" y2="251.3" stroke="#2a2a2a" stroke-width="0.5589999999999999" />
<line x1="374.3" y1="263.4" x2="383.2" y2="251.3" stroke="#2a2a2a" stroke-width="0.5589999999999999" />
<line x1="365.5" y1="251.3" x2="365.5" y2="239.7" stroke="#2a2a2a" stroke-width="0.5589999999999999" />
<line x1="383.2" y1="251.3" x2="377.4" y2="239.7" stroke="#2a2a2a" stroke-width="0.5589999999999999" />
<line x1="383.2" y1="251.3" x2="389.2" y2="239.7" stroke="#2a2a2a" stroke-width="0.5589999999999999" />
<line x1="365.5" y1="239.7" x2="365.5" y2="228" stroke="#2a2a2a" stroke-width="0.5589999999999999" />
<line x1="377.5" y1="239.7" x2="377.5" y2="228" stroke="#2a2a2a" stroke-width="0.5589999999999999" />
<line x1="389.5" y1="239.7" x2="389.5" y2="228" stroke="#2a2a2a" stroke-width="0.5589999999999999" />
<rect x="372.15" y="284.55" width="4.3" height="4.3" fill="#2453a6" stroke="#222" stroke-width="0.39" transform="rotate(0 374.3 286.7)"/>
<rect x="372.15" y="272.75" width="4.3" height="4.3" fill="#2453a6" stroke="#222" stroke-width="0.39" transform="rotate(0 374.3 274.9)"/>
<circle cx="374.3" cy="263.4" r="2.15" fill="#3fae49" stroke="#222" stroke-width="0.39"/>
<circle cx="365.8" cy="251.3" r="2.15" fill="#3fae49" stroke="#222" stroke-width="0.39"/>
<circle cx="383.2" cy="251.3" r="2.15" fill="#3fae49" stroke="#222" stroke-width="0.39"/>
<circle cx="365.8" cy="239.7" r="2.15" fill="#3fae49" stroke="#222" stroke-width="0.39"/>
<circle cx="377.4" cy="239.7" r="2.15" fill="#3fae49" stroke="#222" stroke-width="0.39"/>
<circle cx="389.2" cy="239.7" r="2.15" fill="#3fae49" stroke="#222" stroke-width="0.39"/>
<circle cx="365.8" cy="228" r="2.15" fill="#3fae49" stroke="#222" stroke-width="0.39"/>
<circle cx="377.4" cy="228" r="2.15" fill="#3fae49" stroke="#222" stroke-width="0.39"/>
<circle cx="389.2" cy="228" r="2.15" fill="#3fae49" stroke="#222" stroke-width="0.39"/>
<line x1="413.5" y1="286.2" x2="413.5" y2="271.1" stroke="#2a2a2a" stroke-width="0.819" />
<line x1="413.5" y1="271.1" x2="413.5" y2="256.6" stroke="#2a2a2a" stroke-width="0.819" />
<line x1="413.5" y1="256.6" x2="413.5" y2="241.7" stroke="#2a2a2a" stroke-width="0.819" />
<line x1="413.5" y1="286.5" x2="428.5" y2="286.5" stroke="#2a2a2a" stroke-width="0.819" />
<rect x="410.35" y="283.05" width="6.3" height="6.3" fill="#2453a6" stroke="#222" stroke-width="0.57" transform="rotate(0 413.5 286.2)"/>
<rect x="410.35" y="267.95" width="6.3" height="6.3" fill="#2453a6" stroke="#222" stroke-width="0.57" transform="rotate(0 413.5 271.1)"/>
<circle cx="413.5" cy="256.6" r="3.15" fill="#3fae49" stroke="#222" stroke-width="0.57"/>
<circle cx="413.5" cy="241.7" r="3.15" fill="#3fae49" stroke="#222" stroke-width="0.57"/>
<path d="M425.35 286.2L431.65 283.05L431.65 289.35Z" fill="#e8262b" stroke="#222" stroke-width="0.4" transform="rotate(0 428.5 286.2)"/>
<line x1="462.5" y1="286.2" x2="462.5" y2="271.1" stroke="#2a2a2a" stroke-width="0.819" />
<line x1="462.5" y1="271.1" x2="462.5" y2="256.6" stroke="#2a2a2a" stroke-width="0.819" />
<line x1="462.5" y1="256.6" x2="462.5" y2="241.7" stroke="#2a2a2a" stroke-width="0.819" />
<rect x="459.55" y="283.05" width="6.3" height="6.3" fill="#2453a6" stroke="#222" stroke-width="0.57" transform="rotate(0 462.7 286.2)"/>
<rect x="459.55" y="267.95" width="6.3" height="6.3" fill="#2453a6" stroke="#222" stroke-width="0.57" transform="rotate(0 462.7 271.1)"/>
<circle cx="462.7" cy="256.6" r="3.15" fill="#3fae49" stroke="#222" stroke-width="0.57"/>
<circle cx="462.7" cy="241.7" r="3.15" fill="#3fae49" stroke="#222" stroke-width="0.57"/>
<line x1="502.5" y1="287" x2="502.5" y2="276.1" stroke="#2a2a2a" stroke-width="0.5589999999999999" />
<line x1="502.5" y1="276.1" x2="502.5" y2="265" stroke="#2a2a2a" stroke-width="0.5589999999999999" />
<line x1="502.4" y1="265" x2="494.2" y2="254.4" stroke="#2a2a2a" stroke-width="0.5589999999999999" />
<line x1="502.4" y1="265" x2="510.3" y2="254.4" stroke="#2a2a2a" stroke-width="0.5589999999999999" />
<line x1="494.5" y1="254.4" x2="494.5" y2="243.4" stroke="#2a2a2a" stroke-width="0.5589999999999999" />
<line x1="510.3" y1="254.4" x2="505" y2="243.4" stroke="#2a2a2a" stroke-width="0.5589999999999999" />
<line x1="510.3" y1="254.4" x2="515.9" y2="243.4" stroke="#2a2a2a" stroke-width="0.5589999999999999" />
<path d="M491.1 238.87Q491.1 238.1 492.26 238.1L504.18 238.1Q504.95 238.1 504.95 237.64Q504.95 238.1 505.72 238.1L517.64 238.1Q518.8 238.1 518.8 238.87" fill="none" stroke="#666" stroke-width="0.45"/>
<line x1="499.5" y1="238.1" x2="499.5" y2="228" stroke="#666" stroke-width="0.4472" />
<line x1="510.3" y1="238.1" x2="510.3" y2="228" stroke="#666" stroke-width="0.4472" />
<rect x="500.25" y="284.85" width="4.3" height="4.3" fill="#2453a6" stroke="#222" stroke-width="0.39" transform="rotate(0 502.4 287)"/>
<rect x="500.25" y="273.95" width="4.3" height="4.3" fill="#2453a6" stroke="#222" stroke-width="0.39" transform="rotate(0 502.4 276.1)"/>
<circle cx="502.4" cy="265" r="2.15" fill="#3fae49" stroke="#222" stroke-width="0.39"/>
<circle cx="494.2" cy="254.4" r="2.15" fill="#3fae49" stroke="#222" stroke-width="0.39"/>
<circle cx="510.3" cy="254.4" r="2.15" fill="#3fae49" stroke="#222" stroke-width="0.39"/>
<circle cx="494.2" cy="243.4" r="2.15" fill="#3fae49" stroke="#222" stroke-width="0.39"/>
<circle cx="505" cy="243.4" r="2.15" fill="#3fae49" stroke="#222" stroke-width="0.39"/>
<circle cx="515.9" cy="243.4" r="2.15" fill="#3fae49" stroke="#222" stroke-width="0.39"/>
<circle cx="499.5" cy="228" r="2.15" fill="#3fae49" stroke="#222" stroke-width="0.39"/>
<circle cx="510.3" cy="228" r="2.15" fill="#3fae49" stroke="#222" stroke-width="0.39"/>
<line x1="541.5" y1="287" x2="541.5" y2="277.8" stroke="#2a2a2a" stroke-width="0.52" />
<line x1="541.5" y1="277.8" x2="541.5" y2="268.9" stroke="#2a2a2a" stroke-width="0.52" />
<line x1="541.6" y1="268.9" x2="534.4" y2="259.2" stroke="#2a2a2a" stroke-width="0.52" />
<line x1="541.6" y1="268.9" x2="548.5" y2="259.2" stroke="#2a2a2a" stroke-width="0.52" />
<line x1="541.6" y1="287.5" x2="551.7" y2="287.5" stroke="#2a2a2a" stroke-width="0.52" />
<line x1="534.5" y1="259.2" x2="534.5" y2="250.3" stroke="#2a2a2a" stroke-width="0.52" />
<line x1="534.5" y1="250.3" x2="534.5" y2="241.1" stroke="#2a2a2a" stroke-width="0.52" />
<line x1="548.5" y1="259.2" x2="543.5" y2="250.3" stroke="#2a2a2a" stroke-width="0.52" />
<line x1="543.5" y1="250.3" x2="543.5" y2="241.1" stroke="#2a2a2a" stroke-width="0.52" />
<line x1="548.5" y1="259.2" x2="553" y2="250.3" stroke="#2a2a2a" stroke-width="0.52" />
<line x1="553.5" y1="250.3" x2="553.5" y2="241.1" stroke="#2a2a2a" stroke-width="0.52" />
<path d="M531.9 237.62Q531.9 236.9 532.98 236.9L543.23 236.9Q543.95 236.9 543.95 236.47Q543.95 236.9 544.67 236.9L554.92 236.9Q556 236.9 556 237.62" fill="none" stroke="#666" stroke-width="0.42"/>
<line x1="543.5" y1="236.9" x2="543.5" y2="227.4" stroke="#666" stroke-width="0.41600000000000004" />
<rect x="539.6" y="285" width="4" height="4" fill="#2453a6" stroke="#222" stroke-width="0.36" transform="rotate(0 541.6 287)"/>
<rect x="539.6" y="275.8" width="4" height="4" fill="#2453a6" stroke="#222" stroke-width="0.36" transform="rotate(0 541.6 277.8)"/>
<circle cx="541.6" cy="268.9" r="2" fill="#3fae49" stroke="#222" stroke-width="0.36"/>
<circle cx="534.4" cy="259.2" r="2" fill="#3fae49" stroke="#222" stroke-width="0.36"/>
<circle cx="548.5" cy="259.2" r="2" fill="#3fae49" stroke="#222" stroke-width="0.36"/>
<path d="M549.7 287L553.7 285L553.7 289Z" fill="#e8262b" stroke="#222" stroke-width="0.25" transform="rotate(0 551.7 287)"/>
<rect x="532.4" y="248.3" width="4" height="4" fill="#2453a6" stroke="#222" stroke-width="0.36" transform="rotate(0 534.4 250.3)"/>
<circle cx="534.4" cy="241.1" r="2" fill="#f4e64a" stroke="#222" stroke-width="0.36"/>
<rect x="541.5" y="248.3" width="4" height="4" fill="#2453a6" stroke="#222" stroke-width="0.36" transform="rotate(0 543.5 250.3)"/>
<circle cx="543.5" cy="241.1" r="2" fill="#f4e64a" stroke="#222" stroke-width="0.36"/>
<rect x="551" y="248.3" width="4" height="4" fill="#2453a6" stroke="#222" stroke-width="0.36" transform="rotate(0 553 250.3)"/>
<circle cx="553" cy="241.1" r="2" fill="#f4e64a" stroke="#222" stroke-width="0.36"/>
<path d="M543.5 225.4L545.5 227.4L543.5 229.4L541.5 227.4Z" fill="#a3359a" stroke="#222" stroke-width="0.25" transform="rotate(0 543.5 227.4)"/>
<line x1="579.5" y1="286.5" x2="579.5" y2="271.6" stroke="#2a2a2a" stroke-width="0.78" />
<line x1="579.5" y1="271.6" x2="579.5" y2="257.7" stroke="#2a2a2a" stroke-width="0.78" />
<line x1="579.5" y1="257.7" x2="572.6" y2="243.1" stroke="#2a2a2a" stroke-width="0.78" />
<line x1="579.5" y1="257.7" x2="586.5" y2="243.1" stroke="#2a2a2a" stroke-width="0.78" />
<line x1="586.5" y1="243.1" x2="579.5" y2="228.7" stroke="#2a2a2a" stroke-width="0.78" />
<line x1="586.5" y1="243.1" x2="593.9" y2="228.7" stroke="#2a2a2a" stroke-width="0.78" />
<rect x="576.5" y="283.5" width="6" height="6" fill="#2453a6" stroke="#222" stroke-width="0.54" transform="rotate(0 579.5 286.5)"/>
<rect x="576.5" y="268.6" width="6" height="6" fill="#2453a6" stroke="#222" stroke-width="0.54" transform="rotate(0 579.5 271.6)"/>
<circle cx="579.5" cy="257.7" r="3" fill="#3fae49" stroke="#222" stroke-width="0.54"/>
<circle cx="572.6" cy="243.1" r="3" fill="#3fae49" stroke="#222" stroke-width="0.54"/>
<circle cx="586.5" cy="243.1" r="3" fill="#3fae49" stroke="#222" stroke-width="0.54"/>
<circle cx="579.5" cy="228.7" r="3" fill="#3fae49" stroke="#222" stroke-width="0.54"/>
<circle cx="593.9" cy="228.7" r="3" fill="#3fae49" stroke="#222" stroke-width="0.54"/>
<line x1="628.5" y1="286.3" x2="628.5" y2="271.4" stroke="#2a2a2a" stroke-width="0.845" />
<line x1="628.5" y1="271.4" x2="628.5" y2="256.5" stroke="#2a2a2a" stroke-width="0.845" />
<line x1="628.4" y1="256.5" x2="617.3" y2="241.6" stroke="#2a2a2a" stroke-width="0.845" />
<line x1="628.4" y1="256.5" x2="639.8" y2="241.6" stroke="#2a2a2a" stroke-width="0.845" />
<rect x="625.15" y="283.05" width="6.5" height="6.5" fill="#2453a6" stroke="#222" stroke-width="0.58" transform="rotate(0 628.4 286.3)"/>
<rect x="625.15" y="268.15" width="6.5" height="6.5" fill="#2453a6" stroke="#222" stroke-width="0.58" transform="rotate(0 628.4 271.4)"/>
<circle cx="628.4" cy="256.5" r="3.25" fill="#3fae49" stroke="#222" stroke-width="0.58"/>
<circle cx="617.3" cy="241.6" r="3.25" fill="#3fae49" stroke="#222" stroke-width="0.58"/>
<circle cx="639.8" cy="241.6" r="3.25" fill="#3fae49" stroke="#222" stroke-width="0.58"/>
<line x1="665.5" y1="287" x2="665.5" y2="276.3" stroke="#2a2a2a" stroke-width="0.5589999999999999" />
<line x1="665.5" y1="276.3" x2="665.5" y2="265.4" stroke="#2a2a2a" stroke-width="0.5589999999999999" />
<line x1="665.9" y1="265.4" x2="657.7" y2="254.3" stroke="#2a2a2a" stroke-width="0.5589999999999999" />
<line x1="665.9" y1="265.4" x2="674.3" y2="254.3" stroke="#2a2a2a" stroke-width="0.5589999999999999" />
<line x1="657.5" y1="254.3" x2="657.5" y2="243.6" stroke="#2a2a2a" stroke-width="0.5589999999999999" />
<line x1="674.3" y1="254.3" x2="668.9" y2="243.6" stroke="#2a2a2a" stroke-width="0.5589999999999999" />
<line x1="674.3" y1="254.3" x2="679.6" y2="243.6" stroke="#2a2a2a" stroke-width="0.5589999999999999" />
<path d="M655.2 239.37Q655.2 238.6 656.36 238.6L668.08 238.6Q668.85 238.6 668.85 238.14Q668.85 238.6 669.62 238.6L681.34 238.6Q682.5 238.6 682.5 239.37" fill="none" stroke="#666" stroke-width="0.45"/>
<line x1="668.9" y1="238.6" x2="668.9" y2="227.9" stroke="#666" stroke-width="0.4472" />
<rect x="663.75" y="284.85" width="4.3" height="4.3" fill="#2453a6" stroke="#222" stroke-width="0.39" transform="rotate(0 665.9 287)"/>
<rect x="663.75" y="274.15" width="4.3" height="4.3" fill="#2453a6" stroke="#222" stroke-width="0.39" transform="rotate(0 665.9 276.3)"/>
<circle cx="665.9" cy="265.4" r="2.15" fill="#3fae49" stroke="#222" stroke-width="0.39"/>
<circle cx="657.7" cy="254.3" r="2.15" fill="#3fae49" stroke="#222" stroke-width="0.39"/>
<circle cx="674.3" cy="254.3" r="2.15" fill="#3fae49" stroke="#222" stroke-width="0.39"/>
<circle cx="657.7" cy="243.6" r="2.15" fill="#3fae49" stroke="#222" stroke-width="0.39"/>
<circle cx="668.9" cy="243.6" r="2.15" fill="#3fae49" stroke="#222" stroke-width="0.39"/>
<circle cx="679.6" cy="243.6" r="2.15" fill="#3fae49" stroke="#222" stroke-width="0.39"/>
<circle cx="668.9" cy="227.9" r="2.15" fill="#3fae49" stroke="#222" stroke-width="0.39"/>
<path d="M186.9 494.5 L186.9 386.8 A107.7 107.7 0 0 1 272 428.49 Z" fill="#8eb0dc" stroke="#fff" stroke-width="0.6" stroke-linejoin="round"/>
<path d="M186.9 494.5 L272 428.49 A107.7 107.7 0 0 1 294.03 483.43 Z" fill="#b39dcb" stroke="#fff" stroke-width="0.6" stroke-linejoin="round"/>
<path d="M186.9 494.5 L294.03 483.43 A107.7 107.7 0 0 1 287.11 533.97 Z" fill="#dbaad0" stroke="#fff" stroke-width="0.6" stroke-linejoin="round"/>
<path d="M186.9 494.5 L287.11 533.97 A107.7 107.7 0 0 1 258.26 575.16 Z" fill="#c7df9a" stroke="#fff" stroke-width="0.6" stroke-linejoin="round"/>
<path d="M186.9 494.5 L258.26 575.16 A107.7 107.7 0 0 1 218.93 597.33 Z" fill="#309dbf" stroke="#fff" stroke-width="0.6" stroke-linejoin="round"/>
<path d="M186.9 494.5 L218.93 597.33 A107.7 107.7 0 0 1 186.15 602.2 Z" fill="#7a5ea8" stroke="#fff" stroke-width="0.6" stroke-linejoin="round"/>
<path d="M186.9 494.5 L186.15 602.2 A107.7 107.7 0 0 1 156.31 597.76 Z" fill="#e58b8c" stroke="#fff" stroke-width="0.6" stroke-linejoin="round"/>
<path d="M186.9 494.5 L156.31 597.76 A107.7 107.7 0 0 1 132.4 587.39 Z" fill="#9cb27f" stroke="#fff" stroke-width="0.6" stroke-linejoin="round"/>
<path d="M186.9 494.5 L132.4 587.39 A107.7 107.7 0 0 1 113.17 573.01 Z" fill="#0c5091" stroke="#fff" stroke-width="0.6" stroke-linejoin="round"/>
<path d="M186.9 494.5 L113.17 573.01 A107.7 107.7 0 0 1 97.93 555.19 Z" fill="#542c8a" stroke="#fff" stroke-width="0.6" stroke-linejoin="round"/>
<path d="M186.9 494.5 L97.93 555.19 A107.7 107.7 0 0 1 87.11 535.02 Z" fill="#8e1b4e" stroke="#fff" stroke-width="0.6" stroke-linejoin="round"/>
<path d="M186.9 494.5 L87.11 535.02 A107.7 107.7 0 0 1 80.87 513.39 Z" fill="#005f35" stroke="#fff" stroke-width="0.6" stroke-linejoin="round"/>
<path d="M186.9 494.5 L80.87 513.39 A107.7 107.7 0 0 1 79.22 492.24 Z" fill="#8eb0dc" stroke="#fff" stroke-width="0.6" stroke-linejoin="round"/>
<path d="M186.9 494.5 L79.22 492.24 A107.7 107.7 0 0 1 81.14 474.13 Z" fill="#b39dcb" stroke="#fff" stroke-width="0.6" stroke-linejoin="round"/>
<path d="M186.9 494.5 L81.14 474.13 A107.7 107.7 0 0 1 84.65 460.68 Z" fill="#dbaad0" stroke="#fff" stroke-width="0.6" stroke-linejoin="round"/>
<path d="M186.9 494.5 L84.65 460.68 A107.7 107.7 0 0 1 89.94 447.63 Z" fill="#c7df9a" stroke="#fff" stroke-width="0.6" stroke-linejoin="round"/>
<path d="M186.9 494.5 L89.94 447.63 A107.7 107.7 0 0 1 96.07 436.63 Z" fill="#309dbf" stroke="#fff" stroke-width="0.6" stroke-linejoin="round"/>
<path d="M186.9 494.5 L96.07 436.63 A107.7 107.7 0 0 1 102.61 427.46 Z" fill="#7a5ea8" stroke="#fff" stroke-width="0.6" stroke-linejoin="round"/>
<path d="M186.9 494.5 L102.61 427.46 A107.7 107.7 0 0 1 109.82 419.28 Z" fill="#e58b8c" stroke="#fff" stroke-width="0.6" stroke-linejoin="round"/>
<path d="M186.9 494.5 L109.82 419.28 A107.7 107.7 0 0 1 116.81 412.73 Z" fill="#9cb27f" stroke="#fff" stroke-width="0.6" stroke-linejoin="round"/>
<path d="M186.9 494.5 L116.81 412.73 A107.7 107.7 0 0 1 122.84 407.92 Z" fill="#0c5091" stroke="#fff" stroke-width="0.6" stroke-linejoin="round"/>
<path d="M186.9 494.5 L122.84 407.92 A107.7 107.7 0 0 1 128.64 403.92 Z" fill="#542c8a" stroke="#fff" stroke-width="0.6" stroke-linejoin="round"/>
<path d="M186.9 494.5 L128.64 403.92 A107.7 107.7 0 0 1 134.28 400.53 Z" fill="#8e1b4e" stroke="#fff" stroke-width="0.6" stroke-linejoin="round"/>
<path d="M186.9 494.5 L134.28 400.53 A107.7 107.7 0 0 1 139.86 397.62 Z" fill="#005f35" stroke="#fff" stroke-width="0.6" stroke-linejoin="round"/>
<path d="M186.9 494.5 L139.86 397.62 A107.7 107.7 0 0 1 145.46 395.09 Z" fill="#8eb0dc" stroke="#fff" stroke-width="0.6" stroke-linejoin="round"/>
<path d="M186.9 494.5 L145.46 395.09 A107.7 107.7 0 0 1 150.93 392.99 Z" fill="#b39dcb" stroke="#fff" stroke-width="0.6" stroke-linejoin="round"/>
<path d="M186.9 494.5 L150.93 392.99 A107.7 107.7 0 0 1 155.86 391.37 Z" fill="#dbaad0" stroke="#fff" stroke-width="0.6" stroke-linejoin="round"/>
<path d="M186.9 494.5 L155.86 391.37 A107.7 107.7 0 0 1 160.11 390.18 Z" fill="#c7df9a" stroke="#fff" stroke-width="0.6" stroke-linejoin="round"/>
<path d="M186.9 494.5 L160.11 390.18 A107.7 107.7 0 0 1 163.85 389.3 Z" fill="#309dbf" stroke="#fff" stroke-width="0.6" stroke-linejoin="round"/>
<path d="M186.9 494.5 L163.85 389.3 A107.7 107.7 0 0 1 167.14 388.63 Z" fill="#7a5ea8" stroke="#fff" stroke-width="0.6" stroke-linejoin="round"/>
<path d="M186.9 494.5 L167.14 388.63 A107.7 107.7 0 0 1 170.08 388.12 Z" fill="#e58b8c" stroke="#fff" stroke-width="0.6" stroke-linejoin="round"/>
<path d="M186.9 494.5 L170.08 388.12 A107.7 107.7 0 0 1 172.93 387.71 Z" fill="#9cb27f" stroke="#fff" stroke-width="0.6" stroke-linejoin="round"/>
<path d="M186.9 494.5 L172.93 387.71 A107.7 107.7 0 0 1 175.51 387.4 Z" fill="#0c5091" stroke="#fff" stroke-width="0.6" stroke-linejoin="round"/>
<path d="M186.9 494.5 L175.51 387.4 A107.7 107.7 0 0 1 177.61 387.2 Z" fill="#542c8a" stroke="#fff" stroke-width="0.25" stroke-linejoin="round"/>
<path d="M186.9 494.5 L177.61 387.2 A107.7 107.7 0 0 1 179.52 387.05 Z" fill="#8e1b4e" stroke="#fff" stroke-width="0.25" stroke-linejoin="round"/>
<path d="M186.9 494.5 L179.52 387.05 A107.7 107.7 0 0 1 181.06 386.96 Z" fill="#005f35" stroke="#fff" stroke-width="0.25" stroke-linejoin="round"/>
<path d="M186.9 494.5 L181.06 386.96 A107.7 107.7 0 0 1 181.49 386.94 Z" fill="#8eb0dc" stroke="#fff" stroke-width="0.25" stroke-linejoin="round"/>
<path d="M186.9 494.5 L181.49 386.94 A107.7 107.7 0 0 1 181.92 386.92 Z" fill="#b39dcb" stroke="#fff" stroke-width="0.25" stroke-linejoin="round"/>
<path d="M186.9 494.5 L181.92 386.92 A107.7 107.7 0 0 1 182.35 386.9 Z" fill="#dbaad0" stroke="#fff" stroke-width="0.25" stroke-linejoin="round"/>
<path d="M186.9 494.5 L182.35 386.9 A107.7 107.7 0 0 1 182.79 386.88 Z" fill="#c7df9a" stroke="#fff" stroke-width="0.25" stroke-linejoin="round"/>
<path d="M186.9 494.5 L182.79 386.88 A107.7 107.7 0 0 1 183.22 386.86 Z" fill="#309dbf" stroke="#fff" stroke-width="0.25" stroke-linejoin="round"/>
<path d="M186.9 494.5 L183.22 386.86 A107.7 107.7 0 0 1 183.65 386.85 Z" fill="#7a5ea8" stroke="#fff" stroke-width="0.25" stroke-linejoin="round"/>
<path d="M186.9 494.5 L183.65 386.85 A107.7 107.7 0 0 1 184.08 386.84 Z" fill="#e58b8c" stroke="#fff" stroke-width="0.25" stroke-linejoin="round"/>
<circle cx="186.9" cy="494.5" r="21.5" fill="#fff"/>
<line x1="241.1" y1="393.3" x2="246" y2="385.1" stroke="#2a2a2a" stroke-width="0.5589999999999999" />
<line x1="246" y1="385.1" x2="251" y2="376.7" stroke="#2a2a2a" stroke-width="0.5589999999999999" />
<line x1="251" y1="376.7" x2="247.8" y2="363" stroke="#2a2a2a" stroke-width="0.5589999999999999" />
<line x1="251" y1="376.7" x2="264.8" y2="373.1" stroke="#2a2a2a" stroke-width="0.5589999999999999" />
<line x1="247.8" y1="363" x2="248.7" y2="351.7" stroke="#2a2a2a" stroke-width="0.5589999999999999" />
<line x1="247.8" y1="363" x2="257.1" y2="357.1" stroke="#2a2a2a" stroke-width="0.5589999999999999" />
<line x1="264.8" y1="373.1" x2="265.7" y2="362.1" stroke="#2a2a2a" stroke-width="0.5589999999999999" />
<line x1="264.8" y1="373.1" x2="274.2" y2="367.3" stroke="#2a2a2a" stroke-width="0.5589999999999999" />
<line x1="248.7" y1="351.7" x2="253.5" y2="343.2" stroke="#2a2a2a" stroke-width="0.5589999999999999" />
<line x1="257.1" y1="357.1" x2="262.1" y2="348.2" stroke="#2a2a2a" stroke-width="0.5589999999999999" />
<line x1="265.7" y1="362.1" x2="270.7" y2="353.2" stroke="#2a2a2a" stroke-width="0.5589999999999999" />
<line x1="274.2" y1="367.3" x2="279.2" y2="358.3" stroke="#2a2a2a" stroke-width="0.5589999999999999" />
<line x1="254.1" y1="338.9" x2="282.6" y2="355.7" stroke="#666" stroke-width="0.4472" />
<line x1="268.4" y1="347.3" x2="273.9" y2="338" stroke="#666" stroke-width="0.4472" />
<rect x="238.95" y="391.15" width="4.3" height="4.3" fill="#2453a6" stroke="#222" stroke-width="0.39" transform="rotate(31 241.1 393.3)"/>
<rect x="243.85" y="382.95" width="4.3" height="4.3" fill="#2453a6" stroke="#222" stroke-width="0.39" transform="rotate(31 246 385.1)"/>
<circle cx="251" cy="376.7" r="2.15" fill="#3fae49" stroke="#222" stroke-width="0.39"/>
<circle cx="247.8" cy="363" r="2.15" fill="#3fae49" stroke="#222" stroke-width="0.39"/>
<circle cx="264.8" cy="373.1" r="2.15" fill="#3fae49" stroke="#222" stroke-width="0.39"/>
<rect x="246.55" y="349.55" width="4.3" height="4.3" fill="#2453a6" stroke="#222" stroke-width="0.39" transform="rotate(31 248.7 351.7)"/>
<rect x="254.95" y="354.95" width="4.3" height="4.3" fill="#2453a6" stroke="#222" stroke-width="0.39" transform="rotate(31 257.1 357.1)"/>
<rect x="263.55" y="359.95" width="4.3" height="4.3" fill="#2453a6" stroke="#222" stroke-width="0.39" transform="rotate(31 265.7 362.1)"/>
<rect x="272.05" y="365.15" width="4.3" height="4.3" fill="#2453a6" stroke="#222" stroke-width="0.39" transform="rotate(31 274.2 367.3)"/>
<circle cx="253.5" cy="343.2" r="2.15" fill="#f4e64a" stroke="#222" stroke-width="0.39"/>
<circle cx="262.1" cy="348.2" r="2.15" fill="#f4e64a" stroke="#222" stroke-width="0.39"/>
<circle cx="270.7" cy="353.2" r="2.15" fill="#f4e64a" stroke="#222" stroke-width="0.39"/>
<circle cx="279.2" cy="358.3" r="2.15" fill="#f4e64a" stroke="#222" stroke-width="0.39"/>
<path d="M273.9 335.85L276.05 338L273.9 340.15L271.75 338Z" fill="#a3359a" stroke="#222" stroke-width="0.27" transform="rotate(31 273.9 338)"/>
<line x1="292.6" y1="452.1" x2="304.7" y2="446.7" stroke="#2a2a2a" stroke-width="0.78" />
<line x1="304.7" y1="446.7" x2="316.7" y2="441.3" stroke="#2a2a2a" stroke-width="0.78" />
<line x1="316.7" y1="441.3" x2="326.4" y2="429.9" stroke="#2a2a2a" stroke-width="0.78" />
<line x1="316.7" y1="441.3" x2="331.6" y2="442.3" stroke="#2a2a2a" stroke-width="0.78" />
<rect x="289.6" y="449.1" width="6" height="6" fill="#2453a6" stroke="#222" stroke-width="0.54" transform="rotate(66 292.6 452.1)"/>
<rect x="301.7" y="443.7" width="6" height="6" fill="#2453a6" stroke="#222" stroke-width="0.54" transform="rotate(66 304.7 446.7)"/>
<circle cx="316.7" cy="441.3" r="3" fill="#3fae49" stroke="#222" stroke-width="0.54"/>
<circle cx="326.4" cy="429.9" r="3" fill="#3fae49" stroke="#222" stroke-width="0.54"/>
<circle cx="331.6" cy="442.3" r="3" fill="#3fae49" stroke="#222" stroke-width="0.54"/>
<line x1="299.3" y1="513.4" x2="309" y2="515.3" stroke="#2a2a2a" stroke-width="0.585" />
<line x1="309" y1="515.3" x2="318.6" y2="516.9" stroke="#2a2a2a" stroke-width="0.585" />
<line x1="318.6" y1="516.9" x2="330.2" y2="508.9" stroke="#2a2a2a" stroke-width="0.585" />
<line x1="318.6" y1="516.9" x2="326.8" y2="528.5" stroke="#2a2a2a" stroke-width="0.585" />
<line x1="330.2" y1="508.9" x2="340.9" y2="505.7" stroke="#2a2a2a" stroke-width="0.585" />
<line x1="330.2" y1="508.9" x2="339.3" y2="515.7" stroke="#2a2a2a" stroke-width="0.585" />
<line x1="326.8" y1="528.5" x2="337.4" y2="525.6" stroke="#2a2a2a" stroke-width="0.585" />
<line x1="326.8" y1="528.5" x2="335.7" y2="535.2" stroke="#2a2a2a" stroke-width="0.585" />
<line x1="340.9" y1="505.7" x2="350.9" y2="507.6" stroke="#2a2a2a" stroke-width="0.585" />
<line x1="339.3" y1="515.7" x2="349" y2="517.6" stroke="#2a2a2a" stroke-width="0.585" />
<line x1="337.4" y1="525.6" x2="347.2" y2="527.3" stroke="#2a2a2a" stroke-width="0.585" />
<line x1="335.7" y1="535.2" x2="345.7" y2="537" stroke="#2a2a2a" stroke-width="0.585" />
<rect x="297.05" y="511.15" width="4.5" height="4.5" fill="#2453a6" stroke="#222" stroke-width="0.4" transform="rotate(101 299.3 513.4)"/>
<rect x="306.75" y="513.05" width="4.5" height="4.5" fill="#2453a6" stroke="#222" stroke-width="0.4" transform="rotate(101 309 515.3)"/>
<circle cx="318.6" cy="516.9" r="2.25" fill="#3fae49" stroke="#222" stroke-width="0.4"/>
<circle cx="330.2" cy="508.9" r="2.25" fill="#3fae49" stroke="#222" stroke-width="0.4"/>
<circle cx="326.8" cy="528.5" r="2.25" fill="#3fae49" stroke="#222" stroke-width="0.4"/>
<rect x="338.65" y="503.45" width="4.5" height="4.5" fill="#2453a6" stroke="#222" stroke-width="0.4" transform="rotate(101 340.9 505.7)"/>
<rect x="337.05" y="513.45" width="4.5" height="4.5" fill="#2453a6" stroke="#222" stroke-width="0.4" transform="rotate(101 339.3 515.7)"/>
<rect x="335.15" y="523.35" width="4.5" height="4.5" fill="#2453a6" stroke="#222" stroke-width="0.4" transform="rotate(101 337.4 525.6)"/>
<rect x="333.45" y="532.95" width="4.5" height="4.5" fill="#2453a6" stroke="#222" stroke-width="0.4" transform="rotate(101 335.7 535.2)"/>
<circle cx="350.9" cy="507.6" r="2.25" fill="#f4e64a" stroke="#222" stroke-width="0.4"/>
<circle cx="349" cy="517.6" r="2.25" fill="#f4e64a" stroke="#222" stroke-width="0.4"/>
<circle cx="347.2" cy="527.3" r="2.25" fill="#f4e64a" stroke="#222" stroke-width="0.4"/>
<circle cx="345.7" cy="537" r="2.25" fill="#f4e64a" stroke="#222" stroke-width="0.4"/>
<line x1="278.9" y1="560.2" x2="286.2" y2="564.3" stroke="#2a2a2a" stroke-width="0.442" />
<line x1="286.2" y1="564.3" x2="293.1" y2="568.4" stroke="#2a2a2a" stroke-width="0.442" />
<line x1="293.1" y1="568.4" x2="302.1" y2="568.9" stroke="#2a2a2a" stroke-width="0.442" />
<line x1="293.1" y1="568.4" x2="298.3" y2="576.1" stroke="#2a2a2a" stroke-width="0.442" />
<line x1="302.1" y1="568.9" x2="309.4" y2="573" stroke="#2a2a2a" stroke-width="0.442" />
<line x1="298.3" y1="576.1" x2="305.4" y2="580.2" stroke="#2a2a2a" stroke-width="0.442" />
<line x1="309.4" y1="573" x2="316.5" y2="577.1" stroke="#2a2a2a" stroke-width="0.442" />
<line x1="305.4" y1="580.2" x2="312.4" y2="583.9" stroke="#2a2a2a" stroke-width="0.442" />
<line x1="320" y1="577.4" x2="314.8" y2="587.2" stroke="#666" stroke-width="0.3536" />
<line x1="317.4" y1="582.3" x2="324.6" y2="586.4" stroke="#666" stroke-width="0.3536" />
<rect x="277.2" y="558.5" width="3.4" height="3.4" fill="#2453a6" stroke="#222" stroke-width="0.31" transform="rotate(119 278.9 560.2)"/>
<rect x="284.5" y="562.6" width="3.4" height="3.4" fill="#2453a6" stroke="#222" stroke-width="0.31" transform="rotate(119 286.2 564.3)"/>
<circle cx="293.1" cy="568.4" r="1.7" fill="#3fae49" stroke="#222" stroke-width="0.31"/>
<circle cx="302.1" cy="568.9" r="1.7" fill="#3fae49" stroke="#222" stroke-width="0.31"/>
<circle cx="298.3" cy="576.1" r="1.7" fill="#3fae49" stroke="#222" stroke-width="0.31"/>
<rect x="307.7" y="571.3" width="3.4" height="3.4" fill="#2453a6" stroke="#222" stroke-width="0.31" transform="rotate(119 309.4 573)"/>
<rect x="303.7" y="578.5" width="3.4" height="3.4" fill="#2453a6" stroke="#222" stroke-width="0.31" transform="rotate(119 305.4 580.2)"/>
<circle cx="316.5" cy="577.1" r="1.7" fill="#f4e64a" stroke="#222" stroke-width="0.31"/>
<circle cx="312.4" cy="583.9" r="1.7" fill="#f4e64a" stroke="#222" stroke-width="0.31"/>
<path d="M324.6 584.7L326.3 586.4L324.6 588.1L322.9 586.4Z" fill="#a3359a" stroke="#222" stroke-width="0.21" transform="rotate(119 324.6 586.4)"/>
<line x1="241.6" y1="595" x2="246" y2="601.4" stroke="#2a2a2a" stroke-width="0.48100000000000004" />
<line x1="246" y1="601.4" x2="250.3" y2="608.4" stroke="#2a2a2a" stroke-width="0.48100000000000004" />
<line x1="250.3" y1="608.4" x2="261.2" y2="610.4" stroke="#2a2a2a" stroke-width="0.48100000000000004" />
<line x1="250.3" y1="608.4" x2="248.5" y2="619.4" stroke="#2a2a2a" stroke-width="0.48100000000000004" />
<line x1="261.2" y1="610.4" x2="269.4" y2="614.6" stroke="#2a2a2a" stroke-width="0.48100000000000004" />
<line x1="261.2" y1="610.4" x2="262.9" y2="619.4" stroke="#2a2a2a" stroke-width="0.48100000000000004" />
<line x1="248.5" y1="619.4" x2="255.8" y2="623.6" stroke="#2a2a2a" stroke-width="0.48100000000000004" />
<line x1="248.5" y1="619.4" x2="249.5" y2="628" stroke="#2a2a2a" stroke-width="0.48100000000000004" />
<line x1="269.4" y1="614.6" x2="273.8" y2="621.5" stroke="#2a2a2a" stroke-width="0.48100000000000004" />
<line x1="262.9" y1="619.4" x2="267.3" y2="625.9" stroke="#2a2a2a" stroke-width="0.48100000000000004" />
<line x1="255.8" y1="623.6" x2="260.8" y2="630.2" stroke="#2a2a2a" stroke-width="0.48100000000000004" />
<line x1="249.5" y1="628" x2="253.9" y2="634.6" stroke="#2a2a2a" stroke-width="0.48100000000000004" />
<line x1="276.8" y1="623.1" x2="254.7" y2="638.7" stroke="#666" stroke-width="0.38480000000000003" />
<line x1="265.8" y1="630.9" x2="267" y2="640" stroke="#666" stroke-width="0.38480000000000003" />
<line x1="271.5" y1="627" x2="273.5" y2="635.4" stroke="#666" stroke-width="0.38480000000000003" />
<rect x="239.75" y="593.15" width="3.7" height="3.7" fill="#2453a6" stroke="#222" stroke-width="0.33" transform="rotate(151 241.6 595)"/>
<rect x="244.15" y="599.55" width="3.7" height="3.7" fill="#2453a6" stroke="#222" stroke-width="0.33" transform="rotate(151 246 601.4)"/>
<circle cx="250.3" cy="608.4" r="1.85" fill="#3fae49" stroke="#222" stroke-width="0.33"/>
<circle cx="261.2" cy="610.4" r="1.85" fill="#3fae49" stroke="#222" stroke-width="0.33"/>
<circle cx="248.5" cy="619.4" r="1.85" fill="#3fae49" stroke="#222" stroke-width="0.33"/>
<rect x="267.55" y="612.75" width="3.7" height="3.7" fill="#2453a6" stroke="#222" stroke-width="0.33" transform="rotate(151 269.4 614.6)"/>
<rect x="261.05" y="617.55" width="3.7" height="3.7" fill="#2453a6" stroke="#222" stroke-width="0.33" transform="rotate(151 262.9 619.4)"/>
<rect x="253.95" y="621.75" width="3.7" height="3.7" fill="#2453a6" stroke="#222" stroke-width="0.33" transform="rotate(151 255.8 623.6)"/>
<rect x="247.65" y="626.15" width="3.7" height="3.7" fill="#2453a6" stroke="#222" stroke-width="0.33" transform="rotate(151 249.5 628)"/>
<circle cx="273.8" cy="621.5" r="1.85" fill="#f4e64a" stroke="#222" stroke-width="0.33"/>
<circle cx="267.3" cy="625.9" r="1.85" fill="#f4e64a" stroke="#222" stroke-width="0.33"/>
<circle cx="260.8" cy="630.2" r="1.85" fill="#f4e64a" stroke="#222" stroke-width="0.33"/>
<circle cx="253.9" cy="634.6" r="1.85" fill="#f4e64a" stroke="#222" stroke-width="0.33"/>
<rect x="271.65" y="633.55" width="3.7" height="3.7" fill="#2453a6" stroke="#222" stroke-width="0.33" transform="rotate(151 273.5 635.4)"/>
<path d="M267 638.15L268.85 640L267 641.85L265.15 640Z" fill="#a3359a" stroke="#222" stroke-width="0.23" transform="rotate(151 267 640)"/>
<line x1="203.9" y1="607.5" x2="205.3" y2="615.4" stroke="#2a2a2a" stroke-width="0.48100000000000004" />
<line x1="205.3" y1="615.4" x2="207.1" y2="622.4" stroke="#2a2a2a" stroke-width="0.48100000000000004" />
<line x1="207.1" y1="622.4" x2="201.3" y2="631.7" stroke="#2a2a2a" stroke-width="0.48100000000000004" />
<line x1="207.1" y1="622.4" x2="216.2" y2="628.2" stroke="#2a2a2a" stroke-width="0.48100000000000004" />
<line x1="201.3" y1="631.7" x2="199.2" y2="639.9" stroke="#2a2a2a" stroke-width="0.48100000000000004" />
<line x1="201.3" y1="631.7" x2="206.9" y2="638.2" stroke="#2a2a2a" stroke-width="0.48100000000000004" />
<line x1="216.2" y1="628.2" x2="214.1" y2="636.4" stroke="#2a2a2a" stroke-width="0.48100000000000004" />
<line x1="216.2" y1="628.2" x2="221.6" y2="635" stroke="#2a2a2a" stroke-width="0.48100000000000004" />
<line x1="199.2" y1="639.9" x2="201" y2="647.5" stroke="#2a2a2a" stroke-width="0.48100000000000004" />
<line x1="206.9" y1="638.2" x2="208.3" y2="646.1" stroke="#2a2a2a" stroke-width="0.48100000000000004" />
<line x1="214.1" y1="636.4" x2="215.7" y2="644.3" stroke="#2a2a2a" stroke-width="0.48100000000000004" />
<line x1="221.6" y1="635" x2="223.4" y2="642.6" stroke="#2a2a2a" stroke-width="0.48100000000000004" />
<line x1="214.8" y1="656" x2="216.2" y2="663.2" stroke="#2a2a2a" stroke-width="0.48100000000000004" />
<line x1="200.1" y1="650.4" x2="225.3" y2="645.2" stroke="#666" stroke-width="0.38480000000000003" />
<line x1="212.7" y1="647.8" x2="214.8" y2="656" stroke="#666" stroke-width="0.38480000000000003" />
<rect x="202.05" y="605.65" width="3.7" height="3.7" fill="#2453a6" stroke="#222" stroke-width="0.33" transform="rotate(171.5 203.9 607.5)"/>
<rect x="203.45" y="613.55" width="3.7" height="3.7" fill="#2453a6" stroke="#222" stroke-width="0.33" transform="rotate(171.5 205.3 615.4)"/>
<circle cx="207.1" cy="622.4" r="1.85" fill="#3fae49" stroke="#222" stroke-width="0.33"/>
<circle cx="201.3" cy="631.7" r="1.85" fill="#3fae49" stroke="#222" stroke-width="0.33"/>
<circle cx="216.2" cy="628.2" r="1.85" fill="#3fae49" stroke="#222" stroke-width="0.33"/>
<rect x="197.35" y="638.05" width="3.7" height="3.7" fill="#2453a6" stroke="#222" stroke-width="0.33" transform="rotate(171.5 199.2 639.9)"/>
<rect x="205.05" y="636.35" width="3.7" height="3.7" fill="#2453a6" stroke="#222" stroke-width="0.33" transform="rotate(171.5 206.9 638.2)"/>
<rect x="212.25" y="634.55" width="3.7" height="3.7" fill="#2453a6" stroke="#222" stroke-width="0.33" transform="rotate(171.5 214.1 636.4)"/>
<rect x="219.75" y="633.15" width="3.7" height="3.7" fill="#2453a6" stroke="#222" stroke-width="0.33" transform="rotate(171.5 221.6 635)"/>
<circle cx="201" cy="647.5" r="1.85" fill="#f4e64a" stroke="#222" stroke-width="0.33"/>
<circle cx="208.3" cy="646.1" r="1.85" fill="#f4e64a" stroke="#222" stroke-width="0.33"/>
<circle cx="215.7" cy="644.3" r="1.85" fill="#f4e64a" stroke="#222" stroke-width="0.33"/>
<circle cx="223.4" cy="642.6" r="1.85" fill="#f4e64a" stroke="#222" stroke-width="0.33"/>
<rect x="212.95" y="654.15" width="3.7" height="3.7" fill="#2453a6" stroke="#222" stroke-width="0.33" transform="rotate(171.5 214.8 656)"/>
<circle cx="216.2" cy="663.2" r="1.85" fill="#f4e64a" stroke="#222" stroke-width="0.33"/>
<line x1="168.9" y1="607" x2="167.2" y2="616.3" stroke="#2a2a2a" stroke-width="0.52" />
<line x1="167.2" y1="616.3" x2="165.6" y2="625.4" stroke="#2a2a2a" stroke-width="0.52" />
<line x1="165.6" y1="625.4" x2="157" y2="632.6" stroke="#2a2a2a" stroke-width="0.52" />
<line x1="165.6" y1="625.4" x2="170.7" y2="635.5" stroke="#2a2a2a" stroke-width="0.52" />
<line x1="157" y1="632.6" x2="155.4" y2="642" stroke="#2a2a2a" stroke-width="0.52" />
<line x1="170.7" y1="635.5" x2="164.2" y2="643.8" stroke="#2a2a2a" stroke-width="0.52" />
<line x1="170.7" y1="635.5" x2="173.6" y2="645.7" stroke="#2a2a2a" stroke-width="0.52" />
<line x1="155.4" y1="642" x2="153.7" y2="651.3" stroke="#2a2a2a" stroke-width="0.52" />
<line x1="164.2" y1="643.8" x2="162.8" y2="652.7" stroke="#2a2a2a" stroke-width="0.52" />
<line x1="173.6" y1="645.7" x2="171.9" y2="654.5" stroke="#2a2a2a" stroke-width="0.52" />
<rect x="166.9" y="605" width="4" height="4" fill="#2453a6" stroke="#222" stroke-width="0.36" transform="rotate(189 168.9 607)"/>
<rect x="165.2" y="614.3" width="4" height="4" fill="#2453a6" stroke="#222" stroke-width="0.36" transform="rotate(189 167.2 616.3)"/>
<circle cx="165.6" cy="625.4" r="2" fill="#3fae49" stroke="#222" stroke-width="0.36"/>
<circle cx="157" cy="632.6" r="2" fill="#3fae49" stroke="#222" stroke-width="0.36"/>
<circle cx="170.7" cy="635.5" r="2" fill="#3fae49" stroke="#222" stroke-width="0.36"/>
<rect x="153.4" y="640" width="4" height="4" fill="#2453a6" stroke="#222" stroke-width="0.36" transform="rotate(189 155.4 642)"/>
<rect x="162.2" y="641.8" width="4" height="4" fill="#2453a6" stroke="#222" stroke-width="0.36" transform="rotate(189 164.2 643.8)"/>
<rect x="171.6" y="643.7" width="4" height="4" fill="#2453a6" stroke="#222" stroke-width="0.36" transform="rotate(189 173.6 645.7)"/>
<circle cx="153.7" cy="651.3" r="2" fill="#f4e64a" stroke="#222" stroke-width="0.36"/>
<circle cx="162.8" cy="652.7" r="2" fill="#f4e64a" stroke="#222" stroke-width="0.36"/>
<circle cx="171.9" cy="654.5" r="2" fill="#f4e64a" stroke="#222" stroke-width="0.36"/>
<line x1="141.4" y1="600.5" x2="136.2" y2="608.2" stroke="#2a2a2a" stroke-width="0.494" />
<line x1="136.2" y1="608.2" x2="131.4" y2="616.7" stroke="#2a2a2a" stroke-width="0.494" />
<line x1="131.4" y1="616.7" x2="122.9" y2="623.1" stroke="#2a2a2a" stroke-width="0.494" />
<line x1="131.5" y1="616.7" x2="131.5" y2="627.2" stroke="#2a2a2a" stroke-width="0.494" />
<line x1="122.9" y1="623.1" x2="118.7" y2="631" stroke="#2a2a2a" stroke-width="0.494" />
<line x1="131.4" y1="627.2" x2="126.7" y2="635.1" stroke="#2a2a2a" stroke-width="0.494" />
<line x1="118.7" y1="631" x2="114" y2="639.5" stroke="#2a2a2a" stroke-width="0.494" />
<line x1="126.7" y1="635.1" x2="121.9" y2="643.7" stroke="#2a2a2a" stroke-width="0.494" />
<rect x="139.5" y="598.6" width="3.8" height="3.8" fill="#2453a6" stroke="#222" stroke-width="0.34" transform="rotate(203 141.4 600.5)"/>
<rect x="134.3" y="606.3" width="3.8" height="3.8" fill="#2453a6" stroke="#222" stroke-width="0.34" transform="rotate(203 136.2 608.2)"/>
<circle cx="131.4" cy="616.7" r="1.9" fill="#3fae49" stroke="#222" stroke-width="0.34"/>
<circle cx="122.9" cy="623.1" r="1.9" fill="#3fae49" stroke="#222" stroke-width="0.34"/>
<circle cx="131.4" cy="627.2" r="1.9" fill="#3fae49" stroke="#222" stroke-width="0.34"/>
<rect x="116.8" y="629.1" width="3.8" height="3.8" fill="#2453a6" stroke="#222" stroke-width="0.34" transform="rotate(203 118.7 631)"/>
<rect x="124.8" y="633.2" width="3.8" height="3.8" fill="#2453a6" stroke="#222" stroke-width="0.34" transform="rotate(203 126.7 635.1)"/>
<circle cx="114" cy="639.5" r="1.9" fill="#f4e64a" stroke="#222" stroke-width="0.34"/>
<circle cx="121.9" cy="643.7" r="1.9" fill="#f4e64a" stroke="#222" stroke-width="0.34"/>
<line x1="117.7" y1="585.6" x2="111.5" y2="593.1" stroke="#2a2a2a" stroke-width="0.494" />
<line x1="111.5" y1="593.1" x2="105.6" y2="600.8" stroke="#2a2a2a" stroke-width="0.494" />
<line x1="105.6" y1="600.8" x2="94.5" y2="603.8" stroke="#2a2a2a" stroke-width="0.494" />
<line x1="105.5" y1="600.8" x2="105.5" y2="612.7" stroke="#2a2a2a" stroke-width="0.494" />
<line x1="94.5" y1="603.8" x2="88.3" y2="611.5" stroke="#2a2a2a" stroke-width="0.494" />
<line x1="105.6" y1="612.7" x2="96.1" y2="617.2" stroke="#2a2a2a" stroke-width="0.494" />
<line x1="105.6" y1="612.7" x2="103.5" y2="622.9" stroke="#2a2a2a" stroke-width="0.494" />
<line x1="88.3" y1="611.5" x2="82.4" y2="619" stroke="#2a2a2a" stroke-width="0.494" />
<line x1="96.1" y1="617.2" x2="90.1" y2="625.2" stroke="#2a2a2a" stroke-width="0.494" />
<line x1="103.5" y1="622.9" x2="97.6" y2="630.9" stroke="#2a2a2a" stroke-width="0.494" />
<line x1="79.7" y1="621.3" x2="96.7" y2="634.1" stroke="#666" stroke-width="0.3952" />
<line x1="88.2" y1="627.7" x2="81.5" y2="636.3" stroke="#666" stroke-width="0.3952" />
<rect x="115.8" y="583.7" width="3.8" height="3.8" fill="#2453a6" stroke="#222" stroke-width="0.34" transform="rotate(217 117.7 585.6)"/>
<rect x="109.6" y="591.2" width="3.8" height="3.8" fill="#2453a6" stroke="#222" stroke-width="0.34" transform="rotate(217 111.5 593.1)"/>
<circle cx="105.6" cy="600.8" r="1.9" fill="#3fae49" stroke="#222" stroke-width="0.34"/>
<circle cx="94.5" cy="603.8" r="1.9" fill="#3fae49" stroke="#222" stroke-width="0.34"/>
<circle cx="105.6" cy="612.7" r="1.9" fill="#3fae49" stroke="#222" stroke-width="0.34"/>
<rect x="86.4" y="609.6" width="3.8" height="3.8" fill="#2453a6" stroke="#222" stroke-width="0.34" transform="rotate(217 88.3 611.5)"/>
<rect x="94.2" y="615.3" width="3.8" height="3.8" fill="#2453a6" stroke="#222" stroke-width="0.34" transform="rotate(217 96.1 617.2)"/>
<rect x="101.6" y="621" width="3.8" height="3.8" fill="#2453a6" stroke="#222" stroke-width="0.34" transform="rotate(217 103.5 622.9)"/>
<circle cx="82.4" cy="619" r="1.9" fill="#f4e64a" stroke="#222" stroke-width="0.34"/>
<circle cx="90.1" cy="625.2" r="1.9" fill="#f4e64a" stroke="#222" stroke-width="0.34"/>
<circle cx="97.6" cy="630.9" r="1.9" fill="#f4e64a" stroke="#222" stroke-width="0.34"/>
<path d="M81.5 634.4L83.4 636.3L81.5 638.2L79.6 636.3Z" fill="#a3359a" stroke="#222" stroke-width="0.24" transform="rotate(217 81.5 636.3)"/>
<line x1="99.9" y1="569.6" x2="91.3" y2="576.3" stroke="#2a2a2a" stroke-width="0.52" />
<line x1="91.3" y1="576.3" x2="83.3" y2="582.1" stroke="#2a2a2a" stroke-width="0.52" />
<line x1="83.3" y1="582.5" x2="70.5" y2="582.5" stroke="#2a2a2a" stroke-width="0.52" />
<line x1="83.3" y1="582.1" x2="79.7" y2="594.5" stroke="#2a2a2a" stroke-width="0.52" />
<line x1="70.5" y1="582.1" x2="59.2" y2="584.2" stroke="#2a2a2a" stroke-width="0.52" />
<line x1="70.5" y1="582.1" x2="65.5" y2="592.8" stroke="#2a2a2a" stroke-width="0.52" />
<line x1="79.7" y1="594.5" x2="71.4" y2="601.1" stroke="#2a2a2a" stroke-width="0.52" />
<line x1="71.4" y1="601.1" x2="63.3" y2="607.4" stroke="#2a2a2a" stroke-width="0.52" />
<line x1="63.3" y1="607.4" x2="54.8" y2="613.1" stroke="#2a2a2a" stroke-width="0.52" />
<rect x="97.9" y="567.6" width="4" height="4" fill="#2453a6" stroke="#222" stroke-width="0.36" transform="rotate(229 99.9 569.6)"/>
<rect x="89.3" y="574.3" width="4" height="4" fill="#2453a6" stroke="#222" stroke-width="0.36" transform="rotate(229 91.3 576.3)"/>
<circle cx="83.3" cy="582.1" r="2" fill="#3fae49" stroke="#222" stroke-width="0.36"/>
<circle cx="70.5" cy="582.1" r="2" fill="#3fae49" stroke="#222" stroke-width="0.36"/>
<circle cx="79.7" cy="594.5" r="2" fill="#3fae49" stroke="#222" stroke-width="0.36"/>
<circle cx="59.2" cy="584.2" r="2" fill="#3fae49" stroke="#222" stroke-width="0.36"/>
<circle cx="65.5" cy="592.8" r="2" fill="#3fae49" stroke="#222" stroke-width="0.36"/>
<rect x="69.4" y="599.1" width="4" height="4" fill="#2453a6" stroke="#222" stroke-width="0.36" transform="rotate(229 71.4 601.1)"/>
<circle cx="63.3" cy="607.4" r="2" fill="#f4e64a" stroke="#222" stroke-width="0.36"/>
<path d="M54.8 611.1L56.8 613.1L54.8 615.1L52.8 613.1Z" fill="#a3359a" stroke="#222" stroke-width="0.25" transform="rotate(229 54.8 613.1)"/>
<line x1="87.8" y1="550.7" x2="78.8" y2="554.8" stroke="#2a2a2a" stroke-width="0.468" />
<line x1="78.8" y1="554.8" x2="69.9" y2="559.2" stroke="#2a2a2a" stroke-width="0.468" />
<line x1="69.9" y1="559.2" x2="57.4" y2="557.1" stroke="#2a2a2a" stroke-width="0.468" />
<line x1="69.9" y1="559.2" x2="64.2" y2="570.8" stroke="#2a2a2a" stroke-width="0.468" />
<line x1="57.4" y1="557.5" x2="46.4" y2="557.5" stroke="#2a2a2a" stroke-width="0.468" />
<line x1="57.4" y1="557.1" x2="50.7" y2="566" stroke="#2a2a2a" stroke-width="0.468" />
<line x1="64.2" y1="570.8" x2="55.3" y2="574.9" stroke="#2a2a2a" stroke-width="0.468" />
<line x1="46.4" y1="557.1" x2="36.9" y2="561.5" stroke="#2a2a2a" stroke-width="0.468" />
<line x1="50.7" y1="566" x2="41.4" y2="570.5" stroke="#2a2a2a" stroke-width="0.468" />
<line x1="55.3" y1="574.9" x2="46.2" y2="579.4" stroke="#2a2a2a" stroke-width="0.468" />
<rect x="86" y="548.9" width="3.6" height="3.6" fill="#2453a6" stroke="#222" stroke-width="0.32" transform="rotate(240.5 87.8 550.7)"/>
<rect x="77" y="553" width="3.6" height="3.6" fill="#2453a6" stroke="#222" stroke-width="0.32" transform="rotate(240.5 78.8 554.8)"/>
<circle cx="69.9" cy="559.2" r="1.8" fill="#3fae49" stroke="#222" stroke-width="0.32"/>
<circle cx="57.4" cy="557.1" r="1.8" fill="#3fae49" stroke="#222" stroke-width="0.32"/>
<circle cx="64.2" cy="570.8" r="1.8" fill="#3fae49" stroke="#222" stroke-width="0.32"/>
<circle cx="46.4" cy="557.1" r="1.8" fill="#3fae49" stroke="#222" stroke-width="0.32"/>
<circle cx="50.7" cy="566" r="1.8" fill="#3fae49" stroke="#222" stroke-width="0.32"/>
<circle cx="55.3" cy="574.9" r="1.8" fill="#3fae49" stroke="#222" stroke-width="0.32"/>
<circle cx="36.9" cy="561.5" r="1.8" fill="#3fae49" stroke="#222" stroke-width="0.32"/>
<circle cx="41.4" cy="570.5" r="1.8" fill="#3fae49" stroke="#222" stroke-width="0.32"/>
<circle cx="46.2" cy="579.4" r="1.8" fill="#3fae49" stroke="#222" stroke-width="0.32"/>
<line x1="77.1" y1="528" x2="67.3" y2="531.2" stroke="#2a2a2a" stroke-width="0.468" />
<line x1="67.3" y1="531.2" x2="57.4" y2="534.3" stroke="#2a2a2a" stroke-width="0.468" />
<line x1="57.4" y1="534.3" x2="45" y2="530.2" stroke="#2a2a2a" stroke-width="0.468" />
<line x1="57.4" y1="534.3" x2="49.4" y2="545.3" stroke="#2a2a2a" stroke-width="0.468" />
<line x1="45" y1="530.2" x2="33.4" y2="528" stroke="#2a2a2a" stroke-width="0.468" />
<line x1="45" y1="530.2" x2="36.4" y2="538.2" stroke="#2a2a2a" stroke-width="0.468" />
<line x1="49.4" y1="545.3" x2="39.6" y2="548.2" stroke="#2a2a2a" stroke-width="0.468" />
<line x1="28.9" y1="528" x2="37" y2="551.2" stroke="#666" stroke-width="0.37440000000000007" />
<line x1="22.1" y1="542.8" x2="31.5" y2="539.5" stroke="#666" stroke-width="0.37440000000000007" />
<rect x="75.3" y="526.2" width="3.6" height="3.6" fill="#2453a6" stroke="#222" stroke-width="0.32" transform="rotate(253 77.1 528)"/>
<rect x="65.5" y="529.4" width="3.6" height="3.6" fill="#2453a6" stroke="#222" stroke-width="0.32" transform="rotate(253 67.3 531.2)"/>
<circle cx="57.4" cy="534.3" r="1.8" fill="#3fae49" stroke="#222" stroke-width="0.32"/>
<circle cx="45" cy="530.2" r="1.8" fill="#3fae49" stroke="#222" stroke-width="0.32"/>
<circle cx="49.4" cy="545.3" r="1.8" fill="#3fae49" stroke="#222" stroke-width="0.32"/>
<circle cx="33.4" cy="528" r="1.8" fill="#3fae49" stroke="#222" stroke-width="0.32"/>
<circle cx="36.4" cy="538.2" r="1.8" fill="#3fae49" stroke="#222" stroke-width="0.32"/>
<circle cx="39.6" cy="548.2" r="1.8" fill="#3fae49" stroke="#222" stroke-width="0.32"/>
<circle cx="22.1" cy="542.8" r="1.8" fill="#3fae49" stroke="#222" stroke-width="0.32"/>
<line x1="73.1" y1="504" x2="64.6" y2="504.9" stroke="#2a2a2a" stroke-width="0.468" />
<line x1="64.6" y1="504.9" x2="55.3" y2="506.1" stroke="#2a2a2a" stroke-width="0.468" />
<line x1="55.3" y1="506.1" x2="45.8" y2="502.9" stroke="#2a2a2a" stroke-width="0.468" />
<line x1="55.3" y1="506.1" x2="46.7" y2="512" stroke="#2a2a2a" stroke-width="0.468" />
<line x1="33.3" y1="508.8" x2="24.4" y2="510" stroke="#2a2a2a" stroke-width="0.468" />
<line x1="24.4" y1="510" x2="15.5" y2="511.5" stroke="#2a2a2a" stroke-width="0.468" />
<line x1="42.5" y1="499.5" x2="43.5" y2="516" stroke="#666" stroke-width="0.37440000000000007" />
<line x1="33.3" y1="508.8" x2="43" y2="508" stroke="#666" stroke-width="0.37440000000000007" />
<rect x="71.3" y="502.2" width="3.6" height="3.6" fill="#2453a6" stroke="#222" stroke-width="0.32" transform="rotate(265 73.1 504)"/>
<rect x="62.8" y="503.1" width="3.6" height="3.6" fill="#2453a6" stroke="#222" stroke-width="0.32" transform="rotate(265 64.6 504.9)"/>
<circle cx="55.3" cy="506.1" r="1.8" fill="#3fae49" stroke="#222" stroke-width="0.32"/>
<circle cx="45.8" cy="502.9" r="1.8" fill="#3fae49" stroke="#222" stroke-width="0.32"/>
<circle cx="46.7" cy="512" r="1.8" fill="#3fae49" stroke="#222" stroke-width="0.32"/>
<rect x="31.5" y="507" width="3.6" height="3.6" fill="#2453a6" stroke="#222" stroke-width="0.32" transform="rotate(265 33.3 508.8)"/>
<circle cx="24.4" cy="510" r="1.8" fill="#f4e64a" stroke="#222" stroke-width="0.32"/>
<path d="M15.5 509.7L17.3 511.5L15.5 513.3L13.7 511.5Z" fill="#a3359a" stroke="#222" stroke-width="0.23" transform="rotate(265 15.5 511.5)"/>
<line x1="73.1" y1="482.9" x2="63.8" y2="482.4" stroke="#2a2a2a" stroke-width="0.468" />
<line x1="63.8" y1="482.4" x2="54.7" y2="482" stroke="#2a2a2a" stroke-width="0.468" />
<line x1="54.7" y1="482" x2="45.8" y2="474.5" stroke="#2a2a2a" stroke-width="0.468" />
<line x1="54.7" y1="482" x2="44.9" y2="488.3" stroke="#2a2a2a" stroke-width="0.468" />
<line x1="45.8" y1="474.5" x2="36.9" y2="469.5" stroke="#2a2a2a" stroke-width="0.468" />
<line x1="45.8" y1="474.5" x2="36.2" y2="478.5" stroke="#2a2a2a" stroke-width="0.468" />
<line x1="44.9" y1="488.3" x2="35.7" y2="487.7" stroke="#2a2a2a" stroke-width="0.468" />
<line x1="35.7" y1="487.7" x2="26.7" y2="487.4" stroke="#2a2a2a" stroke-width="0.468" />
<rect x="71.3" y="481.1" width="3.6" height="3.6" fill="#2453a6" stroke="#222" stroke-width="0.32" transform="rotate(276 73.1 482.9)"/>
<rect x="62" y="480.6" width="3.6" height="3.6" fill="#2453a6" stroke="#222" stroke-width="0.32" transform="rotate(276 63.8 482.4)"/>
<circle cx="54.7" cy="482" r="1.8" fill="#3fae49" stroke="#222" stroke-width="0.32"/>
<circle cx="45.8" cy="474.5" r="1.8" fill="#3fae49" stroke="#222" stroke-width="0.32"/>
<circle cx="44.9" cy="488.3" r="1.8" fill="#3fae49" stroke="#222" stroke-width="0.32"/>
<circle cx="36.9" cy="469.5" r="1.8" fill="#3fae49" stroke="#222" stroke-width="0.32"/>
<circle cx="36.2" cy="478.5" r="1.8" fill="#3fae49" stroke="#222" stroke-width="0.32"/>
<rect x="33.9" y="485.9" width="3.6" height="3.6" fill="#2453a6" stroke="#222" stroke-width="0.32" transform="rotate(276 35.7 487.7)"/>
<circle cx="26.7" cy="487.4" r="1.8" fill="#f4e64a" stroke="#222" stroke-width="0.32"/>
<line x1="76.1" y1="464.6" x2="68.1" y2="462.1" stroke="#2a2a2a" stroke-width="0.442" />
<line x1="68.1" y1="462.1" x2="60.6" y2="459.7" stroke="#2a2a2a" stroke-width="0.442" />
<line x1="60.6" y1="459.7" x2="53.9" y2="453.1" stroke="#2a2a2a" stroke-width="0.442" />
<line x1="60.6" y1="459.7" x2="51.4" y2="461.2" stroke="#2a2a2a" stroke-width="0.442" />
<line x1="41.4" y1="453.5" x2="33.3" y2="451.2" stroke="#2a2a2a" stroke-width="0.442" />
<line x1="50" y1="449.5" x2="47.5" y2="465" stroke="#666" stroke-width="0.3536" />
<line x1="41.4" y1="453.5" x2="48.7" y2="457" stroke="#666" stroke-width="0.3536" />
<rect x="74.4" y="462.9" width="3.4" height="3.4" fill="#2453a6" stroke="#222" stroke-width="0.31" transform="rotate(285 76.1 464.6)"/>
<rect x="66.4" y="460.4" width="3.4" height="3.4" fill="#2453a6" stroke="#222" stroke-width="0.31" transform="rotate(285 68.1 462.1)"/>
<circle cx="60.6" cy="459.7" r="1.7" fill="#3fae49" stroke="#222" stroke-width="0.31"/>
<circle cx="53.9" cy="453.1" r="1.7" fill="#3fae49" stroke="#222" stroke-width="0.31"/>
<circle cx="51.4" cy="461.2" r="1.7" fill="#3fae49" stroke="#222" stroke-width="0.31"/>
<rect x="39.7" y="451.8" width="3.4" height="3.4" fill="#2453a6" stroke="#222" stroke-width="0.31" transform="rotate(285 41.4 453.5)"/>
<circle cx="33.3" cy="451.2" r="1.7" fill="#f4e64a" stroke="#222" stroke-width="0.31"/>
<line x1="82" y1="449" x2="74" y2="446" stroke="#2a2a2a" stroke-width="0.442" />
<line x1="74" y1="446" x2="66" y2="442.8" stroke="#2a2a2a" stroke-width="0.442" />
<line x1="66" y1="442.8" x2="60.3" y2="433.9" stroke="#2a2a2a" stroke-width="0.442" />
<line x1="66" y1="442.8" x2="55.6" y2="445.5" stroke="#2a2a2a" stroke-width="0.442" />
<line x1="60.3" y1="433.9" x2="53.5" y2="427.1" stroke="#2a2a2a" stroke-width="0.442" />
<line x1="60.3" y1="433.9" x2="50.5" y2="434.8" stroke="#2a2a2a" stroke-width="0.442" />
<line x1="55.6" y1="445.5" x2="47.3" y2="442.8" stroke="#2a2a2a" stroke-width="0.442" />
<line x1="47.5" y1="424.5" x2="44" y2="444.5" stroke="#666" stroke-width="0.3536" />
<line x1="40.1" y1="426.4" x2="46.5" y2="428.5" stroke="#666" stroke-width="0.3536" />
<line x1="37.1" y1="434.2" x2="45" y2="436.5" stroke="#666" stroke-width="0.3536" />
<rect x="80.3" y="447.3" width="3.4" height="3.4" fill="#2453a6" stroke="#222" stroke-width="0.31" transform="rotate(293.5 82 449)"/>
<rect x="72.3" y="444.3" width="3.4" height="3.4" fill="#2453a6" stroke="#222" stroke-width="0.31" transform="rotate(293.5 74 446)"/>
<circle cx="66" cy="442.8" r="1.7" fill="#3fae49" stroke="#222" stroke-width="0.31"/>
<circle cx="60.3" cy="433.9" r="1.7" fill="#3fae49" stroke="#222" stroke-width="0.31"/>
<circle cx="55.6" cy="445.5" r="1.7" fill="#3fae49" stroke="#222" stroke-width="0.31"/>
<circle cx="53.5" cy="427.1" r="1.7" fill="#3fae49" stroke="#222" stroke-width="0.31"/>
<circle cx="50.5" cy="434.8" r="1.7" fill="#3fae49" stroke="#222" stroke-width="0.31"/>
<circle cx="47.3" cy="442.8" r="1.7" fill="#3fae49" stroke="#222" stroke-width="0.31"/>
<circle cx="40.1" cy="426.4" r="1.7" fill="#3fae49" stroke="#222" stroke-width="0.31"/>
<circle cx="37.1" cy="434.2" r="1.7" fill="#3fae49" stroke="#222" stroke-width="0.31"/>
<line x1="89.2" y1="437.8" x2="82.6" y2="433.3" stroke="#2a2a2a" stroke-width="0.442" />
<line x1="82.6" y1="433.3" x2="76.3" y2="428.9" stroke="#2a2a2a" stroke-width="0.442" />
<line x1="76.3" y1="428.9" x2="67.8" y2="427.6" stroke="#2a2a2a" stroke-width="0.442" />
<line x1="76.3" y1="428.9" x2="72.2" y2="421.4" stroke="#2a2a2a" stroke-width="0.442" />
<line x1="72.2" y1="421.4" x2="65.6" y2="416.9" stroke="#2a2a2a" stroke-width="0.442" />
<line x1="67.8" y1="427.6" x2="61.2" y2="423.2" stroke="#2a2a2a" stroke-width="0.442" />
<line x1="61.2" y1="423.2" x2="54.9" y2="418.7" stroke="#2a2a2a" stroke-width="0.442" />
<line x1="54.9" y1="418.7" x2="48.1" y2="414.3" stroke="#2a2a2a" stroke-width="0.442" />
<rect x="87.5" y="436.1" width="3.4" height="3.4" fill="#2453a6" stroke="#222" stroke-width="0.31" transform="rotate(300 89.2 437.8)"/>
<rect x="80.9" y="431.6" width="3.4" height="3.4" fill="#2453a6" stroke="#222" stroke-width="0.31" transform="rotate(300 82.6 433.3)"/>
<circle cx="76.3" cy="428.9" r="1.7" fill="#3fae49" stroke="#222" stroke-width="0.31"/>
<circle cx="67.8" cy="427.6" r="1.7" fill="#3fae49" stroke="#222" stroke-width="0.31"/>
<circle cx="72.2" cy="421.4" r="1.7" fill="#3fae49" stroke="#222" stroke-width="0.31"/>
<circle cx="65.6" cy="416.9" r="1.7" fill="#3fae49" stroke="#222" stroke-width="0.31"/>
<rect x="59.5" y="421.5" width="3.4" height="3.4" fill="#2453a6" stroke="#222" stroke-width="0.31" transform="rotate(300 61.2 423.2)"/>
<circle cx="54.9" cy="418.7" r="1.7" fill="#f4e64a" stroke="#222" stroke-width="0.31"/>
<path d="M48.1 412.6L49.8 414.3L48.1 416L46.4 414.3Z" fill="#a3359a" stroke="#222" stroke-width="0.21" transform="rotate(300 48.1 414.3)"/>
<line x1="98.7" y1="422.7" x2="93.6" y2="417.8" stroke="#2a2a2a" stroke-width="0.468" />
<line x1="93.6" y1="417.8" x2="88.6" y2="413.2" stroke="#2a2a2a" stroke-width="0.468" />
<line x1="88.6" y1="413.5" x2="79.2" y2="413.5" stroke="#2a2a2a" stroke-width="0.468" />
<line x1="88.5" y1="413.2" x2="88.5" y2="403.4" stroke="#2a2a2a" stroke-width="0.468" />
<line x1="79.2" y1="413.2" x2="71.9" y2="411.2" stroke="#2a2a2a" stroke-width="0.468" />
<line x1="79.2" y1="413.2" x2="76.8" y2="406" stroke="#2a2a2a" stroke-width="0.468" />
<line x1="88.6" y1="403.4" x2="81.4" y2="401.4" stroke="#2a2a2a" stroke-width="0.468" />
<line x1="88.6" y1="403.4" x2="86" y2="396.5" stroke="#2a2a2a" stroke-width="0.468" />
<line x1="71.9" y1="411.2" x2="66.9" y2="406.4" stroke="#2a2a2a" stroke-width="0.468" />
<line x1="76.8" y1="406" x2="71.5" y2="401.8" stroke="#2a2a2a" stroke-width="0.468" />
<line x1="81.4" y1="401.4" x2="76.4" y2="396.8" stroke="#2a2a2a" stroke-width="0.468" />
<line x1="86" y1="396.5" x2="81.1" y2="391.7" stroke="#2a2a2a" stroke-width="0.468" />
<line x1="62.3" y1="397.2" x2="57.1" y2="392.2" stroke="#2a2a2a" stroke-width="0.468" />
<line x1="71.5" y1="387.6" x2="66.7" y2="382.6" stroke="#2a2a2a" stroke-width="0.468" />
<line x1="64.3" y1="405.3" x2="79.4" y2="389.6" stroke="#666" stroke-width="0.37440000000000007" />
<line x1="71.8" y1="397.4" x2="66.9" y2="392.2" stroke="#666" stroke-width="0.37440000000000007" />
<line x1="68" y1="401.4" x2="62.3" y2="397.2" stroke="#666" stroke-width="0.37440000000000007" />
<line x1="75.6" y1="393.5" x2="71.5" y2="387.6" stroke="#666" stroke-width="0.37440000000000007" />
<rect x="96.9" y="420.9" width="3.6" height="3.6" fill="#2453a6" stroke="#222" stroke-width="0.32" transform="rotate(309 98.7 422.7)"/>
<rect x="91.8" y="416" width="3.6" height="3.6" fill="#2453a6" stroke="#222" stroke-width="0.32" transform="rotate(309 93.6 417.8)"/>
<circle cx="88.6" cy="413.2" r="1.8" fill="#3fae49" stroke="#222" stroke-width="0.32"/>
<circle cx="79.2" cy="413.2" r="1.8" fill="#3fae49" stroke="#222" stroke-width="0.32"/>
<circle cx="88.6" cy="403.4" r="1.8" fill="#3fae49" stroke="#222" stroke-width="0.32"/>
<rect x="70.1" y="409.4" width="3.6" height="3.6" fill="#2453a6" stroke="#222" stroke-width="0.32" transform="rotate(309 71.9 411.2)"/>
<rect x="75" y="404.2" width="3.6" height="3.6" fill="#2453a6" stroke="#222" stroke-width="0.32" transform="rotate(309 76.8 406)"/>
<rect x="79.6" y="399.6" width="3.6" height="3.6" fill="#2453a6" stroke="#222" stroke-width="0.32" transform="rotate(309 81.4 401.4)"/>
<rect x="84.2" y="394.7" width="3.6" height="3.6" fill="#2453a6" stroke="#222" stroke-width="0.32" transform="rotate(309 86 396.5)"/>
<circle cx="66.9" cy="406.4" r="1.8" fill="#f4e64a" stroke="#222" stroke-width="0.32"/>
<circle cx="71.5" cy="401.8" r="1.8" fill="#f4e64a" stroke="#222" stroke-width="0.32"/>
<circle cx="76.4" cy="396.8" r="1.8" fill="#f4e64a" stroke="#222" stroke-width="0.32"/>
<circle cx="81.1" cy="391.7" r="1.8" fill="#f4e64a" stroke="#222" stroke-width="0.32"/>
<path d="M66.9 390.4L68.7 392.2L66.9 394L65.1 392.2Z" fill="#a3359a" stroke="#222" stroke-width="0.23" transform="rotate(309 66.9 392.2)"/>
<rect x="60.5" y="395.4" width="3.6" height="3.6" fill="#2453a6" stroke="#222" stroke-width="0.32" transform="rotate(309 62.3 397.2)"/>
<circle cx="57.1" cy="392.2" r="1.8" fill="#f4e64a" stroke="#222" stroke-width="0.32"/>
<rect x="69.7" y="385.8" width="3.6" height="3.6" fill="#2453a6" stroke="#222" stroke-width="0.32" transform="rotate(309 71.5 387.6)"/>
<circle cx="66.7" cy="382.6" r="1.8" fill="#f4e64a" stroke="#222" stroke-width="0.32"/>
<line x1="116.6" y1="406" x2="112" y2="400.5" stroke="#2a2a2a" stroke-width="0.468" />
<line x1="112" y1="400.5" x2="107.4" y2="394.8" stroke="#2a2a2a" stroke-width="0.468" />
<line x1="107.4" y1="394.8" x2="97.4" y2="393.5" stroke="#2a2a2a" stroke-width="0.468" />
<line x1="107.4" y1="394.8" x2="108.7" y2="384.6" stroke="#2a2a2a" stroke-width="0.468" />
<line x1="97.4" y1="393.5" x2="90.3" y2="390.2" stroke="#2a2a2a" stroke-width="0.468" />
<line x1="97.4" y1="393.5" x2="96.1" y2="385.6" stroke="#2a2a2a" stroke-width="0.468" />
<line x1="108.7" y1="384.6" x2="101.5" y2="381" stroke="#2a2a2a" stroke-width="0.468" />
<line x1="108.7" y1="384.6" x2="107.3" y2="376.7" stroke="#2a2a2a" stroke-width="0.468" />
<line x1="90.3" y1="390.2" x2="85.7" y2="384.6" stroke="#2a2a2a" stroke-width="0.468" />
<line x1="96.1" y1="385.6" x2="91.5" y2="380.1" stroke="#2a2a2a" stroke-width="0.468" />
<line x1="101.5" y1="381" x2="97.2" y2="375.8" stroke="#2a2a2a" stroke-width="0.468" />
<line x1="107.3" y1="376.7" x2="102.8" y2="371.4" stroke="#2a2a2a" stroke-width="0.468" />
<line x1="85.1" y1="372.1" x2="80.5" y2="366.3" stroke="#2a2a2a" stroke-width="0.468" />
<line x1="90.6" y1="367.5" x2="86" y2="362" stroke="#2a2a2a" stroke-width="0.468" />
<line x1="83.4" y1="383.7" x2="101.8" y2="368.5" stroke="#666" stroke-width="0.37440000000000007" />
<line x1="88.5" y1="379.5" x2="85.1" y2="372.1" stroke="#666" stroke-width="0.37440000000000007" />
<line x1="94" y1="375" x2="90.6" y2="367.5" stroke="#666" stroke-width="0.37440000000000007" />
<rect x="114.8" y="404.2" width="3.6" height="3.6" fill="#2453a6" stroke="#222" stroke-width="0.32" transform="rotate(321 116.6 406)"/>
<rect x="110.2" y="398.7" width="3.6" height="3.6" fill="#2453a6" stroke="#222" stroke-width="0.32" transform="rotate(321 112 400.5)"/>
<circle cx="107.4" cy="394.8" r="1.8" fill="#3fae49" stroke="#222" stroke-width="0.32"/>
<circle cx="97.4" cy="393.5" r="1.8" fill="#3fae49" stroke="#222" stroke-width="0.32"/>
<circle cx="108.7" cy="384.6" r="1.8" fill="#3fae49" stroke="#222" stroke-width="0.32"/>
<rect x="88.5" y="388.4" width="3.6" height="3.6" fill="#2453a6" stroke="#222" stroke-width="0.32" transform="rotate(321 90.3 390.2)"/>
<rect x="94.3" y="383.8" width="3.6" height="3.6" fill="#2453a6" stroke="#222" stroke-width="0.32" transform="rotate(321 96.1 385.6)"/>
<rect x="99.7" y="379.2" width="3.6" height="3.6" fill="#2453a6" stroke="#222" stroke-width="0.32" transform="rotate(321 101.5 381)"/>
<rect x="105.5" y="374.9" width="3.6" height="3.6" fill="#2453a6" stroke="#222" stroke-width="0.32" transform="rotate(321 107.3 376.7)"/>
<circle cx="85.7" cy="384.6" r="1.8" fill="#f4e64a" stroke="#222" stroke-width="0.32"/>
<circle cx="91.5" cy="380.1" r="1.8" fill="#f4e64a" stroke="#222" stroke-width="0.32"/>
<circle cx="97.2" cy="375.8" r="1.8" fill="#f4e64a" stroke="#222" stroke-width="0.32"/>
<circle cx="102.8" cy="371.4" r="1.8" fill="#f4e64a" stroke="#222" stroke-width="0.32"/>
<rect x="83.3" y="370.3" width="3.6" height="3.6" fill="#2453a6" stroke="#222" stroke-width="0.32" transform="rotate(321 85.1 372.1)"/>
<circle cx="80.5" cy="366.3" r="1.8" fill="#f4e64a" stroke="#222" stroke-width="0.32"/>
<rect x="88.8" y="365.7" width="3.6" height="3.6" fill="#2453a6" stroke="#222" stroke-width="0.32" transform="rotate(321 90.6 367.5)"/>
<circle cx="86" cy="362" r="1.8" fill="#f4e64a" stroke="#222" stroke-width="0.32"/>
<line x1="132.5" y1="395.3" x2="128.2" y2="387.4" stroke="#2a2a2a" stroke-width="0.468" />
<line x1="128.2" y1="387.4" x2="123.9" y2="379.5" stroke="#2a2a2a" stroke-width="0.468" />
<line x1="123.9" y1="379.5" x2="115.8" y2="373.6" stroke="#2a2a2a" stroke-width="0.468" />
<line x1="123.5" y1="379.5" x2="123.5" y2="369.4" stroke="#2a2a2a" stroke-width="0.468" />
<line x1="123.9" y1="369.4" x2="119.7" y2="361.5" stroke="#2a2a2a" stroke-width="0.468" />
<line x1="115.8" y1="373.6" x2="111.8" y2="365.5" stroke="#2a2a2a" stroke-width="0.468" />
<line x1="111.8" y1="365.5" x2="107.9" y2="357.6" stroke="#2a2a2a" stroke-width="0.468" />
<rect x="130.7" y="393.5" width="3.6" height="3.6" fill="#2453a6" stroke="#222" stroke-width="0.32" transform="rotate(331 132.5 395.3)"/>
<rect x="126.4" y="385.6" width="3.6" height="3.6" fill="#2453a6" stroke="#222" stroke-width="0.32" transform="rotate(331 128.2 387.4)"/>
<circle cx="123.9" cy="379.5" r="1.8" fill="#3fae49" stroke="#222" stroke-width="0.32"/>
<circle cx="115.8" cy="373.6" r="1.8" fill="#3fae49" stroke="#222" stroke-width="0.32"/>
<circle cx="123.9" cy="369.4" r="1.8" fill="#3fae49" stroke="#222" stroke-width="0.32"/>
<circle cx="119.7" cy="361.5" r="1.8" fill="#3fae49" stroke="#222" stroke-width="0.32"/>
<rect x="110" y="363.7" width="3.6" height="3.6" fill="#2453a6" stroke="#222" stroke-width="0.32" transform="rotate(331 111.8 365.5)"/>
<circle cx="107.9" cy="357.6" r="1.8" fill="#f4e64a" stroke="#222" stroke-width="0.32"/>
<line x1="148.9" y1="389.1" x2="145.7" y2="382.2" stroke="#2a2a2a" stroke-width="0.442" />
<line x1="145.7" y1="382.2" x2="142.4" y2="375.1" stroke="#2a2a2a" stroke-width="0.442" />
<line x1="142.4" y1="375.1" x2="133.9" y2="370.3" stroke="#2a2a2a" stroke-width="0.442" />
<line x1="142.4" y1="375.1" x2="144.7" y2="365.5" stroke="#2a2a2a" stroke-width="0.442" />
<line x1="133.9" y1="370.3" x2="130.9" y2="363.5" stroke="#2a2a2a" stroke-width="0.442" />
<line x1="144.7" y1="365.5" x2="138.1" y2="360.5" stroke="#2a2a2a" stroke-width="0.442" />
<line x1="144.7" y1="365.5" x2="145.3" y2="357.2" stroke="#2a2a2a" stroke-width="0.442" />
<line x1="130.9" y1="363.5" x2="127.6" y2="356.5" stroke="#2a2a2a" stroke-width="0.442" />
<line x1="138.1" y1="360.5" x2="134.8" y2="353.3" stroke="#2a2a2a" stroke-width="0.442" />
<line x1="145.3" y1="357.2" x2="142.3" y2="350" stroke="#2a2a2a" stroke-width="0.442" />
<line x1="127.6" y1="356.5" x2="124.6" y2="349.4" stroke="#2a2a2a" stroke-width="0.442" />
<line x1="124.6" y1="349.4" x2="121.4" y2="342.5" stroke="#2a2a2a" stroke-width="0.442" />
<rect x="147.2" y="387.4" width="3.4" height="3.4" fill="#2453a6" stroke="#222" stroke-width="0.31" transform="rotate(340 148.9 389.1)"/>
<rect x="144" y="380.5" width="3.4" height="3.4" fill="#2453a6" stroke="#222" stroke-width="0.31" transform="rotate(340 145.7 382.2)"/>
<circle cx="142.4" cy="375.1" r="1.7" fill="#3fae49" stroke="#222" stroke-width="0.31"/>
<circle cx="133.9" cy="370.3" r="1.7" fill="#3fae49" stroke="#222" stroke-width="0.31"/>
<circle cx="144.7" cy="365.5" r="1.7" fill="#3fae49" stroke="#222" stroke-width="0.31"/>
<circle cx="130.9" cy="363.5" r="1.7" fill="#3fae49" stroke="#222" stroke-width="0.31"/>
<circle cx="138.1" cy="360.5" r="1.7" fill="#3fae49" stroke="#222" stroke-width="0.31"/>
<circle cx="145.3" cy="357.2" r="1.7" fill="#3fae49" stroke="#222" stroke-width="0.31"/>
<circle cx="127.6" cy="356.5" r="1.7" fill="#3fae49" stroke="#222" stroke-width="0.31"/>
<circle cx="134.8" cy="353.3" r="1.7" fill="#3fae49" stroke="#222" stroke-width="0.31"/>
<circle cx="142.3" cy="350" r="1.7" fill="#3fae49" stroke="#222" stroke-width="0.31"/>
<rect x="122.9" y="347.7" width="3.4" height="3.4" fill="#2453a6" stroke="#222" stroke-width="0.31" transform="rotate(340 124.6 349.4)"/>
<rect x="119.7" y="340.8" width="3.4" height="3.4" fill="#2453a6" stroke="#222" stroke-width="0.31" transform="rotate(340 121.4 342.5)"/>
<line x1="164" y1="384.1" x2="162.7" y2="376.9" stroke="#2a2a2a" stroke-width="0.442" />
<line x1="162.7" y1="376.9" x2="161.1" y2="370.3" stroke="#2a2a2a" stroke-width="0.442" />
<line x1="161.1" y1="370.3" x2="152.6" y2="364.6" stroke="#2a2a2a" stroke-width="0.442" />
<line x1="161.1" y1="370.3" x2="166.6" y2="361.5" stroke="#2a2a2a" stroke-width="0.442" />
<line x1="161.1" y1="370.3" x2="159.5" y2="363.1" stroke="#2a2a2a" stroke-width="0.442" />
<line x1="152.6" y1="364.6" x2="151" y2="357.3" stroke="#2a2a2a" stroke-width="0.442" />
<line x1="151" y1="357.3" x2="149.5" y2="350.4" stroke="#2a2a2a" stroke-width="0.442" />
<line x1="166.6" y1="361.5" x2="161.5" y2="355" stroke="#2a2a2a" stroke-width="0.442" />
<line x1="161.5" y1="355" x2="160" y2="348" stroke="#2a2a2a" stroke-width="0.442" />
<line x1="166.6" y1="361.5" x2="168.6" y2="353.7" stroke="#2a2a2a" stroke-width="0.442" />
<line x1="168.6" y1="353.7" x2="167.3" y2="346.7" stroke="#2a2a2a" stroke-width="0.442" />
<rect x="162.3" y="382.4" width="3.4" height="3.4" fill="#2453a6" stroke="#222" stroke-width="0.31" transform="rotate(348 164 384.1)"/>
<rect x="161" y="375.2" width="3.4" height="3.4" fill="#2453a6" stroke="#222" stroke-width="0.31" transform="rotate(348 162.7 376.9)"/>
<circle cx="161.1" cy="370.3" r="1.7" fill="#3fae49" stroke="#222" stroke-width="0.31"/>
<circle cx="152.6" cy="364.6" r="1.7" fill="#3fae49" stroke="#222" stroke-width="0.31"/>
<circle cx="166.6" cy="361.5" r="1.7" fill="#3fae49" stroke="#222" stroke-width="0.31"/>
<rect x="157.8" y="361.4" width="3.4" height="3.4" fill="#2453a6" stroke="#222" stroke-width="0.31" transform="rotate(348 159.5 363.1)"/>
<rect x="149.3" y="355.6" width="3.4" height="3.4" fill="#2453a6" stroke="#222" stroke-width="0.31" transform="rotate(348 151 357.3)"/>
<circle cx="149.5" cy="350.4" r="1.7" fill="#f4e64a" stroke="#222" stroke-width="0.31"/>
<rect x="159.8" y="353.3" width="3.4" height="3.4" fill="#2453a6" stroke="#222" stroke-width="0.31" transform="rotate(348 161.5 355)"/>
<circle cx="160" cy="348" r="1.7" fill="#f4e64a" stroke="#222" stroke-width="0.31"/>
<rect x="166.9" y="352" width="3.4" height="3.4" fill="#2453a6" stroke="#222" stroke-width="0.31" transform="rotate(348 168.6 353.7)"/>
<circle cx="167.3" cy="346.7" r="1.7" fill="#f4e64a" stroke="#222" stroke-width="0.31"/>
<line x1="181.5" y1="381.5" x2="181.5" y2="373.6" stroke="#2a2a2a" stroke-width="0.468" />
<line x1="181.5" y1="373.6" x2="181.5" y2="365.7" stroke="#2a2a2a" stroke-width="0.468" />
<line x1="181.5" y1="365.7" x2="181.5" y2="357.6" stroke="#2a2a2a" stroke-width="0.468" />
<rect x="179.8" y="379.7" width="3.6" height="3.6" fill="#2453a6" stroke="#222" stroke-width="0.32" transform="rotate(357 181.6 381.5)"/>
<rect x="179.8" y="371.8" width="3.6" height="3.6" fill="#2453a6" stroke="#222" stroke-width="0.32" transform="rotate(357 181.6 373.6)"/>
<circle cx="181.6" cy="365.7" r="1.8" fill="#3fae49" stroke="#222" stroke-width="0.32"/>
<circle cx="181.6" cy="357.6" r="1.8" fill="#3fae49" stroke="#222" stroke-width="0.32"/>
<rect x="424.6" y="340.4" width="230.3" height="132.9" fill="none" stroke="#333" stroke-width="1.1"/>
<circle cx="491.9" cy="355.6" r="6.85" fill="#e0187f" stroke="#231f20" stroke-width="1.2"/>
<circle cx="513.26" cy="355.6" r="6.85" fill="#be1e2d" stroke="#231f20" stroke-width="1.2"/>
<circle cx="534.62" cy="355.6" r="6.85" fill="#f26b22" stroke="#231f20" stroke-width="1.2"/>
<circle cx="555.98" cy="355.6" r="6.85" fill="#e0187f" stroke="#231f20" stroke-width="1.2"/>
<circle cx="577.34" cy="355.6" r="6.85" fill="#e0187f" stroke="#231f20" stroke-width="1.2"/>
<circle cx="598.7" cy="355.6" r="6.85" fill="#f26b22" stroke="#231f20" stroke-width="1.2"/>
<circle cx="620.06" cy="355.6" r="6.85" fill="#f26b22" stroke="#231f20" stroke-width="1.2"/>
<circle cx="641.42" cy="355.6" r="6.85" fill="#f26b22" stroke="#231f20" stroke-width="1.2"/>
<circle cx="491.9" cy="375.5" r="6.85" fill="#e0187f" stroke="#231f20" stroke-width="1.2"/>
<circle cx="513.26" cy="375.5" r="6.85" fill="#e0187f" stroke="#231f20" stroke-width="1.2"/>
<circle cx="534.62" cy="375.5" r="6.85" fill="#be1e2d" stroke="#231f20" stroke-width="1.2"/>
<circle cx="555.98" cy="375.5" r="6.85" fill="#be1e2d" stroke="#231f20" stroke-width="1.2"/>
<circle cx="577.34" cy="375.5" r="6.85" fill="#ec0a8c" stroke="#231f20" stroke-width="1.2"/>
<circle cx="598.7" cy="375.5" r="6.85" fill="#f26b22" stroke="#231f20" stroke-width="1.2"/>
<circle cx="620.06" cy="375.5" r="6.85" fill="#f26b22" stroke="#231f20" stroke-width="1.2"/>
<circle cx="641.42" cy="375.5" r="6.85" fill="#be1e2d" stroke="#231f20" stroke-width="1.2"/>
<circle cx="491.9" cy="406.6" r="6.85" fill="#1c74bc" stroke="#231f20" stroke-width="1.2"/>
<circle cx="513.26" cy="406.6" r="6.85" fill="#0c9447" stroke="#231f20" stroke-width="1.2"/>
<circle cx="534.62" cy="406.6" r="6.85" fill="#1c74bc" stroke="#231f20" stroke-width="1.2"/>
<circle cx="555.98" cy="406.6" r="6.85" fill="#0c9447" stroke="#231f20" stroke-width="1.2"/>
<circle cx="577.34" cy="406.6" r="6.85" fill="#0c9447" stroke="#231f20" stroke-width="1.2"/>
<circle cx="598.7" cy="406.6" r="6.85" fill="#0c9447" stroke="#231f20" stroke-width="1.2"/>
<circle cx="620.06" cy="406.6" r="6.85" fill="#1c74bc" stroke="#231f20" stroke-width="1.2"/>
<circle cx="641.42" cy="406.6" r="6.85" fill="#0c9447" stroke="#231f20" stroke-width="1.2"/>
<circle cx="491.9" cy="426.3" r="6.85" fill="#ec0a8c" stroke="#231f20" stroke-width="1.2"/>
<circle cx="513.26" cy="426.3" r="6.85" fill="#be1e2d" stroke="#231f20" stroke-width="1.2"/>
<circle cx="534.62" cy="426.3" r="6.85" fill="#1c74bc" stroke="#231f20" stroke-width="1.2"/>
<circle cx="555.98" cy="426.3" r="6.85" fill="#0c9447" stroke="#231f20" stroke-width="1.2"/>
<circle cx="577.34" cy="426.3" r="6.85" fill="#be1e2d" stroke="#231f20" stroke-width="1.2"/>
<circle cx="598.7" cy="426.3" r="6.85" fill="#1c74bc" stroke="#231f20" stroke-width="1.2"/>
<circle cx="620.06" cy="426.3" r="6.85" fill="#0c9447" stroke="#231f20" stroke-width="1.2"/>
<circle cx="641.42" cy="426.3" r="6.85" fill="#be1e2d" stroke="#231f20" stroke-width="1.2"/>
<text x="454" y="368.9" font-size="8.1" font-weight="bold" text-anchor="middle" fill="#222" font-style="normal" >Control</text>
<text x="452.3" y="410.7" font-size="8.1" font-weight="bold" text-anchor="middle" fill="#222" font-style="normal" >Fucose</text>
<text x="452.8" y="420.7" font-size="8.1" font-weight="bold" text-anchor="middle" fill="#222" font-style="normal" >Treated</text>
<circle cx="489.3" cy="456.6" r="4.6" fill="#be1e2d" stroke="#231f20" stroke-width="0.9"/>
<text x="489.3" y="468.4" font-size="6" font-weight="normal" text-anchor="middle" fill="#333" font-style="normal" >High Mannose</text>
<circle cx="521.9" cy="456.6" r="4.6" fill="#f26b22" stroke="#231f20" stroke-width="0.9"/>
<text x="521.9" y="468.4" font-size="6" font-weight="normal" text-anchor="middle" fill="#333" font-style="normal" >Neutral</text>
<circle cx="551.4" cy="456.6" r="4.6" fill="#0c9447" stroke="#231f20" stroke-width="0.9"/>
<text x="551.4" y="468.4" font-size="6" font-weight="normal" text-anchor="middle" fill="#333" font-style="normal" >Fucosylated</text>
<circle cx="583.8" cy="456.6" r="4.6" fill="#e0187f" stroke="#231f20" stroke-width="0.9"/>
<text x="583.8" y="468.4" font-size="6" font-weight="normal" text-anchor="middle" fill="#333" font-style="normal" >Sialylated</text>
<circle cx="626.4" cy="456.6" r="4.6" fill="#1c74bc" stroke="#231f20" stroke-width="0.9"/>
<text x="626.4" y="468.4" font-size="6" font-weight="normal" text-anchor="middle" fill="#333" font-style="normal" >Sialylofucosylated</text>
<text x="437.2" y="458.6" font-size="6" font-weight="normal" text-anchor="start" fill="#333" font-style="normal" text-decoration="underline"><tspan font-style="italic">N</tspan>-Glycan</text>
<text x="437.2" y="465.6" font-size="6" font-weight="normal" text-anchor="start" fill="#333" font-style="normal" text-decoration="underline">Subtypes:</text>
<polyline points="426.43,577.61 427,577.43 427.58,577.28 428.15,577.19 428.72,577.19 429.3,577.27 429.87,577.42 430.44,577.61 431.02,577.79 431.59,577.93 432.16,578.01 432.74,578.01 433.31,577.92 433.88,577.76 434.46,577.58 435.03,577.39 435.61,577.25 436.18,577.18 436.75,577.2 437.33,577.3 437.9,577.45 438.47,577.64 439.05,577.82 439.62,577.96 440.19,578.02 440.77,577.99 441.34,577.89 441.91,577.73 442.49,577.54 443.06,577.36 443.63,577.24 444.21,577.18 444.78,577.21 445.35,577.32 445.93,577.49 446.5,577.68 447.08,577.85 447.65,577.97 448.22,578.02 448.8,577.98 449.37,577.86 449.94,577.69 450.52,577.5 451.09,577.33 451.66,577.22 452.24,577.18 452.81,577.23 453.38,577.35 453.96,577.52 454.53,577.71 455.1,577.88 455.68,577.99 456.25,578.02 456.82,577.96 457.4,577.83 457.97,577.66 458.55,577.47 459.12,577.31 459.69,577.2 460.27,577.18 460.84,577.25 461.41,577.38 461.99,577.56 462.56,577.75 463.13,577.91 463.71,578 464.28,578.01 464.85,577.94 465.43,577.8 466,577.62 466.57,577.44 467.15,577.28 467.72,577.19 468.29,577.19 468.87,577.27 469.44,577.41 470.02,577.6 470.59,577.78 471.16,577.93 471.74,578.01 472.31,578.01 472.88,577.92 473.46,577.77 474.03,577.59 474.6,577.4 475.18,577.26 475.75,577.19 476.32,577.2 476.9,577.29 477.47,577.45 478.04,577.63 478.62,577.81 479.19,577.95 479.76,578.02 480.34,578 480.91,577.9 481.49,577.74 482.06,577.55 482.63,577.37 483.21,577.24 483.78,577.18 484.35,577.21 484.93,577.32 485.5,577.48 486.07,577.67 486.65,577.84 487.22,577.97 487.79,578.02 488.37,577.98 488.94,577.87 489.51,577.7 490.09,577.51 490.66,577.34 491.23,577.22 491.81,577.18 492.38,577.22 492.96,577.34 493.53,577.52 494.1,577.7 494.68,577.87 495.25,577.77 495.82,577.78 496.4,577.76 496.97,577.7 497.54,577.63 498.12,577.55 498.69,577.48 499.26,577.43 499.84,577.42 500.41,577.45 500.98,577.5 501.56,577.58 502.13,577.66 502.7,577.73 503.28,577.77 503.85,577.78 504.43,577.75 505,577.69 505.57,577.61 506.15,577.53 506.72,577.47 507.29,577.43 507.87,577.42 508.44,577.45 509.01,577.52 509.59,577.59 510.16,577.67 510.73,577.74 511.31,577.78 511.88,577.78 512.45,577.74 513.03,577.68 513.6,577.6 514.17,577.52 514.75,577.46 515.32,577.42 515.9,577.43 516.47,577.46 517.04,577.53 517.62,577.61 518.19,577.19 518.76,577.25 519.34,577.28 519.91,577.27 520.48,577.23 521.06,577.16 521.63,577.08 522.2,577 522.78,576.95 523.35,576.92 523.92,576.93 524.5,576.98 525.07,577.05 525.64,577.13 526.22,577.2 526.79,577.26 527.37,577.28 527.94,577.27 528.51,577.22 529.09,577.15 529.66,577.07 530.23,576.99 530.81,576.94 531.38,576.92 531.95,576.94 532.53,576.99 533.1,577.06 533.67,577.14 534.25,577.21 534.82,577.26 535.39,577.28 535.97,577.26 536.54,577.21 537.11,577.13 537.69,577.05 538.26,576.98 538.84,576.93 539.41,576.91 539.98,576.93 540.56,576.98 541.13,577.03 541.7,577.09 542.28,577.12 542.85,577.12 543.42,577.06 544,576.94 544.57,576.78 545.14,576.58 545.72,576.36 546.29,576.15 546.86,575.98 547.44,575.86 548.01,575.81 548.58,575.82 549.16,575.89 549.73,576.01 550.31,576.16 550.88,576.3 551.45,576.43 552.03,576.54 552.6,576.61 553.17,576.66 553.75,576.69 554.32,576.72 554.89,576.76 555.47,576.81 556.04,576.89 556.61,576.98 557.19,577.07 557.76,577.16 558.33,577.22 558.91,577.24 559.48,577.22 560.05,577.15 560.63,577.04 561.2,576.89 561.78,576.73 562.35,576.56 562.92,576.4 563.5,576.25 564.07,576.13 564.64,576.02 565.22,575.94 565.79,575.87 566.36,575.82 566.94,575.79 567.51,575.77 568.08,575.77 568.66,575.8 569.23,575.86 569.8,575.94 570.38,576.06 570.95,576.21 571.52,576.38 572.1,576.57 572.67,576.76 573.25,576.93 573.82,577.07 574.39,577.17 574.97,577.22 575.54,577.23 576.11,577.19 576.69,577.12 577.26,577.05 577.83,576.98 578.41,576.93 578.98,576.92 579.55,576.94 580.13,577 580.7,577.07 581.27,577.15 581.85,577.22 582.42,577.27 582.99,577.28 583.57,577.25 584.14,577.2 584.72,577.12 585.29,577.03 585.86,576.96 586.44,576.92 587.01,576.9 587.58,576.92 588.16,576.97 588.73,577.03 589.3,577.09 589.88,577.12 590.45,577.12 591.02,577.08 591.6,576.99 592.17,576.87 592.74,576.72 593.32,576.56 593.89,576.41 594.46,576.29 595.04,576.2 595.61,576.16 596.19,576.15 596.76,576.17 597.33,576.21 597.91,576.25 598.48,576.28 599.05,576.29 599.63,576.29 600.2,576.28 600.77,576.27 601.35,576.27 601.92,576.3 602.49,576.35 603.07,576.44 603.64,576.57 604.21,576.71 604.79,576.86 605.36,576.99 605.93,577.09 606.51,577.16 607.08,577.18 607.66,577.16 608.23,577.11 608.8,577.04 609.38,576.98 609.95,576.93 610.52,576.91 611.1,576.93 611.67,576.98 612.24,577.05 612.82,577.13 613.39,577.21 613.96,577.26 614.54,577.28 615.11,577.26 615.68,577.21 616.26,577.14 616.83,577.06 617.4,576.99 617.98,576.94 618.55,576.92 619.13,576.94 619.7,576.99 620.27,577.07 620.85,577.15 621.42,577.22 621.99,577.27 622.57,577.28 623.14,577.26 623.71,577.2 624.29,577.12 624.86,577.04 625.43,576.97 626.01,576.93 626.58,576.92 627.15,576.95 627.73,577.01 628.3,577.08 628.87,577.16 629.45,577.23 630.02,577.27 630.6,577.28 631.17,577.25 631.74,577.19 632.32,577.11 632.89,577.03 633.46,576.96 634.04,576.93 634.61,576.92 635.18,576.96 635.76,577.02 636.33,577.1 636.9,577.18 637.48,577.24 638.05,577.28 638.62,577.27 639.2,577.24 639.77,577.17 640.34,577.09 640.92,577.01 641.49,576.95 642.07,576.92 642.64,576.93 643.21,576.97 643.79,577.03 644.36,577.11 644.93,577.19 645.51,577.25 646.08,577.28 646.65,577.27 647.23,577.23 647.8,577.16 648.37,577.08 648.95,577 649.52,576.95 650.09,576.92 650.67,576.93 651.24,576.98 651.81,577.05 652.39,577.13 652.96,577.21 653.54,577.26 654.11,577.28" fill="none" stroke="#2858a6" stroke-width="1.05" stroke-linejoin="round"/>
<polyline points="426.43,579 427,579 427.58,579 428.15,579 428.72,579 429.3,579 429.87,579 430.44,579 431.02,579 431.59,579 432.16,579 432.74,579 433.31,579 433.88,579 434.46,579 435.03,579 435.61,579 436.18,579 436.75,579 437.33,579 437.9,579 438.47,579 439.05,579 439.62,579 440.19,579 440.77,579 441.34,579 441.91,579 442.49,579 443.06,579 443.63,579 444.21,579 444.78,579 445.35,579 445.93,579 446.5,579 447.08,579 447.65,579 448.22,579 448.8,579 449.37,579 449.94,579 450.52,579 451.09,579 451.66,579 452.24,579 452.81,579 453.38,579 453.96,579 454.53,579 455.1,579 455.68,579 456.25,579 456.82,579 457.4,579 457.97,579 458.55,579 459.12,579 459.69,579 460.27,579 460.84,579 461.41,579 461.99,579 462.56,579 463.13,579 463.71,579 464.28,579 464.85,579 465.43,579 466,579 466.57,579 467.15,579 467.72,579 468.29,579 468.87,579 469.44,579 470.02,579 470.59,579 471.16,579 471.74,579 472.31,579 472.88,579 473.46,579 474.03,579 474.6,579 475.18,579 475.75,579 476.32,579 476.9,579 477.47,579 478.04,579 478.62,579 479.19,579 479.76,579 480.34,579 480.91,579 481.49,579 482.06,579 482.63,579 483.21,579 483.78,579 484.35,579 484.93,579 485.5,579 486.07,579 486.65,579 487.22,579 487.79,579 488.37,579 488.94,579.01 489.51,579.02 490.09,579.06 490.66,579.16 491.23,579.36 491.81,579.76 492.38,580.44 492.96,581.52 493.53,583 494.1,584.82 494.68,586.72 495.25,588.34 495.82,589.33 496.4,589.42 496.97,588.6 497.54,587.08 498.12,585.2 498.69,583.35 499.26,581.78 499.84,580.62 500.41,579.87 500.98,579.42 501.56,579.19 502.13,579.08 502.7,579.03 503.28,579.01 503.85,579 504.43,579 505,579 505.57,579 506.15,579 506.72,579 507.29,579 507.87,579 508.44,579 509.01,579 509.59,579.01 510.16,579.04 510.73,579.11 511.31,579.28 511.88,579.64 512.45,580.35 513.03,581.57 513.6,583.48 514.17,586.13 514.75,589.36 515.32,592.74 515.9,595.64 516.47,597.4 517.04,597.57 517.62,596.1 518.19,593.39 518.76,590.05 519.34,586.74 519.91,583.96 520.48,581.9 521.06,580.55 521.63,579.76 522.2,579.35 522.78,579.15 523.35,579.07 523.92,579.04 524.5,579.04 525.07,579.04 525.64,579.05 526.22,579.06 526.79,579.08 527.37,579.1 527.94,579.12 528.51,579.15 529.09,579.18 529.66,579.21 530.23,579.25 530.81,579.3 531.38,579.36 531.95,579.42 532.53,579.5 533.1,579.58 533.67,579.67 534.25,579.78 534.82,579.89 535.39,580.02 535.97,580.16 536.54,580.31 537.11,580.48 537.69,580.66 538.26,580.85 538.84,581.05 539.41,581.26 539.98,581.48 540.56,581.71 541.13,581.94 541.7,582.18 542.28,582.42 542.85,582.66 543.42,582.89 544,583.12 544.57,583.34 545.14,583.55 545.72,583.74 546.29,583.92 546.86,584.07 547.44,584.21 548.01,584.32 548.58,584.41 549.16,584.46 549.73,584.49 550.31,584.5 550.88,584.47 551.45,584.42 552.03,584.34 552.6,584.23 553.17,584.1 553.75,583.95 554.32,583.78 554.89,583.59 555.47,583.38 556.04,583.17 556.61,582.94 557.19,582.71 557.76,582.47 558.33,582.23 558.91,582.01 559.48,581.81 560.05,581.68 560.63,581.68 561.2,581.95 561.78,582.69 562.35,584.13 562.92,586.51 563.5,589.88 564.07,594.04 564.64,598.42 565.22,602.17 565.79,604.39 566.36,604.51 566.94,602.46 567.51,598.74 568.08,594.21 568.66,589.73 569.23,585.95 569.8,583.15 570.38,581.31 570.95,580.24 571.52,579.67 572.1,579.41 572.67,579.32 573.25,579.31 573.82,579.35 574.39,579.43 574.97,579.53 575.54,579.66 576.11,579.82 576.69,579.99 577.26,580.19 577.83,580.39 578.41,580.61 578.98,580.82 579.55,581.02 580.13,581.19 580.7,581.34 581.27,581.44 581.85,581.49 582.42,581.5 582.99,581.45 583.57,581.36 584.14,581.22 584.72,581.06 585.29,580.87 585.86,580.67 586.44,580.48 587.01,580.31 587.58,580.19 588.16,580.14 588.73,580.16 589.3,580.29 589.88,580.52 590.45,580.84 591.02,581.24 591.6,581.67 592.17,582.07 592.74,582.39 593.32,582.57 593.89,582.58 594.46,582.43 595.04,582.12 595.61,581.72 596.19,581.27 596.76,580.82 597.33,580.43 597.91,580.12 598.48,579.89 599.05,579.75 599.63,579.69 600.2,579.68 600.77,579.72 601.35,579.79 601.92,579.87 602.49,579.98 603.07,580.08 603.64,580.2 604.21,580.31 604.79,580.43 605.36,580.54 605.93,580.64 606.51,580.73 607.08,580.82 607.66,580.89 608.23,580.94 608.8,580.98 609.38,581 609.95,581 610.52,580.98 611.1,580.95 611.67,580.9 612.24,580.84 612.82,580.76 613.39,580.67 613.96,580.57 614.54,580.46 615.11,580.36 615.68,580.25 616.26,580.14 616.83,580.04 617.4,579.94 617.98,579.85 618.55,579.77 619.13,579.7 619.7,579.65 620.27,579.6 620.85,579.57 621.42,579.56 621.99,579.56 622.57,579.57 623.14,579.59 623.71,579.63 624.29,579.67 624.86,579.73 625.43,579.79 626.01,579.86 626.58,579.94 627.15,580.01 627.73,580.09 628.3,580.17 628.87,580.24 629.45,580.31 630.02,580.37 630.6,580.42 631.17,580.46 631.74,580.48 632.32,580.5 632.89,580.5 633.46,580.49 634.04,580.46 634.61,580.42 635.18,580.37 635.76,580.31 636.33,580.24 636.9,580.17 637.48,580.09 638.05,580 638.62,579.92 639.2,579.83 639.77,579.74 640.34,579.66 640.92,579.58 641.49,579.51 642.07,579.44 642.64,579.38 643.21,579.32 643.79,579.27 644.36,579.22 644.93,579.19 645.51,579.15 646.08,579.12 646.65,579.1 647.23,579.08 647.8,579.06 648.37,579.05 648.95,579.04 649.52,579.03 650.09,579.02 650.67,579.02 651.24,579.01 651.81,579.01 652.39,579.01 652.96,579 653.54,579 654.11,579" fill="none" stroke="#ad2c67" stroke-width="1.05" stroke-linejoin="round"/>
<polyline points="426.43,579.56 427,579.34 427.58,579.05 428.15,578.88 428.72,579.19 429.3,579.46 429.87,579.63 430.44,579.7 431.02,579.65 431.59,579.49 432.16,579.23 432.74,578.92 433.31,579 433.88,579.3 434.46,579.54 435.03,579.67 435.61,579.69 436.18,579.6 436.75,579.39 437.33,579.11 437.9,578.81 438.47,579.13 439.05,579.41 439.62,579.6 440.19,579.7 440.77,579.67 441.34,579.53 441.91,579.29 442.49,578.99 443.06,578.94 443.63,579.24 444.21,579.49 444.78,579.65 445.35,579.7 445.93,579.63 446.5,579.45 447.08,579.18 447.65,578.86 448.22,579.06 448.8,579.35 449.37,579.57 449.94,579.69 450.52,579.68 451.09,579.57 451.66,579.35 452.24,579.06 452.81,578.87 453.38,579.18 453.96,579.45 454.53,579.63 455.1,579.7 455.68,579.65 456.25,579.49 456.82,579.24 457.4,578.93 457.97,578.99 458.55,579.29 459.12,579.53 459.69,579.67 460.27,579.69 460.84,579.6 461.41,579.4 461.99,579.13 462.56,578.8 463.13,579.12 463.71,579.4 464.28,579.6 464.85,579.69 465.43,579.67 466,579.54 466.57,579.3 467.15,579 467.72,578.92 468.29,579.23 468.87,579.49 469.44,579.65 470.02,579.7 470.59,579.63 471.16,579.45 471.74,579.19 472.31,578.87 472.88,579.05 473.46,579.34 474.03,579.56 474.6,579.68 475.18,579.69 475.75,579.57 476.32,579.36 476.9,579.07 477.47,578.85 478.04,579.17 478.62,579.44 479.19,579.62 479.76,579.7 480.34,579.66 480.91,579.5 481.49,579.25 482.06,578.94 482.63,578.98 483.21,579.28 483.78,579.52 484.35,579.67 484.93,579.7 485.5,579.61 486.07,579.41 486.65,579.14 487.22,578.82 487.79,579.11 488.37,579.39 488.94,579.59 489.51,579.69 490.09,579.68 490.66,579.54 491.23,579.31 491.81,579.01 492.38,578.91 492.96,579.22 493.53,579.48 494.1,579.65 494.68,579.7 495.25,578.97 495.82,578.93 496.4,578.88 496.97,578.82 497.54,578.85 498.12,578.91 498.69,578.95 499.26,578.98 499.84,578.98 500.41,578.96 500.98,578.91 501.56,578.86 502.13,578.81 502.7,578.87 503.28,578.93 503.85,578.96 504.43,578.98 505,578.97 505.57,578.94 506.15,578.89 506.72,578.83 507.29,578.83 507.87,578.89 508.44,578.94 509.01,578.97 509.59,578.98 510.16,578.96 510.73,578.92 511.31,578.87 511.88,578.81 512.45,578.86 513.03,578.92 513.6,578.96 514.17,578.98 514.75,578.98 515.32,578.95 515.9,578.9 516.47,578.84 517.04,578.82 517.62,578.88 518.19,578.94 518.76,578.97 519.34,578.99 519.91,579 520.48,579.01 521.06,579.08 521.63,579.28 522.2,579.81 522.78,580.78 523.35,582.31 523.92,584.53 524.5,587.43 525.07,590.82 525.64,594.25 526.22,597.16 526.79,598.96 527.37,599.39 527.94,598.28 528.51,595.96 529.09,592.99 529.66,589.97 530.23,587.35 530.81,585.37 531.38,584.04 531.95,583.28 532.53,582.91 533.1,582.68 533.67,582.47 534.25,582.2 534.82,581.87 535.39,581.49 535.97,581.16 536.54,581 537.11,581.38 537.69,582.57 538.26,585.06 538.84,589.39 539.41,595.86 539.98,604.17 540.56,613.25 541.13,621.26 541.7,626.25 542.28,626.92 542.85,623.02 543.42,615.7 544,606.88 544.57,598.46 545.14,591.71 545.72,587.06 546.29,584.29 546.86,582.98 547.44,582.55 548.01,582.56 548.58,582.75 549.16,582.99 549.73,583.23 550.31,583.43 550.88,583.59 551.45,583.73 552.03,583.97 552.6,584.21 553.17,584.47 553.75,584.76 554.32,585.04 554.89,585.25 555.47,585.29 556.04,585.08 556.61,584.68 557.19,584.19 557.76,583.63 558.33,583.1 558.91,582.63 559.48,582.21 560.05,581.83 560.63,581.46 561.2,581.11 561.78,580.88 562.35,580.7 562.92,580.55 563.5,580.45 564.07,580.48 564.64,580.72 565.22,581.33 565.79,582.51 566.36,584.47 566.94,587.39 567.51,591.12 568.08,595.34 568.66,599.54 569.23,603.03 569.8,605.19 570.38,605.63 570.95,604.35 571.52,601.84 572.1,598.7 572.67,595.55 573.25,592.92 573.82,591.04 574.39,589.88 574.97,589.21 575.54,588.75 576.11,588.23 576.69,587.64 577.26,586.82 577.83,585.86 578.41,585.04 578.98,584.77 579.55,585.69 580.13,588.6 580.7,594.31 581.27,603.31 581.85,615.2 582.42,628.29 582.99,639.88 583.57,647.08 584.14,647.89 584.72,642.1 585.29,631.42 585.86,618.68 586.44,606.76 587.01,597.41 587.58,591.2 588.16,587.79 588.73,586.36 589.3,586.08 589.88,586.32 590.45,586.67 591.02,586.92 591.6,587.05 592.17,586.91 592.74,586.54 593.32,585.96 593.89,585.26 594.46,584.51 595.04,583.8 595.61,583.19 596.19,582.79 596.76,582.59 597.33,582.54 597.91,582.59 598.48,582.72 599.05,582.88 599.63,583.04 600.2,583.17 600.77,583.24 601.35,583.38 601.92,583.43 602.49,583.38 603.07,583.23 603.64,582.97 604.21,582.64 604.79,582.25 605.36,581.82 605.93,581.43 606.51,581.13 607.08,580.87 607.66,580.65 608.23,580.49 608.8,580.41 609.38,580.42 609.95,580.56 610.52,580.85 611.1,581.41 611.67,582.16 612.24,583.05 612.82,584.04 613.39,585.08 613.96,586.12 614.54,587.06 615.11,587.85 615.68,588.43 616.26,588.85 616.83,588.95 617.4,588.74 617.98,588.23 618.55,587.5 619.13,586.61 619.7,585.66 620.27,584.75 620.85,584.02 621.42,583.51 621.99,583.17 622.57,582.99 623.14,582.94 623.71,582.96 624.29,583.02 624.86,583.04 625.43,583 626.01,582.98 626.58,582.86 627.15,582.61 627.73,582.25 628.3,581.81 628.87,581.32 629.45,580.82 630.02,580.35 630.6,579.98 631.17,579.77 631.74,579.61 632.32,579.52 632.89,579.47 633.46,579.45 634.04,579.47 634.61,579.52 635.18,579.6 635.76,579.81 636.33,580.08 636.9,580.36 637.48,580.64 638.05,580.9 638.62,581.13 639.2,581.33 639.77,581.48 640.34,581.61 640.92,581.8 641.49,581.93 642.07,581.99 642.64,581.98 643.21,581.9 643.79,581.77 644.36,581.61 644.93,581.44 645.51,581.36 646.08,581.38 646.65,581.44 647.23,581.54 647.8,581.66 648.37,581.79 648.95,581.91 649.52,581.99 650.09,582.02 650.67,582.1 651.24,582.1 651.81,581.99 652.39,581.77 652.96,581.47 653.54,581.1 654.11,580.69" fill="none" stroke="#2858a6" stroke-width="1.05" stroke-linejoin="round"/>
<polyline points="426.43,578 427,578 427.58,578 428.15,578 428.72,578 429.3,578 429.87,578 430.44,578 431.02,578 431.59,578 432.16,578 432.74,578 433.31,578 433.88,578 434.46,578 435.03,578 435.61,578 436.18,578 436.75,578 437.33,578 437.9,578 438.47,578 439.05,578 439.62,578 440.19,578 440.77,578 441.34,578 441.91,578 442.49,578 443.06,578 443.63,578 444.21,578 444.78,578 445.35,578 445.93,578 446.5,578 447.08,578 447.65,578 448.22,578 448.8,578 449.37,578 449.94,578 450.52,578 451.09,578 451.66,578 452.24,578 452.81,578 453.38,578 453.96,578 454.53,578 455.1,578 455.68,578 456.25,578 456.82,578 457.4,578 457.97,578 458.55,578 459.12,578 459.69,578 460.27,578 460.84,578 461.41,578 461.99,578 462.56,578 463.13,578 463.71,578 464.28,578 464.85,578 465.43,578 466,578 466.57,578 467.15,578 467.72,578 468.29,578 468.87,578 469.44,578 470.02,578 470.59,578 471.16,578 471.74,578 472.31,578 472.88,578 473.46,578 474.03,578 474.6,578 475.18,578 475.75,578 476.32,578 476.9,578 477.47,578 478.04,578 478.62,578 479.19,578 479.76,578 480.34,578 480.91,578 481.49,578 482.06,578 482.63,578 483.21,578 483.78,578 484.35,578 484.93,578 485.5,578 486.07,578 486.65,578 487.22,578 487.79,578 488.37,577.99 488.94,577.98 489.51,577.94 490.09,577.84 490.66,577.6 491.23,577.1 491.81,576.16 492.38,574.55 492.96,572.09 493.53,568.77 494.1,564.83 494.68,560.85 495.25,557.6 495.82,555.86 496.4,556.06 496.97,558.15 497.54,561.61 498.12,565.64 498.69,569.49 499.26,572.66 499.84,574.93 500.41,576.39 500.98,577.23 501.56,577.67 502.13,577.87 502.7,577.95 503.28,577.98 503.85,578 504.43,578 505,578 505.57,578 506.15,578 506.72,578 507.29,578 507.87,578 508.44,578 509.01,578 509.59,577.99 510.16,577.98 510.73,577.93 511.31,577.8 511.88,577.49 512.45,576.78 513.03,575.35 513.6,572.74 514.17,568.49 514.75,562.31 515.32,554.36 515.9,545.48 516.47,537.16 517.04,531.18 517.62,529 518.19,531.18 518.76,537.16 519.34,545.48 519.91,554.36 520.48,562.31 521.06,568.49 521.63,572.74 522.2,575.35 522.78,576.78 523.35,577.49 523.92,577.8 524.5,577.93 525.07,577.98 525.64,577.99 526.22,578 526.79,578 527.37,578 527.94,578 528.51,578 529.09,578 529.66,578 530.23,578 530.81,577.99 531.38,577.96 531.95,577.89 532.53,577.74 533.1,577.45 533.67,576.99 534.25,576.41 534.82,575.84 535.39,575.47 535.97,575.43 536.54,575.75 537.11,576.29 537.69,576.88 538.26,577.37 538.84,577.69 539.41,577.86 539.98,577.94 540.56,577.95 541.13,577.92 541.7,577.82 542.28,577.6 542.85,577.16 543.42,576.36 544,575.02 544.57,572.97 545.14,570.09 545.72,566.45 546.29,562.31 546.86,558.2 547.44,554.77 548.01,552.65 548.58,552.24 549.16,553.59 549.73,556.36 550.31,559.95 550.88,563.72 551.45,567.1 552.03,569.8 552.6,571.72 553.17,572.95 553.75,573.67 554.32,574.07 554.89,574.31 555.47,574.49 556.04,574.67 556.61,574.88 557.19,575.13 557.76,575.4 558.33,575.7 558.91,575.98 559.48,576.24 560.05,576.4 560.63,576.36 561.2,575.91 561.78,574.73 562.35,572.31 562.92,568.07 563.5,561.46 564.07,552.26 564.64,540.9 565.22,528.62 565.79,517.4 566.36,509.45 566.94,506.55 567.51,509.36 568.08,517.2 568.66,528.29 569.23,540.41 569.8,551.58 570.38,560.55 570.95,566.91 571.52,570.89 572.1,573.07 572.67,574.07 573.25,574.41 573.82,574.47 574.39,574.45 574.97,574.49 575.54,574.62 576.11,574.85 576.69,575.17 577.26,575.54 577.83,575.95 578.41,576.34 578.98,576.71 579.55,577.04 580.13,577.3 580.7,577.51 581.27,577.67 581.85,577.79 582.42,577.87 582.99,577.92 583.57,577.95 584.14,577.97 584.72,577.99 585.29,577.99 585.86,577.99 586.44,577.99 587.01,577.97 587.58,577.92 588.16,577.81 588.73,577.57 589.3,577.1 589.88,576.28 590.45,575 591.02,573.23 591.6,571.07 592.17,568.81 592.74,566.86 593.32,565.66 593.89,565.46 594.46,566.25 595.04,567.67 595.61,569.19 596.19,570.28 596.76,570.62 597.33,570.28 597.91,569.62 598.48,569.17 599.05,569.35 599.63,570.31 600.2,571.84 600.77,573.59 601.35,575.17 601.92,576.38 602.49,577.17 603.07,577.62 603.64,577.85 604.21,577.94 604.79,577.98 605.36,577.99 605.93,578 606.51,578 607.08,577.99 607.66,577.99 608.23,577.98 608.8,577.96 609.38,577.93 609.95,577.9 610.52,577.85 611.1,577.78 611.67,577.69 612.24,577.58 612.82,577.46 613.39,577.32 613.96,577.18 614.54,577.05 615.11,576.94 615.68,576.85 616.26,576.81 616.83,576.8 617.4,576.84 617.98,576.92 618.55,577.03 619.13,577.16 619.7,577.3 620.27,577.43 620.85,577.56 621.42,577.67 621.99,577.76 622.57,577.83 623.14,577.89 623.71,577.93 624.29,577.95 624.86,577.97 625.43,577.98 626.01,577.99 626.58,578 627.15,578 627.73,578 628.3,578 628.87,578 629.45,578 630.02,578 630.6,578 631.17,578 631.74,578 632.32,578 632.89,578 633.46,578 634.04,578 634.61,578 635.18,578 635.76,578 636.33,578 636.9,578 637.48,578 638.05,578 638.62,578 639.2,578 639.77,578 640.34,578 640.92,578 641.49,578 642.07,578 642.64,578 643.21,578 643.79,578 644.36,578 644.93,578 645.51,578 646.08,578 646.65,578 647.23,578 647.8,578 648.37,578 648.95,578 649.52,578 650.09,578 650.67,578 651.24,578 651.81,578 652.39,578 652.96,578 653.54,578 654.11,578" fill="none" stroke="#ad2c67" stroke-width="1.05" stroke-linejoin="round"/>
<line x1="425.5" y1="578.4" x2="655.1" y2="578.4" stroke="#111" stroke-width="1.0" />
<rect x="425.5" y="492.3" width="229.6" height="172.1" fill="none" stroke="#222" stroke-width="1.1"/>
<line x1="422.7" y1="506.5" x2="425.5" y2="506.5" stroke="#222" stroke-width="0.9" />
<text x="421.5" y="508.5" font-size="6.1" font-weight="bold" text-anchor="end" fill="#222" font-style="normal" >100</text>
<line x1="422.7" y1="542.5" x2="425.5" y2="542.5" stroke="#222" stroke-width="0.9" />
<text x="421.5" y="544.5" font-size="6.1" font-weight="bold" text-anchor="end" fill="#222" font-style="normal" >50</text>
<line x1="422.7" y1="578.5" x2="425.5" y2="578.5" stroke="#222" stroke-width="0.9" />
<text x="421.5" y="580.3" font-size="6.1" font-weight="bold" text-anchor="end" fill="#222" font-style="normal" >0</text>
<line x1="422.7" y1="610.5" x2="425.5" y2="610.5" stroke="#222" stroke-width="0.9" />
<text x="421.5" y="612.3" font-size="6.1" font-weight="bold" text-anchor="end" fill="#222" font-style="normal" >-50</text>
<line x1="422.7" y1="645.5" x2="425.5" y2="645.5" stroke="#222" stroke-width="0.9" />
<text x="421.5" y="648" font-size="6.1" font-weight="bold" text-anchor="end" fill="#222" font-style="normal" >-100</text>
<line x1="423.9" y1="524.5" x2="425.5" y2="524.5" stroke="#222" stroke-width="0.8" />
<line x1="423.9" y1="560.5" x2="425.5" y2="560.5" stroke="#222" stroke-width="0.8" />
<line x1="423.9" y1="594.5" x2="425.5" y2="594.5" stroke="#222" stroke-width="0.8" />
<line x1="423.9" y1="628.5" x2="425.5" y2="628.5" stroke="#222" stroke-width="0.8" />
<text x="423.3" y="666.6" font-size="6.1" font-weight="bold" text-anchor="end" fill="#222" font-style="normal" >0</text>
<line x1="426.2" y1="664.4" x2="426.2" y2="666.4" stroke="#222" stroke-width="0.6" />
<text x="426.2" y="672.6" font-size="6.1" font-weight="bold" text-anchor="middle" fill="#222" font-style="normal" >20</text>
<line x1="483.55" y1="664.4" x2="483.55" y2="666.4" stroke="#222" stroke-width="0.6" />
<text x="483.55" y="672.6" font-size="6.1" font-weight="bold" text-anchor="middle" fill="#222" font-style="normal" >25</text>
<line x1="540.9" y1="664.4" x2="540.9" y2="666.4" stroke="#222" stroke-width="0.6" />
<text x="540.9" y="672.6" font-size="6.1" font-weight="bold" text-anchor="middle" fill="#222" font-style="normal" >30</text>
<line x1="598.25" y1="664.4" x2="598.25" y2="666.4" stroke="#222" stroke-width="0.6" />
<text x="598.25" y="672.6" font-size="6.1" font-weight="bold" text-anchor="middle" fill="#222" font-style="normal" >35</text>
<line x1="655.6" y1="664.4" x2="655.6" y2="666.4" stroke="#222" stroke-width="0.6" />
<text x="655.6" y="672.6" font-size="6.1" font-weight="bold" text-anchor="middle" fill="#222" font-style="normal" >40</text>
<text transform="translate(405.3 581.2) rotate(-90)" font-size="5.8" font-weight="bold" text-anchor="middle" fill="#222">Relative Intensity (%)</text>
<text x="428.5" y="502" font-size="8.2" font-weight="bold" text-anchor="start" fill="#111" font-style="normal" >Control</text>
<text x="428.3" y="661.2" font-size="8.2" font-weight="bold" text-anchor="start" fill="#111" font-style="normal" >Fucose Treated</text>
<rect x="605.6" y="623.2" width="46.2" height="38.1" fill="#fff" stroke="#444" stroke-width="0.7"/>
<line x1="618.5" y1="654.3" x2="618.5" y2="650.1" stroke="#2a2a2a" stroke-width="0.35" />
<line x1="618.5" y1="650.1" x2="618.5" y2="646.1" stroke="#2a2a2a" stroke-width="0.35" />
<line x1="618.4" y1="646.1" x2="614.4" y2="641.2" stroke="#2a2a2a" stroke-width="0.35" />
<line x1="618.4" y1="646.1" x2="622.6" y2="641.2" stroke="#2a2a2a" stroke-width="0.35" />
<line x1="614.4" y1="641.2" x2="611.9" y2="636.8" stroke="#2a2a2a" stroke-width="0.35" />
<line x1="611.5" y1="636.8" x2="611.5" y2="633" stroke="#2a2a2a" stroke-width="0.35" />
<line x1="614.4" y1="641.2" x2="615.4" y2="636.8" stroke="#2a2a2a" stroke-width="0.35" />
<line x1="615.5" y1="636.8" x2="615.5" y2="633" stroke="#2a2a2a" stroke-width="0.35" />
<line x1="622.6" y1="641.2" x2="620.3" y2="636.8" stroke="#2a2a2a" stroke-width="0.35" />
<line x1="620.5" y1="636.8" x2="620.5" y2="633" stroke="#2a2a2a" stroke-width="0.35" />
<line x1="622.6" y1="641.2" x2="625" y2="636.8" stroke="#2a2a2a" stroke-width="0.35" />
<line x1="625.5" y1="636.8" x2="625.5" y2="633" stroke="#2a2a2a" stroke-width="0.35" />
<path d="M610.4 630.51Q610.4 630.2 610.86 630.2L618.14 630.2Q618.45 630.2 618.45 630.02Q618.45 630.2 618.76 630.2L626.04 630.2Q626.5 630.2 626.5 630.51" fill="none" stroke="#666" stroke-width="0.28"/>
<line x1="618.4" y1="630.2" x2="618.4" y2="626.7" stroke="#666" stroke-width="0.27999999999999997" />
<rect x="617.55" y="653.45" width="1.7" height="1.7" fill="#2453a6" stroke="#222" stroke-width="0.25" transform="rotate(0 618.4 654.3)"/>
<rect x="617.55" y="649.25" width="1.7" height="1.7" fill="#2453a6" stroke="#222" stroke-width="0.25" transform="rotate(0 618.4 650.1)"/>
<circle cx="618.4" cy="646.1" r="0.85" fill="#3fae49" stroke="#222" stroke-width="0.25"/>
<circle cx="614.4" cy="641.2" r="0.85" fill="#3fae49" stroke="#222" stroke-width="0.25"/>
<circle cx="622.6" cy="641.2" r="0.85" fill="#3fae49" stroke="#222" stroke-width="0.25"/>
<rect x="611.05" y="635.95" width="1.7" height="1.7" fill="#2453a6" stroke="#222" stroke-width="0.25" transform="rotate(0 611.9 636.8)"/>
<circle cx="611.9" cy="633" r="0.85" fill="#f4e64a" stroke="#222" stroke-width="0.25"/>
<rect x="614.55" y="635.95" width="1.7" height="1.7" fill="#2453a6" stroke="#222" stroke-width="0.25" transform="rotate(0 615.4 636.8)"/>
<circle cx="615.4" cy="633" r="0.85" fill="#f4e64a" stroke="#222" stroke-width="0.25"/>
<rect x="619.45" y="635.95" width="1.7" height="1.7" fill="#2453a6" stroke="#222" stroke-width="0.25" transform="rotate(0 620.3 636.8)"/>
<circle cx="620.3" cy="633" r="0.85" fill="#f4e64a" stroke="#222" stroke-width="0.25"/>
<rect x="624.15" y="635.95" width="1.7" height="1.7" fill="#2453a6" stroke="#222" stroke-width="0.25" transform="rotate(0 625 636.8)"/>
<circle cx="625" cy="633" r="0.85" fill="#f4e64a" stroke="#222" stroke-width="0.25"/>
<path d="M618.4 625.85L619.25 626.7L618.4 627.55L617.55 626.7Z" fill="#a3359a" stroke="#222" stroke-width="0.17" transform="rotate(0 618.4 626.7)"/>
<line x1="611.9" y1="657.8" x2="624.5" y2="657.8" stroke="#ad2c67" stroke-width="1.0" />
<line x1="640.5" y1="654.3" x2="640.5" y2="650.1" stroke="#2a2a2a" stroke-width="0.35" />
<line x1="640.5" y1="650.1" x2="640.5" y2="646.1" stroke="#2a2a2a" stroke-width="0.35" />
<line x1="640.2" y1="646.1" x2="636.2" y2="641.2" stroke="#2a2a2a" stroke-width="0.35" />
<line x1="640.2" y1="646.1" x2="644.4" y2="641.2" stroke="#2a2a2a" stroke-width="0.35" />
<line x1="636.2" y1="641.2" x2="633.6" y2="636.8" stroke="#2a2a2a" stroke-width="0.35" />
<line x1="633.5" y1="636.8" x2="633.5" y2="633" stroke="#2a2a2a" stroke-width="0.35" />
<line x1="636.2" y1="641.2" x2="638.3" y2="636.8" stroke="#2a2a2a" stroke-width="0.35" />
<line x1="638.5" y1="636.8" x2="638.5" y2="633" stroke="#2a2a2a" stroke-width="0.35" />
<line x1="644.4" y1="641.2" x2="643" y2="636.8" stroke="#2a2a2a" stroke-width="0.35" />
<line x1="643.5" y1="636.8" x2="643.5" y2="633" stroke="#2a2a2a" stroke-width="0.35" />
<line x1="644.4" y1="641.2" x2="646.9" y2="636.8" stroke="#2a2a2a" stroke-width="0.35" />
<line x1="646.5" y1="636.8" x2="646.5" y2="633" stroke="#2a2a2a" stroke-width="0.35" />
<line x1="640.2" y1="654.5" x2="644.8" y2="654.5" stroke="#2a2a2a" stroke-width="0.35" />
<path d="M632.1 630.51Q632.1 630.2 632.56 630.2L639.94 630.2Q640.25 630.2 640.25 630.02Q640.25 630.2 640.56 630.2L647.94 630.2Q648.4 630.2 648.4 630.51" fill="none" stroke="#666" stroke-width="0.28"/>
<line x1="640.2" y1="630.2" x2="640.2" y2="626.7" stroke="#666" stroke-width="0.27999999999999997" />
<rect x="639.35" y="653.45" width="1.7" height="1.7" fill="#2453a6" stroke="#222" stroke-width="0.25" transform="rotate(0 640.2 654.3)"/>
<rect x="639.35" y="649.25" width="1.7" height="1.7" fill="#2453a6" stroke="#222" stroke-width="0.25" transform="rotate(0 640.2 650.1)"/>
<circle cx="640.2" cy="646.1" r="0.85" fill="#3fae49" stroke="#222" stroke-width="0.25"/>
<circle cx="636.2" cy="641.2" r="0.85" fill="#3fae49" stroke="#222" stroke-width="0.25"/>
<circle cx="644.4" cy="641.2" r="0.85" fill="#3fae49" stroke="#222" stroke-width="0.25"/>
<rect x="632.75" y="635.95" width="1.7" height="1.7" fill="#2453a6" stroke="#222" stroke-width="0.25" transform="rotate(0 633.6 636.8)"/>
<circle cx="633.6" cy="633" r="0.85" fill="#f4e64a" stroke="#222" stroke-width="0.25"/>
<rect x="637.45" y="635.95" width="1.7" height="1.7" fill="#2453a6" stroke="#222" stroke-width="0.25" transform="rotate(0 638.3 636.8)"/>
<circle cx="638.3" cy="633" r="0.85" fill="#f4e64a" stroke="#222" stroke-width="0.25"/>
<rect x="642.15" y="635.95" width="1.7" height="1.7" fill="#2453a6" stroke="#222" stroke-width="0.25" transform="rotate(0 643 636.8)"/>
<circle cx="643" cy="633" r="0.85" fill="#f4e64a" stroke="#222" stroke-width="0.25"/>
<rect x="646.05" y="635.95" width="1.7" height="1.7" fill="#2453a6" stroke="#222" stroke-width="0.25" transform="rotate(0 646.9 636.8)"/>
<circle cx="646.9" cy="633" r="0.85" fill="#f4e64a" stroke="#222" stroke-width="0.25"/>
<path d="M640.2 625.85L641.05 626.7L640.2 627.55L639.35 626.7Z" fill="#a3359a" stroke="#222" stroke-width="0.17" transform="rotate(0 640.2 626.7)"/>
<path d="M643.95 654.3L645.65 653.45L645.65 655.15Z" fill="#e8262b" stroke="#222" stroke-width="0.17" transform="rotate(0 644.8 654.3)"/>
<line x1="633.6" y1="657.8" x2="646.4" y2="657.8" stroke="#2858a6" stroke-width="1.0" />
</svg></body></html>
